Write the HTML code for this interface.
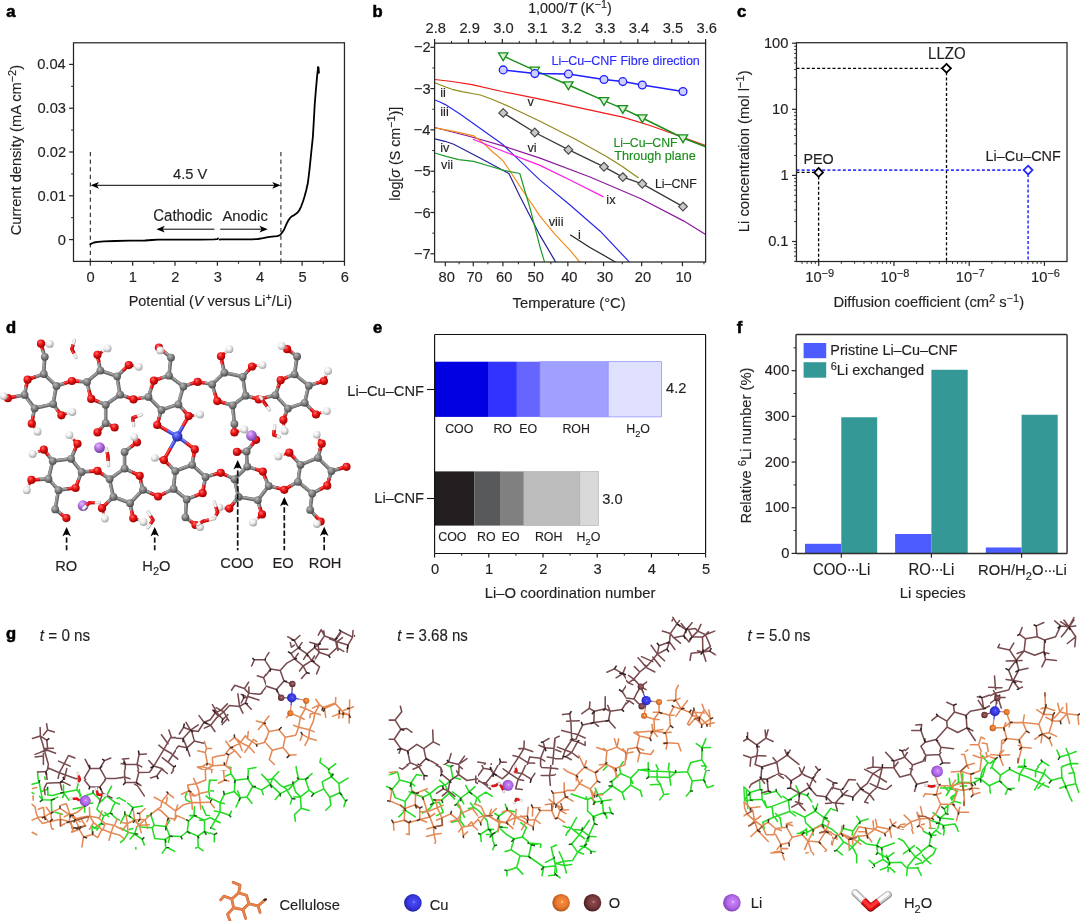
<!DOCTYPE html>
<html lang="en"><head><meta charset="utf-8"><title>Figure</title>
<style>
html,body{margin:0;padding:0;background:#fff;}
body{width:1080px;height:921px;overflow:hidden;}
svg{display:block;font-family:"Liberation Sans", sans-serif;}
text{white-space:pre;}
</style></head><body>
<svg width="1080" height="921" viewBox="0 0 1080 921">
<defs>
<clipPath id="clipb"><rect x="434.60" y="43.20" width="271.00" height="218.80"/></clipPath>
<radialGradient id="gC" cx="0.40" cy="0.36" r="0.68" fx="0.36" fy="0.30"><stop offset="0" stop-color="#bababa"/><stop offset="0.45" stop-color="#868686"/><stop offset="1" stop-color="#464646"/></radialGradient>
<radialGradient id="gO" cx="0.40" cy="0.36" r="0.68" fx="0.36" fy="0.30"><stop offset="0" stop-color="#ff6e6e"/><stop offset="0.45" stop-color="#ec1414"/><stop offset="1" stop-color="#8e0000"/></radialGradient>
<radialGradient id="gH" cx="0.40" cy="0.36" r="0.68" fx="0.36" fy="0.30"><stop offset="0" stop-color="#ffffff"/><stop offset="0.45" stop-color="#eeeeee"/><stop offset="1" stop-color="#9c9c9c"/></radialGradient>
<radialGradient id="gCu" cx="0.40" cy="0.36" r="0.68" fx="0.36" fy="0.30"><stop offset="0" stop-color="#8e96ff"/><stop offset="0.45" stop-color="#4450e8"/><stop offset="1" stop-color="#1a2080"/></radialGradient>
<radialGradient id="gLi" cx="0.40" cy="0.36" r="0.68" fx="0.36" fy="0.30"><stop offset="0" stop-color="#e6bcff"/><stop offset="0.45" stop-color="#b472e4"/><stop offset="1" stop-color="#6e3a9c"/></radialGradient>
<radialGradient id="gOr" cx="0.40" cy="0.36" r="0.68" fx="0.36" fy="0.30"><stop offset="0" stop-color="#ffb070"/><stop offset="0.45" stop-color="#e87a30"/><stop offset="1" stop-color="#8a3c10"/></radialGradient>
<radialGradient id="gBr" cx="0.40" cy="0.36" r="0.68" fx="0.36" fy="0.30"><stop offset="0" stop-color="#b08080"/><stop offset="0.45" stop-color="#7a4a4c"/><stop offset="1" stop-color="#3e2022"/></radialGradient>
<radialGradient id="gCu2" cx="0.42" cy="0.40" r="0.62" fx="0.40" fy="0.36"><stop offset="0" stop-color="#8a92ff"/><stop offset="0.12" stop-color="#4a55f0"/><stop offset="0.6" stop-color="#3a44dd"/><stop offset="1" stop-color="#151a7a"/></radialGradient>
<radialGradient id="LBr2" cx="0.54" cy="0.47" r="0.60" fx="0.56" fy="0.45"><stop offset="0" stop-color="#d8a8a8"/><stop offset="0.13" stop-color="#96585c"/><stop offset="0.55" stop-color="#7c4448"/><stop offset="0.85" stop-color="#54282c"/><stop offset="1" stop-color="#2a1012"/></radialGradient>
<clipPath id="cgA1"><rect x="20.0" y="700.0" width="175.0" height="172.0"/></clipPath>
<clipPath id="cgA3"><rect x="195.0" y="615.0" width="175.0" height="137.0"/></clipPath>
<clipPath id="cgA2"><rect x="195.0" y="752.0" width="175.0" height="132.0"/></clipPath>
<clipPath id="cgB1"><rect x="380.0" y="690.0" width="175.0" height="154.0"/></clipPath>
<clipPath id="cgB2"><rect x="555.0" y="610.0" width="175.0" height="142.0"/></clipPath>
<clipPath id="cgB3"><rect x="555.0" y="752.0" width="175.0" height="142.0"/></clipPath>
<clipPath id="cgB4"><rect x="440.0" y="844.0" width="115.0" height="46.0"/></clipPath>
<clipPath id="cgC1"><rect x="735.0" y="700.0" width="170.0" height="154.0"/></clipPath>
<clipPath id="cgC2"><rect x="905.0" y="610.0" width="175.0" height="142.0"/></clipPath>
<clipPath id="cgC3"><rect x="905.0" y="752.0" width="175.0" height="142.0"/></clipPath>
<clipPath id="cgC4"><rect x="760.0" y="854.0" width="145.0" height="36.0"/></clipPath>
<clipPath id="cgF1"><rect x="120.0" y="770.0" width="90.0" height="77.0"/></clipPath>
<clipPath id="cgF2"><rect x="30.0" y="780.0" width="90.0" height="77.0"/></clipPath>
<clipPath id="cgF3"><rect x="266.0" y="620.0" width="88.0" height="77.0"/></clipPath>
<clipPath id="cgF4"><rect x="266.0" y="697.0" width="88.0" height="73.0"/></clipPath>
<clipPath id="cgF5"><rect x="176.0" y="693.0" width="90.0" height="77.0"/></clipPath>
<clipPath id="cgF6"><rect x="389.2" y="765.0" width="88.80000000000001" height="77.0"/></clipPath>
<clipPath id="cgF7"><rect x="478.0" y="765.0" width="90.0" height="77.0"/></clipPath>
<clipPath id="cgF8"><rect x="555.0" y="740.0" width="85.0" height="77.0"/></clipPath>
<clipPath id="cgF9"><rect x="626.0" y="616.0" width="89.60000000000002" height="77.0"/></clipPath>
<clipPath id="cgF10"><rect x="626.0" y="693.0" width="89.60000000000002" height="77.0"/></clipPath>
<clipPath id="cgF11"><rect x="743.4" y="775.0" width="88.60000000000002" height="77.0"/></clipPath>
<clipPath id="cgF12"><rect x="832.0" y="790.0" width="90.0" height="77.0"/></clipPath>
<clipPath id="cgF13"><rect x="900.0" y="752.0" width="90.0" height="77.0"/></clipPath>
<clipPath id="cgF14"><rect x="990.0" y="690.0" width="90.0" height="77.0"/></clipPath>
<radialGradient id="LCu" cx="0.54" cy="0.47" r="0.60" fx="0.56" fy="0.45"><stop offset="0" stop-color="#a0a0ff"/><stop offset="0.13" stop-color="#4a4af6"/><stop offset="0.55" stop-color="#3838e0"/><stop offset="0.85" stop-color="#2626b0"/><stop offset="1" stop-color="#14146a"/></radialGradient>
<radialGradient id="LOr" cx="0.54" cy="0.47" r="0.60" fx="0.56" fy="0.45"><stop offset="0" stop-color="#ffe6a0"/><stop offset="0.13" stop-color="#f58a3c"/><stop offset="0.55" stop-color="#e87830"/><stop offset="0.85" stop-color="#b85818"/><stop offset="1" stop-color="#6a2c06"/></radialGradient>
<radialGradient id="LBr" cx="0.54" cy="0.47" r="0.60" fx="0.56" fy="0.45"><stop offset="0" stop-color="#e0a0a0"/><stop offset="0.13" stop-color="#8a4a4e"/><stop offset="0.55" stop-color="#74383c"/><stop offset="0.85" stop-color="#4e2024"/><stop offset="1" stop-color="#220a0c"/></radialGradient>
<radialGradient id="LLi" cx="0.54" cy="0.47" r="0.60" fx="0.56" fy="0.45"><stop offset="0" stop-color="#fbe0ff"/><stop offset="0.13" stop-color="#c884fa"/><stop offset="0.55" stop-color="#b268e6"/><stop offset="0.85" stop-color="#8a48be"/><stop offset="1" stop-color="#4a2070"/></radialGradient>
</defs>
<rect x="0" y="0" width="1080" height="921" fill="#ffffff"/>
<text transform="translate(6.29 16.85) scale(1.02 1)" font-size="16.27" fill="#000" font-weight="bold" stroke="#000" stroke-width="0.55" paint-order="stroke"><tspan>a</tspan></text>
<line x1="90.30" y1="152.00" x2="90.30" y2="261.40" stroke="#111" stroke-width="1.0" stroke-linecap="butt" stroke-dasharray="4.2 3.4"/>
<line x1="280.92" y1="152.00" x2="280.92" y2="261.40" stroke="#111" stroke-width="1.0" stroke-linecap="butt" stroke-dasharray="4.2 3.4"/>
<rect x="73.50" y="42.80" width="270.95" height="218.60" fill="none" stroke="#262626" stroke-width="1.25"/>
<line x1="90.30" y1="261.40" x2="90.30" y2="265.80" stroke="#262626" stroke-width="1.2" stroke-linecap="butt"/>
<text transform="translate(86.62 281.70) scale(0.955 1)" font-size="15.39" fill="#231f20" stroke="#231f20" stroke-width="0.16" paint-order="stroke"><tspan>0</tspan></text>
<line x1="132.66" y1="261.40" x2="132.66" y2="265.80" stroke="#262626" stroke-width="1.2" stroke-linecap="butt"/>
<text transform="translate(128.76 281.70) scale(0.955 1)" font-size="15.39" fill="#231f20" stroke="#231f20" stroke-width="0.16" paint-order="stroke"><tspan>1</tspan></text>
<line x1="175.02" y1="261.40" x2="175.02" y2="265.80" stroke="#262626" stroke-width="1.2" stroke-linecap="butt"/>
<text transform="translate(171.30 281.70) scale(0.955 1)" font-size="15.39" fill="#231f20" stroke="#231f20" stroke-width="0.16" paint-order="stroke"><tspan>2</tspan></text>
<line x1="217.38" y1="261.40" x2="217.38" y2="265.80" stroke="#262626" stroke-width="1.2" stroke-linecap="butt"/>
<text transform="translate(213.74 281.70) scale(0.955 1)" font-size="15.39" fill="#231f20" stroke="#231f20" stroke-width="0.16" paint-order="stroke"><tspan>3</tspan></text>
<line x1="259.74" y1="261.40" x2="259.74" y2="265.80" stroke="#262626" stroke-width="1.2" stroke-linecap="butt"/>
<text transform="translate(256.10 281.70) scale(0.955 1)" font-size="15.39" fill="#231f20" stroke="#231f20" stroke-width="0.16" paint-order="stroke"><tspan>4</tspan></text>
<line x1="302.10" y1="261.40" x2="302.10" y2="265.80" stroke="#262626" stroke-width="1.2" stroke-linecap="butt"/>
<text transform="translate(298.42 281.70) scale(0.955 1)" font-size="15.39" fill="#231f20" stroke="#231f20" stroke-width="0.16" paint-order="stroke"><tspan>5</tspan></text>
<line x1="344.46" y1="261.40" x2="344.46" y2="265.80" stroke="#262626" stroke-width="1.2" stroke-linecap="butt"/>
<text transform="translate(340.71 281.70) scale(0.955 1)" font-size="15.39" fill="#231f20" stroke="#231f20" stroke-width="0.16" paint-order="stroke"><tspan>6</tspan></text>
<line x1="111.48" y1="261.40" x2="111.48" y2="263.80" stroke="#262626" stroke-width="1.0" stroke-linecap="butt"/>
<line x1="153.84" y1="261.40" x2="153.84" y2="263.80" stroke="#262626" stroke-width="1.0" stroke-linecap="butt"/>
<line x1="196.20" y1="261.40" x2="196.20" y2="263.80" stroke="#262626" stroke-width="1.0" stroke-linecap="butt"/>
<line x1="238.56" y1="261.40" x2="238.56" y2="263.80" stroke="#262626" stroke-width="1.0" stroke-linecap="butt"/>
<line x1="280.92" y1="261.40" x2="280.92" y2="263.80" stroke="#262626" stroke-width="1.0" stroke-linecap="butt"/>
<line x1="323.28" y1="261.40" x2="323.28" y2="263.80" stroke="#262626" stroke-width="1.0" stroke-linecap="butt"/>
<line x1="69.10" y1="239.60" x2="73.50" y2="239.60" stroke="#262626" stroke-width="1.2" stroke-linecap="butt"/>
<text transform="translate(57.76 244.50) scale(0.955 1)" font-size="15.39" fill="#231f20" stroke="#231f20" stroke-width="0.16" paint-order="stroke"><tspan>0</tspan></text>
<line x1="69.10" y1="195.80" x2="73.50" y2="195.80" stroke="#262626" stroke-width="1.2" stroke-linecap="butt"/>
<text transform="translate(37.47 200.70) scale(0.955 1)" font-size="15.39" fill="#231f20" stroke="#231f20" stroke-width="0.16" paint-order="stroke"><tspan>0.01</tspan></text>
<line x1="69.10" y1="152.00" x2="73.50" y2="152.00" stroke="#262626" stroke-width="1.2" stroke-linecap="butt"/>
<text transform="translate(37.47 156.90) scale(0.955 1)" font-size="15.39" fill="#231f20" stroke="#231f20" stroke-width="0.16" paint-order="stroke"><tspan>0.02</tspan></text>
<line x1="69.10" y1="108.20" x2="73.50" y2="108.20" stroke="#262626" stroke-width="1.2" stroke-linecap="butt"/>
<text transform="translate(37.40 113.10) scale(0.955 1)" font-size="15.39" fill="#231f20" stroke="#231f20" stroke-width="0.16" paint-order="stroke"><tspan>0.03</tspan></text>
<line x1="69.10" y1="64.40" x2="73.50" y2="64.40" stroke="#262626" stroke-width="1.2" stroke-linecap="butt"/>
<text transform="translate(37.18 69.30) scale(0.955 1)" font-size="15.39" fill="#231f20" stroke="#231f20" stroke-width="0.16" paint-order="stroke"><tspan>0.04</tspan></text>
<line x1="71.10" y1="217.70" x2="73.50" y2="217.70" stroke="#262626" stroke-width="1.0" stroke-linecap="butt"/>
<line x1="71.10" y1="173.90" x2="73.50" y2="173.90" stroke="#262626" stroke-width="1.0" stroke-linecap="butt"/>
<line x1="71.10" y1="130.10" x2="73.50" y2="130.10" stroke="#262626" stroke-width="1.0" stroke-linecap="butt"/>
<line x1="71.10" y1="86.30" x2="73.50" y2="86.30" stroke="#262626" stroke-width="1.0" stroke-linecap="butt"/>
<text transform="translate(128.64 305.80) scale(0.955 1)" font-size="15.18" fill="#231f20" stroke="#231f20" stroke-width="0.16" paint-order="stroke"><tspan>Potential (</tspan><tspan font-style="italic">V</tspan><tspan> versus Li</tspan><tspan dy="-4.86" font-size="11.38">+</tspan><tspan dy="4.86">/Li)</tspan></text>
<text transform="translate(21.20 235.23) rotate(-90) scale(0.955 1)" font-size="15.34" fill="#231f20" stroke="#231f20" stroke-width="0.16" paint-order="stroke"><tspan>Current density (mA cm</tspan><tspan dy="-4.91" font-size="11.51">−2</tspan><tspan dy="4.91">)</tspan></text>
<polyline points="90.30,244.20 91.50,243.60 94.00,242.50 98.00,241.80 104.00,241.30 115.00,241.00 130.00,240.70 145.00,240.50 152.00,240.00 158.00,239.60 175.00,239.60 200.00,239.60 214.00,239.30 217.30,239.10 218.00,238.40" fill="none" stroke="#000" stroke-width="1.8" stroke-linejoin="round" stroke-linecap="round"/>
<polyline points="219.60,239.60 221.00,239.40 240.00,239.40 252.00,239.30 258.00,239.00 263.00,238.20 268.00,237.20 272.00,236.70 277.00,236.20 279.50,235.40 281.00,234.10 283.90,230.00 286.90,223.20 288.60,220.00 290.10,217.90 292.00,216.20 294.20,215.10 296.00,213.80 297.60,212.50 299.40,210.00 301.00,206.80 302.80,202.00 304.40,197.00 306.20,190.50 307.80,183.30 309.00,174.00 310.10,163.90 311.50,150.00 312.90,136.60 313.80,121.00 314.70,104.70 315.80,91.00 317.00,77.30 318.00,68.00" fill="none" stroke="#000" stroke-width="1.8" stroke-linejoin="round" stroke-linecap="round"/>
<line x1="318.20" y1="67.50" x2="318.60" y2="72.50" stroke="#000" stroke-width="2.4" stroke-linecap="round"/>
<line x1="95.30" y1="185.30" x2="275.92" y2="185.30" stroke="#000" stroke-width="1.0" stroke-linecap="butt"/>
<path d="M90.60,185.30 L99.00,181.90 L96.80,185.30 L99.00,188.70 Z" fill="#000" stroke="none" stroke-width="1" stroke-linejoin="round" stroke-linecap="round"/>
<path d="M280.62,185.30 L272.22,188.70 L274.42,185.30 L272.22,181.90 Z" fill="#000" stroke="none" stroke-width="1" stroke-linejoin="round" stroke-linecap="round"/>
<text transform="translate(173.09 179.20) scale(0.955 1)" font-size="15.39" fill="#231f20" stroke="#231f20" stroke-width="0.16" paint-order="stroke"><tspan>4.5 V</tspan></text>
<line x1="161.00" y1="229.20" x2="214.40" y2="229.20" stroke="#000" stroke-width="1.0" stroke-linecap="butt"/>
<path d="M156.40,229.20 L164.80,225.80 L162.60,229.20 L164.80,232.60 Z" fill="#000" stroke="none" stroke-width="1" stroke-linejoin="round" stroke-linecap="round"/>
<line x1="220.20" y1="229.20" x2="263.00" y2="229.20" stroke="#000" stroke-width="1.0" stroke-linecap="butt"/>
<path d="M267.80,229.20 L259.40,232.60 L261.60,229.20 L259.40,225.80 Z" fill="#000" stroke="none" stroke-width="1" stroke-linejoin="round" stroke-linecap="round"/>
<text transform="translate(153.25 220.60) scale(0.955 1)" font-size="15.69" fill="#231f20" stroke="#231f20" stroke-width="0.16" paint-order="stroke"><tspan>Cathodic</tspan></text>
<text transform="translate(222.40 220.60) scale(0.955 1)" font-size="15.56" fill="#231f20" stroke="#231f20" stroke-width="0.16" paint-order="stroke"><tspan>Anodic</tspan></text>
<text transform="translate(372.62 16.85) scale(1.02 1)" font-size="16.27" fill="#000" font-weight="bold" stroke="#000" stroke-width="0.55" paint-order="stroke"><tspan>b</tspan></text>
<g clip-path="url(#clipb)">
<polyline points="434.80,79.50 452.00,81.50 472.00,84.60 502.00,91.50 540.00,99.20 580.00,107.80 622.80,117.10 650.00,125.50 680.00,136.30 705.60,145.50" fill="none" stroke="#f21a1a" stroke-width="1.2" stroke-linejoin="round" stroke-linecap="butt"/>
<polyline points="434.80,82.80 445.00,86.70 452.00,89.30 462.00,91.60 472.00,93.50 480.40,95.00 492.00,99.30 510.00,107.00 540.00,121.30 575.00,139.00 606.90,156.70 622.00,166.20 638.70,178.00" fill="none" stroke="#8f8a1a" stroke-width="1.2" stroke-linejoin="round" stroke-linecap="butt"/>
<polyline points="434.80,100.00 440.00,102.00 445.30,104.60 460.00,114.00 502.50,144.20 540.00,180.10 570.00,205.00 600.20,231.20 628.30,260.90 630.00,263.00" fill="none" stroke="#2a2ae8" stroke-width="1.2" stroke-linejoin="round" stroke-linecap="butt"/>
<polyline points="434.80,127.50 470.00,136.50 502.00,145.60 540.00,158.10 590.00,177.00 640.40,198.50 683.90,221.10 705.60,234.50" fill="none" stroke="#8a1a9a" stroke-width="1.2" stroke-linejoin="round" stroke-linecap="butt"/>
<polyline points="434.80,127.80 455.00,131.60 473.70,135.80 485.00,144.50 493.80,153.00 498.00,156.30 503.00,160.90 510.00,171.00 520.00,186.50 540.00,216.10 555.00,234.30 570.10,250.40 578.80,260.90 581.00,263.50" fill="none" stroke="#f28c1e" stroke-width="1.2" stroke-linejoin="round" stroke-linecap="butt"/>
<polyline points="472.90,139.20 500.00,150.00 540.00,165.40 570.00,180.00 603.60,196.90" fill="none" stroke="#ff1ae0" stroke-width="1.2" stroke-linejoin="round" stroke-linecap="butt"/>
<polyline points="434.80,138.80 445.00,141.30 453.70,144.20 480.00,158.00 508.90,173.50 520.00,196.50 540.00,235.40 555.00,260.90 557.00,264.00" fill="none" stroke="#24249a" stroke-width="1.2" stroke-linejoin="round" stroke-linecap="butt"/>
<polyline points="434.80,153.00 447.00,156.60 458.70,159.70 473.70,161.40 490.00,166.30 503.90,170.40 510.00,171.70 519.80,173.50 524.00,188.00 530.00,208.00 540.00,247.00 544.20,260.90 545.00,264.00" fill="none" stroke="#1f9a2e" stroke-width="1.2" stroke-linejoin="round" stroke-linecap="butt"/>
<polyline points="570.10,234.70 590.00,247.50 613.60,260.90 617.00,263.00" fill="none" stroke="#222" stroke-width="1.2" stroke-linejoin="round" stroke-linecap="butt"/>
</g>
<polyline points="503.20,112.90 534.80,132.50 568.40,149.70 604.00,166.80 622.80,177.10 642.30,183.80 683.00,206.60" fill="none" stroke="#3c3c3c" stroke-width="1.35" stroke-linejoin="round" stroke-linecap="butt"/>
<polygon points="503.20,108.55 507.55,112.90 503.20,117.25 498.85,112.90" fill="#c9c9c9" stroke="#4a4a4a" stroke-width="1.2" stroke-linejoin="miter" stroke-linecap="butt"/>
<polygon points="534.80,128.15 539.15,132.50 534.80,136.85 530.45,132.50" fill="#c9c9c9" stroke="#4a4a4a" stroke-width="1.2" stroke-linejoin="miter" stroke-linecap="butt"/>
<polygon points="568.40,145.35 572.75,149.70 568.40,154.05 564.05,149.70" fill="#c9c9c9" stroke="#4a4a4a" stroke-width="1.2" stroke-linejoin="miter" stroke-linecap="butt"/>
<polygon points="604.00,162.45 608.35,166.80 604.00,171.15 599.65,166.80" fill="#c9c9c9" stroke="#4a4a4a" stroke-width="1.2" stroke-linejoin="miter" stroke-linecap="butt"/>
<polygon points="622.80,172.75 627.15,177.10 622.80,181.45 618.45,177.10" fill="#c9c9c9" stroke="#4a4a4a" stroke-width="1.2" stroke-linejoin="miter" stroke-linecap="butt"/>
<polygon points="642.30,179.45 646.65,183.80 642.30,188.15 637.95,183.80" fill="#c9c9c9" stroke="#4a4a4a" stroke-width="1.2" stroke-linejoin="miter" stroke-linecap="butt"/>
<polygon points="683.00,202.25 687.35,206.60 683.00,210.95 678.65,206.60" fill="#c9c9c9" stroke="#4a4a4a" stroke-width="1.2" stroke-linejoin="miter" stroke-linecap="butt"/>
<polyline points="503.20,56.00 534.80,70.30 568.40,85.00 604.00,100.70 622.80,108.70 642.30,118.00 683.00,138.00 705.60,146.80" fill="none" stroke="#1a8f1a" stroke-width="1.45" stroke-linejoin="round" stroke-linecap="butt"/>
<polygon points="498.50,52.90 507.90,52.90 503.20,60.70" fill="#d5f2d5" stroke="#1a8f1a" stroke-width="1.3" stroke-linejoin="miter" stroke-linecap="butt"/>
<polygon points="530.10,67.20 539.50,67.20 534.80,75.00" fill="#d5f2d5" stroke="#1a8f1a" stroke-width="1.3" stroke-linejoin="miter" stroke-linecap="butt"/>
<polygon points="563.70,81.90 573.10,81.90 568.40,89.70" fill="#d5f2d5" stroke="#1a8f1a" stroke-width="1.3" stroke-linejoin="miter" stroke-linecap="butt"/>
<polygon points="599.30,97.60 608.70,97.60 604.00,105.40" fill="#d5f2d5" stroke="#1a8f1a" stroke-width="1.3" stroke-linejoin="miter" stroke-linecap="butt"/>
<polygon points="618.10,105.60 627.50,105.60 622.80,113.40" fill="#d5f2d5" stroke="#1a8f1a" stroke-width="1.3" stroke-linejoin="miter" stroke-linecap="butt"/>
<polygon points="637.60,114.90 647.00,114.90 642.30,122.70" fill="#d5f2d5" stroke="#1a8f1a" stroke-width="1.3" stroke-linejoin="miter" stroke-linecap="butt"/>
<polygon points="678.30,134.90 687.70,134.90 683.00,142.70" fill="#d5f2d5" stroke="#1a8f1a" stroke-width="1.3" stroke-linejoin="miter" stroke-linecap="butt"/>
<polyline points="503.20,69.90 534.80,73.60 568.40,74.10 604.00,79.50 622.80,81.60 642.30,85.00 683.00,91.50" fill="none" stroke="#1f1fff" stroke-width="1.5" stroke-linejoin="round" stroke-linecap="butt"/>
<circle cx="503.20" cy="69.90" r="3.90" fill="#cfcfff" stroke="#1f1fff" stroke-width="1.3"/>
<circle cx="534.80" cy="73.60" r="3.90" fill="#cfcfff" stroke="#1f1fff" stroke-width="1.3"/>
<circle cx="568.40" cy="74.10" r="3.90" fill="#cfcfff" stroke="#1f1fff" stroke-width="1.3"/>
<circle cx="604.00" cy="79.50" r="3.90" fill="#cfcfff" stroke="#1f1fff" stroke-width="1.3"/>
<circle cx="622.80" cy="81.60" r="3.90" fill="#cfcfff" stroke="#1f1fff" stroke-width="1.3"/>
<circle cx="642.30" cy="85.00" r="3.90" fill="#cfcfff" stroke="#1f1fff" stroke-width="1.3"/>
<circle cx="683.00" cy="91.50" r="3.90" fill="#cfcfff" stroke="#1f1fff" stroke-width="1.3"/>
<rect x="434.60" y="43.20" width="271.00" height="218.80" fill="none" stroke="#262626" stroke-width="1.25"/>
<line x1="434.60" y1="39.00" x2="434.60" y2="43.20" stroke="#262626" stroke-width="1.2" stroke-linecap="butt"/>
<text transform="translate(425.51 32.70) scale(0.955 1)" font-size="15.39" fill="#231f20" stroke="#231f20" stroke-width="0.16" paint-order="stroke"><tspan>2.8</tspan></text>
<line x1="468.48" y1="39.00" x2="468.48" y2="43.20" stroke="#262626" stroke-width="1.2" stroke-linecap="butt"/>
<text transform="translate(459.42 32.70) scale(0.955 1)" font-size="15.39" fill="#231f20" stroke="#231f20" stroke-width="0.16" paint-order="stroke"><tspan>2.9</tspan></text>
<line x1="502.35" y1="39.00" x2="502.35" y2="43.20" stroke="#262626" stroke-width="1.2" stroke-linecap="butt"/>
<text transform="translate(493.33 32.70) scale(0.955 1)" font-size="15.39" fill="#231f20" stroke="#231f20" stroke-width="0.16" paint-order="stroke"><tspan>3.0</tspan></text>
<line x1="536.22" y1="39.00" x2="536.22" y2="43.20" stroke="#262626" stroke-width="1.2" stroke-linecap="butt"/>
<text transform="translate(527.28 32.70) scale(0.955 1)" font-size="15.39" fill="#231f20" stroke="#231f20" stroke-width="0.16" paint-order="stroke"><tspan>3.1</tspan></text>
<line x1="570.10" y1="39.00" x2="570.10" y2="43.20" stroke="#262626" stroke-width="1.2" stroke-linecap="butt"/>
<text transform="translate(561.16 32.70) scale(0.955 1)" font-size="15.39" fill="#231f20" stroke="#231f20" stroke-width="0.16" paint-order="stroke"><tspan>3.2</tspan></text>
<line x1="603.98" y1="39.00" x2="603.98" y2="43.20" stroke="#262626" stroke-width="1.2" stroke-linecap="butt"/>
<text transform="translate(595.00 32.70) scale(0.955 1)" font-size="15.39" fill="#231f20" stroke="#231f20" stroke-width="0.16" paint-order="stroke"><tspan>3.3</tspan></text>
<line x1="637.85" y1="39.00" x2="637.85" y2="43.20" stroke="#262626" stroke-width="1.2" stroke-linecap="butt"/>
<text transform="translate(628.76 32.70) scale(0.955 1)" font-size="15.39" fill="#231f20" stroke="#231f20" stroke-width="0.16" paint-order="stroke"><tspan>3.4</tspan></text>
<line x1="671.73" y1="39.00" x2="671.73" y2="43.20" stroke="#262626" stroke-width="1.2" stroke-linecap="butt"/>
<text transform="translate(662.75 32.70) scale(0.955 1)" font-size="15.39" fill="#231f20" stroke="#231f20" stroke-width="0.16" paint-order="stroke"><tspan>3.5</tspan></text>
<line x1="705.60" y1="39.00" x2="705.60" y2="43.20" stroke="#262626" stroke-width="1.2" stroke-linecap="butt"/>
<text transform="translate(696.62 32.70) scale(0.955 1)" font-size="15.39" fill="#231f20" stroke="#231f20" stroke-width="0.16" paint-order="stroke"><tspan>3.6</tspan></text>
<line x1="451.54" y1="40.90" x2="451.54" y2="43.20" stroke="#262626" stroke-width="1.0" stroke-linecap="butt"/>
<line x1="485.41" y1="40.90" x2="485.41" y2="43.20" stroke="#262626" stroke-width="1.0" stroke-linecap="butt"/>
<line x1="519.29" y1="40.90" x2="519.29" y2="43.20" stroke="#262626" stroke-width="1.0" stroke-linecap="butt"/>
<line x1="553.16" y1="40.90" x2="553.16" y2="43.20" stroke="#262626" stroke-width="1.0" stroke-linecap="butt"/>
<line x1="587.04" y1="40.90" x2="587.04" y2="43.20" stroke="#262626" stroke-width="1.0" stroke-linecap="butt"/>
<line x1="620.91" y1="40.90" x2="620.91" y2="43.20" stroke="#262626" stroke-width="1.0" stroke-linecap="butt"/>
<line x1="654.79" y1="40.90" x2="654.79" y2="43.20" stroke="#262626" stroke-width="1.0" stroke-linecap="butt"/>
<line x1="688.66" y1="40.90" x2="688.66" y2="43.20" stroke="#262626" stroke-width="1.0" stroke-linecap="butt"/>
<line x1="445.32" y1="262.00" x2="445.32" y2="266.20" stroke="#262626" stroke-width="1.2" stroke-linecap="butt"/>
<text transform="translate(438.53 281.70) scale(0.955 1)" font-size="15.39" fill="#231f20" stroke="#231f20" stroke-width="0.16" paint-order="stroke"><tspan>80</tspan></text>
<line x1="473.28" y1="262.00" x2="473.28" y2="266.20" stroke="#262626" stroke-width="1.2" stroke-linecap="butt"/>
<text transform="translate(466.41 281.70) scale(0.955 1)" font-size="15.39" fill="#231f20" stroke="#231f20" stroke-width="0.16" paint-order="stroke"><tspan>70</tspan></text>
<line x1="502.91" y1="262.00" x2="502.91" y2="266.20" stroke="#262626" stroke-width="1.2" stroke-linecap="butt"/>
<text transform="translate(496.04 281.70) scale(0.955 1)" font-size="15.39" fill="#231f20" stroke="#231f20" stroke-width="0.16" paint-order="stroke"><tspan>60</tspan></text>
<line x1="534.37" y1="262.00" x2="534.37" y2="266.20" stroke="#262626" stroke-width="1.2" stroke-linecap="butt"/>
<text transform="translate(527.58 281.70) scale(0.955 1)" font-size="15.39" fill="#231f20" stroke="#231f20" stroke-width="0.16" paint-order="stroke"><tspan>50</tspan></text>
<line x1="567.85" y1="262.00" x2="567.85" y2="266.20" stroke="#262626" stroke-width="1.2" stroke-linecap="butt"/>
<text transform="translate(561.20 281.70) scale(0.955 1)" font-size="15.39" fill="#231f20" stroke="#231f20" stroke-width="0.16" paint-order="stroke"><tspan>40</tspan></text>
<line x1="603.53" y1="262.00" x2="603.53" y2="266.20" stroke="#262626" stroke-width="1.2" stroke-linecap="butt"/>
<text transform="translate(596.78 281.70) scale(0.955 1)" font-size="15.39" fill="#231f20" stroke="#231f20" stroke-width="0.16" paint-order="stroke"><tspan>30</tspan></text>
<line x1="641.65" y1="262.00" x2="641.65" y2="266.20" stroke="#262626" stroke-width="1.2" stroke-linecap="butt"/>
<text transform="translate(634.78 281.70) scale(0.955 1)" font-size="15.39" fill="#231f20" stroke="#231f20" stroke-width="0.16" paint-order="stroke"><tspan>20</tspan></text>
<line x1="682.46" y1="262.00" x2="682.46" y2="266.20" stroke="#262626" stroke-width="1.2" stroke-linecap="butt"/>
<text transform="translate(675.41 281.70) scale(0.955 1)" font-size="15.39" fill="#231f20" stroke="#231f20" stroke-width="0.16" paint-order="stroke"><tspan>10</tspan></text>
<line x1="459.10" y1="262.00" x2="459.10" y2="264.30" stroke="#262626" stroke-width="1.0" stroke-linecap="butt"/>
<line x1="487.87" y1="262.00" x2="487.87" y2="264.30" stroke="#262626" stroke-width="1.0" stroke-linecap="butt"/>
<line x1="518.40" y1="262.00" x2="518.40" y2="264.30" stroke="#262626" stroke-width="1.0" stroke-linecap="butt"/>
<line x1="550.85" y1="262.00" x2="550.85" y2="264.30" stroke="#262626" stroke-width="1.0" stroke-linecap="butt"/>
<line x1="585.40" y1="262.00" x2="585.40" y2="264.30" stroke="#262626" stroke-width="1.0" stroke-linecap="butt"/>
<line x1="622.27" y1="262.00" x2="622.27" y2="264.30" stroke="#262626" stroke-width="1.0" stroke-linecap="butt"/>
<line x1="661.70" y1="262.00" x2="661.70" y2="264.30" stroke="#262626" stroke-width="1.0" stroke-linecap="butt"/>
<line x1="703.97" y1="262.00" x2="703.97" y2="264.30" stroke="#262626" stroke-width="1.0" stroke-linecap="butt"/>
<line x1="430.40" y1="253.80" x2="434.60" y2="253.80" stroke="#262626" stroke-width="1.2" stroke-linecap="butt"/>
<text transform="translate(414.00 258.80) scale(0.955 1)" font-size="15.39" fill="#231f20" stroke="#231f20" stroke-width="0.16" paint-order="stroke"><tspan>−7</tspan></text>
<line x1="430.40" y1="212.50" x2="434.60" y2="212.50" stroke="#262626" stroke-width="1.2" stroke-linecap="butt"/>
<text transform="translate(413.93 217.50) scale(0.955 1)" font-size="15.39" fill="#231f20" stroke="#231f20" stroke-width="0.16" paint-order="stroke"><tspan>−6</tspan></text>
<line x1="430.40" y1="171.20" x2="434.60" y2="171.20" stroke="#262626" stroke-width="1.2" stroke-linecap="butt"/>
<text transform="translate(413.93 176.20) scale(0.955 1)" font-size="15.39" fill="#231f20" stroke="#231f20" stroke-width="0.16" paint-order="stroke"><tspan>−5</tspan></text>
<line x1="430.40" y1="129.90" x2="434.60" y2="129.90" stroke="#262626" stroke-width="1.2" stroke-linecap="butt"/>
<text transform="translate(413.71 134.90) scale(0.955 1)" font-size="15.39" fill="#231f20" stroke="#231f20" stroke-width="0.16" paint-order="stroke"><tspan>−4</tspan></text>
<line x1="430.40" y1="88.60" x2="434.60" y2="88.60" stroke="#262626" stroke-width="1.2" stroke-linecap="butt"/>
<text transform="translate(413.93 93.60) scale(0.955 1)" font-size="15.39" fill="#231f20" stroke="#231f20" stroke-width="0.16" paint-order="stroke"><tspan>−3</tspan></text>
<line x1="430.40" y1="47.30" x2="434.60" y2="47.30" stroke="#262626" stroke-width="1.2" stroke-linecap="butt"/>
<text transform="translate(414.00 52.30) scale(0.955 1)" font-size="15.39" fill="#231f20" stroke="#231f20" stroke-width="0.16" paint-order="stroke"><tspan>−2</tspan></text>
<line x1="432.30" y1="67.95" x2="434.60" y2="67.95" stroke="#262626" stroke-width="1.0" stroke-linecap="butt"/>
<line x1="432.30" y1="109.25" x2="434.60" y2="109.25" stroke="#262626" stroke-width="1.0" stroke-linecap="butt"/>
<line x1="432.30" y1="150.55" x2="434.60" y2="150.55" stroke="#262626" stroke-width="1.0" stroke-linecap="butt"/>
<line x1="432.30" y1="191.85" x2="434.60" y2="191.85" stroke="#262626" stroke-width="1.0" stroke-linecap="butt"/>
<line x1="432.30" y1="233.15" x2="434.60" y2="233.15" stroke="#262626" stroke-width="1.0" stroke-linecap="butt"/>
<text transform="translate(528.13 12.60) scale(0.955 1)" font-size="14.95" fill="#231f20" stroke="#231f20" stroke-width="0.16" paint-order="stroke"><tspan>1,000/</tspan><tspan font-style="italic">T</tspan><tspan> (K</tspan><tspan dy="-4.78" font-size="11.21">−1</tspan><tspan dy="4.78">)</tspan></text>
<text transform="translate(512.61 307.50) scale(0.955 1)" font-size="15.42" fill="#231f20" stroke="#231f20" stroke-width="0.16" paint-order="stroke"><tspan>Temperature (°C)</tspan></text>
<text transform="translate(400.00 200.73) rotate(-90) scale(0.955 1)" font-size="14.98" fill="#231f20" stroke="#231f20" stroke-width="0.16" paint-order="stroke"><tspan>log[</tspan><tspan font-style="italic">σ</tspan><tspan> (S cm</tspan><tspan dy="-4.79" font-size="11.23">−1</tspan><tspan dy="4.79">)]</tspan></text>
<text transform="translate(551.50 65.20) scale(0.955 1)" font-size="13.14" fill="#2a2aff" stroke="#2a2aff" stroke-width="0.16" paint-order="stroke"><tspan>Li–Cu–CNF Fibre direction</tspan></text>
<text transform="translate(613.42 146.70) scale(0.955 1)" font-size="12.87" fill="#1a8f1a" stroke="#1a8f1a" stroke-width="0.16" paint-order="stroke"><tspan>Li–Cu–CNF</tspan></text>
<text transform="translate(614.35 160.40) scale(0.955 1)" font-size="13.21" fill="#1a8f1a" stroke="#1a8f1a" stroke-width="0.16" paint-order="stroke"><tspan>Through plane</tspan></text>
<text transform="translate(654.91 188.20) scale(0.955 1)" font-size="12.95" fill="#231f20" stroke="#231f20" stroke-width="0.16" paint-order="stroke"><tspan>Li–CNF</tspan></text>
<text transform="translate(440.27 96.70) scale(0.955 1)" font-size="13.30" fill="#231f20" stroke="#231f20" stroke-width="0.16" paint-order="stroke"><tspan>ii</tspan></text>
<text transform="translate(440.27 115.90) scale(0.955 1)" font-size="13.30" fill="#231f20" stroke="#231f20" stroke-width="0.16" paint-order="stroke"><tspan>iii</tspan></text>
<text transform="translate(440.27 152.20) scale(0.955 1)" font-size="13.30" fill="#231f20" stroke="#231f20" stroke-width="0.16" paint-order="stroke"><tspan>iv</tspan></text>
<text transform="translate(441.10 168.90) scale(0.955 1)" font-size="13.30" fill="#231f20" stroke="#231f20" stroke-width="0.16" paint-order="stroke"><tspan>vii</tspan></text>
<text transform="translate(527.50 105.90) scale(0.955 1)" font-size="13.30" fill="#231f20" stroke="#231f20" stroke-width="0.16" paint-order="stroke"><tspan>v</tspan></text>
<text transform="translate(527.50 151.90) scale(0.955 1)" font-size="13.30" fill="#231f20" stroke="#231f20" stroke-width="0.16" paint-order="stroke"><tspan>vi</tspan></text>
<text transform="translate(548.70 225.80) scale(0.955 1)" font-size="13.30" fill="#231f20" stroke="#231f20" stroke-width="0.16" paint-order="stroke"><tspan>viii</tspan></text>
<text transform="translate(577.97 239.20) scale(0.955 1)" font-size="13.30" fill="#231f20" stroke="#231f20" stroke-width="0.16" paint-order="stroke"><tspan>i</tspan></text>
<text transform="translate(606.37 204.10) scale(0.955 1)" font-size="13.30" fill="#231f20" stroke="#231f20" stroke-width="0.16" paint-order="stroke"><tspan>ix</tspan></text>
<text transform="translate(736.92 16.85) scale(1.02 1)" font-size="16.27" fill="#000" font-weight="bold" stroke="#000" stroke-width="0.55" paint-order="stroke"><tspan>c</tspan></text>
<line x1="796.45" y1="68.30" x2="942.50" y2="68.30" stroke="#000" stroke-width="1.3" stroke-linecap="butt" stroke-dasharray="3.0 2.15"/>
<line x1="946.50" y1="72.30" x2="946.50" y2="261.50" stroke="#000" stroke-width="1.3" stroke-linecap="butt" stroke-dasharray="3.0 2.15"/>
<line x1="796.45" y1="172.40" x2="814.60" y2="172.40" stroke="#000" stroke-width="1.3" stroke-linecap="butt" stroke-dasharray="3.0 2.15"/>
<line x1="818.60" y1="176.40" x2="818.60" y2="261.50" stroke="#000" stroke-width="1.3" stroke-linecap="butt" stroke-dasharray="3.0 2.15"/>
<line x1="796.45" y1="170.10" x2="1024.10" y2="170.10" stroke="#3838ff" stroke-width="1.6" stroke-linecap="butt" stroke-dasharray="3.0 2.15"/>
<line x1="1028.10" y1="174.10" x2="1028.10" y2="261.50" stroke="#3838ff" stroke-width="1.6" stroke-linecap="butt" stroke-dasharray="3.0 2.15"/>
<polygon points="946.50,63.90 950.90,68.30 946.50,72.70 942.10,68.30" fill="#fff" stroke="#000" stroke-width="1.8" stroke-linejoin="miter" stroke-linecap="butt"/>
<polygon points="818.60,168.00 823.00,172.40 818.60,176.80 814.20,172.40" fill="#fff" stroke="#000" stroke-width="1.8" stroke-linejoin="miter" stroke-linecap="butt"/>
<polygon points="1028.10,165.70 1032.50,170.10 1028.10,174.50 1023.70,170.10" fill="#fff" stroke="#2a2aff" stroke-width="1.8" stroke-linejoin="miter" stroke-linecap="butt"/>
<rect x="796.45" y="42.70" width="270.55" height="218.80" fill="none" stroke="#262626" stroke-width="1.25"/>
<line x1="792.05" y1="43.20" x2="796.45" y2="43.20" stroke="#262626" stroke-width="1.2" stroke-linecap="butt"/>
<text transform="translate(763.94 47.90) scale(0.955 1)" font-size="15.39" fill="#231f20" stroke="#231f20" stroke-width="0.16" paint-order="stroke"><tspan>100</tspan></text>
<line x1="792.05" y1="109.30" x2="796.45" y2="109.30" stroke="#262626" stroke-width="1.2" stroke-linecap="butt"/>
<text transform="translate(772.10 114.00) scale(0.955 1)" font-size="15.39" fill="#231f20" stroke="#231f20" stroke-width="0.16" paint-order="stroke"><tspan>10</tspan></text>
<line x1="792.05" y1="175.40" x2="796.45" y2="175.40" stroke="#262626" stroke-width="1.2" stroke-linecap="butt"/>
<text transform="translate(780.40 180.10) scale(0.955 1)" font-size="15.39" fill="#231f20" stroke="#231f20" stroke-width="0.16" paint-order="stroke"><tspan>1</tspan></text>
<line x1="792.05" y1="241.50" x2="796.45" y2="241.50" stroke="#262626" stroke-width="1.2" stroke-linecap="butt"/>
<text transform="translate(768.13 246.20) scale(0.955 1)" font-size="15.39" fill="#231f20" stroke="#231f20" stroke-width="0.16" paint-order="stroke"><tspan>0.1</tspan></text>
<line x1="794.05" y1="261.40" x2="796.45" y2="261.40" stroke="#262626" stroke-width="0.9" stroke-linecap="butt"/>
<line x1="794.05" y1="256.16" x2="796.45" y2="256.16" stroke="#262626" stroke-width="0.9" stroke-linecap="butt"/>
<line x1="794.05" y1="251.74" x2="796.45" y2="251.74" stroke="#262626" stroke-width="0.9" stroke-linecap="butt"/>
<line x1="794.05" y1="247.91" x2="796.45" y2="247.91" stroke="#262626" stroke-width="0.9" stroke-linecap="butt"/>
<line x1="794.05" y1="244.52" x2="796.45" y2="244.52" stroke="#262626" stroke-width="0.9" stroke-linecap="butt"/>
<line x1="794.05" y1="221.60" x2="796.45" y2="221.60" stroke="#262626" stroke-width="0.9" stroke-linecap="butt"/>
<line x1="794.05" y1="209.96" x2="796.45" y2="209.96" stroke="#262626" stroke-width="0.9" stroke-linecap="butt"/>
<line x1="794.05" y1="201.70" x2="796.45" y2="201.70" stroke="#262626" stroke-width="0.9" stroke-linecap="butt"/>
<line x1="794.05" y1="195.30" x2="796.45" y2="195.30" stroke="#262626" stroke-width="0.9" stroke-linecap="butt"/>
<line x1="794.05" y1="190.06" x2="796.45" y2="190.06" stroke="#262626" stroke-width="0.9" stroke-linecap="butt"/>
<line x1="794.05" y1="185.64" x2="796.45" y2="185.64" stroke="#262626" stroke-width="0.9" stroke-linecap="butt"/>
<line x1="794.05" y1="181.81" x2="796.45" y2="181.81" stroke="#262626" stroke-width="0.9" stroke-linecap="butt"/>
<line x1="794.05" y1="178.42" x2="796.45" y2="178.42" stroke="#262626" stroke-width="0.9" stroke-linecap="butt"/>
<line x1="794.05" y1="155.50" x2="796.45" y2="155.50" stroke="#262626" stroke-width="0.9" stroke-linecap="butt"/>
<line x1="794.05" y1="143.86" x2="796.45" y2="143.86" stroke="#262626" stroke-width="0.9" stroke-linecap="butt"/>
<line x1="794.05" y1="135.60" x2="796.45" y2="135.60" stroke="#262626" stroke-width="0.9" stroke-linecap="butt"/>
<line x1="794.05" y1="129.20" x2="796.45" y2="129.20" stroke="#262626" stroke-width="0.9" stroke-linecap="butt"/>
<line x1="794.05" y1="123.96" x2="796.45" y2="123.96" stroke="#262626" stroke-width="0.9" stroke-linecap="butt"/>
<line x1="794.05" y1="119.54" x2="796.45" y2="119.54" stroke="#262626" stroke-width="0.9" stroke-linecap="butt"/>
<line x1="794.05" y1="115.71" x2="796.45" y2="115.71" stroke="#262626" stroke-width="0.9" stroke-linecap="butt"/>
<line x1="794.05" y1="112.32" x2="796.45" y2="112.32" stroke="#262626" stroke-width="0.9" stroke-linecap="butt"/>
<line x1="794.05" y1="89.40" x2="796.45" y2="89.40" stroke="#262626" stroke-width="0.9" stroke-linecap="butt"/>
<line x1="794.05" y1="77.76" x2="796.45" y2="77.76" stroke="#262626" stroke-width="0.9" stroke-linecap="butt"/>
<line x1="794.05" y1="69.50" x2="796.45" y2="69.50" stroke="#262626" stroke-width="0.9" stroke-linecap="butt"/>
<line x1="794.05" y1="63.10" x2="796.45" y2="63.10" stroke="#262626" stroke-width="0.9" stroke-linecap="butt"/>
<line x1="794.05" y1="57.86" x2="796.45" y2="57.86" stroke="#262626" stroke-width="0.9" stroke-linecap="butt"/>
<line x1="794.05" y1="53.44" x2="796.45" y2="53.44" stroke="#262626" stroke-width="0.9" stroke-linecap="butt"/>
<line x1="794.05" y1="49.61" x2="796.45" y2="49.61" stroke="#262626" stroke-width="0.9" stroke-linecap="butt"/>
<line x1="794.05" y1="46.22" x2="796.45" y2="46.22" stroke="#262626" stroke-width="0.9" stroke-linecap="butt"/>
<line x1="818.70" y1="261.50" x2="818.70" y2="265.90" stroke="#262626" stroke-width="1.2" stroke-linecap="butt"/>
<text transform="translate(805.34 281.60) scale(0.955 1)" font-size="15.39" fill="#231f20" stroke="#231f20" stroke-width="0.16" paint-order="stroke"><tspan>10</tspan><tspan dy="-4.93" font-size="11.54">−9</tspan></text>
<line x1="893.95" y1="261.50" x2="893.95" y2="265.90" stroke="#262626" stroke-width="1.2" stroke-linecap="butt"/>
<text transform="translate(880.56 281.60) scale(0.955 1)" font-size="15.39" fill="#231f20" stroke="#231f20" stroke-width="0.16" paint-order="stroke"><tspan>10</tspan><tspan dy="-4.93" font-size="11.54">−8</tspan></text>
<line x1="969.20" y1="261.50" x2="969.20" y2="265.90" stroke="#262626" stroke-width="1.2" stroke-linecap="butt"/>
<text transform="translate(955.84 281.60) scale(0.955 1)" font-size="15.39" fill="#231f20" stroke="#231f20" stroke-width="0.16" paint-order="stroke"><tspan>10</tspan><tspan dy="-4.93" font-size="11.54">−7</tspan></text>
<line x1="1044.45" y1="261.50" x2="1044.45" y2="265.90" stroke="#262626" stroke-width="1.2" stroke-linecap="butt"/>
<text transform="translate(1031.06 281.60) scale(0.955 1)" font-size="15.39" fill="#231f20" stroke="#231f20" stroke-width="0.16" paint-order="stroke"><tspan>10</tspan><tspan dy="-4.93" font-size="11.54">−6</tspan></text>
<line x1="802.01" y1="261.50" x2="802.01" y2="263.90" stroke="#262626" stroke-width="0.9" stroke-linecap="butt"/>
<line x1="807.04" y1="261.50" x2="807.04" y2="263.90" stroke="#262626" stroke-width="0.9" stroke-linecap="butt"/>
<line x1="811.41" y1="261.50" x2="811.41" y2="263.90" stroke="#262626" stroke-width="0.9" stroke-linecap="butt"/>
<line x1="815.26" y1="261.50" x2="815.26" y2="263.90" stroke="#262626" stroke-width="0.9" stroke-linecap="butt"/>
<line x1="841.35" y1="261.50" x2="841.35" y2="263.90" stroke="#262626" stroke-width="0.9" stroke-linecap="butt"/>
<line x1="854.60" y1="261.50" x2="854.60" y2="263.90" stroke="#262626" stroke-width="0.9" stroke-linecap="butt"/>
<line x1="864.01" y1="261.50" x2="864.01" y2="263.90" stroke="#262626" stroke-width="0.9" stroke-linecap="butt"/>
<line x1="871.30" y1="261.50" x2="871.30" y2="263.90" stroke="#262626" stroke-width="0.9" stroke-linecap="butt"/>
<line x1="877.26" y1="261.50" x2="877.26" y2="263.90" stroke="#262626" stroke-width="0.9" stroke-linecap="butt"/>
<line x1="882.29" y1="261.50" x2="882.29" y2="263.90" stroke="#262626" stroke-width="0.9" stroke-linecap="butt"/>
<line x1="886.66" y1="261.50" x2="886.66" y2="263.90" stroke="#262626" stroke-width="0.9" stroke-linecap="butt"/>
<line x1="890.51" y1="261.50" x2="890.51" y2="263.90" stroke="#262626" stroke-width="0.9" stroke-linecap="butt"/>
<line x1="916.60" y1="261.50" x2="916.60" y2="263.90" stroke="#262626" stroke-width="0.9" stroke-linecap="butt"/>
<line x1="929.85" y1="261.50" x2="929.85" y2="263.90" stroke="#262626" stroke-width="0.9" stroke-linecap="butt"/>
<line x1="939.26" y1="261.50" x2="939.26" y2="263.90" stroke="#262626" stroke-width="0.9" stroke-linecap="butt"/>
<line x1="946.55" y1="261.50" x2="946.55" y2="263.90" stroke="#262626" stroke-width="0.9" stroke-linecap="butt"/>
<line x1="952.51" y1="261.50" x2="952.51" y2="263.90" stroke="#262626" stroke-width="0.9" stroke-linecap="butt"/>
<line x1="957.54" y1="261.50" x2="957.54" y2="263.90" stroke="#262626" stroke-width="0.9" stroke-linecap="butt"/>
<line x1="961.91" y1="261.50" x2="961.91" y2="263.90" stroke="#262626" stroke-width="0.9" stroke-linecap="butt"/>
<line x1="965.76" y1="261.50" x2="965.76" y2="263.90" stroke="#262626" stroke-width="0.9" stroke-linecap="butt"/>
<line x1="991.85" y1="261.50" x2="991.85" y2="263.90" stroke="#262626" stroke-width="0.9" stroke-linecap="butt"/>
<line x1="1005.10" y1="261.50" x2="1005.10" y2="263.90" stroke="#262626" stroke-width="0.9" stroke-linecap="butt"/>
<line x1="1014.51" y1="261.50" x2="1014.51" y2="263.90" stroke="#262626" stroke-width="0.9" stroke-linecap="butt"/>
<line x1="1021.80" y1="261.50" x2="1021.80" y2="263.90" stroke="#262626" stroke-width="0.9" stroke-linecap="butt"/>
<line x1="1027.76" y1="261.50" x2="1027.76" y2="263.90" stroke="#262626" stroke-width="0.9" stroke-linecap="butt"/>
<line x1="1032.79" y1="261.50" x2="1032.79" y2="263.90" stroke="#262626" stroke-width="0.9" stroke-linecap="butt"/>
<line x1="1037.16" y1="261.50" x2="1037.16" y2="263.90" stroke="#262626" stroke-width="0.9" stroke-linecap="butt"/>
<line x1="1041.01" y1="261.50" x2="1041.01" y2="263.90" stroke="#262626" stroke-width="0.9" stroke-linecap="butt"/>
<text transform="translate(833.42 306.50) scale(0.955 1)" font-size="15.42" fill="#231f20" stroke="#231f20" stroke-width="0.16" paint-order="stroke"><tspan>Diffusion coefficient (cm</tspan><tspan dy="-4.94" font-size="11.57">2</tspan><tspan dy="4.94"> s</tspan><tspan dy="-4.94" font-size="11.57">−1</tspan><tspan dy="4.94">)</tspan></text>
<text transform="translate(748.50 232.18) rotate(-90) scale(0.955 1)" font-size="15.45" fill="#231f20" stroke="#231f20" stroke-width="0.16" paint-order="stroke"><tspan>Li concentration (mol l</tspan><tspan dy="-4.94" font-size="11.59">−1</tspan><tspan dy="4.94">)</tspan></text>
<text transform="translate(928.10 59.40) scale(0.955 1)" font-size="15.70" fill="#231f20" stroke="#231f20" stroke-width="0.16" paint-order="stroke"><tspan>LLZO</tspan></text>
<text transform="translate(803.45 163.80) scale(0.955 1)" font-size="15.03" fill="#231f20" stroke="#231f20" stroke-width="0.16" paint-order="stroke"><tspan>PEO</tspan></text>
<text transform="translate(985.55 161.40) scale(0.955 1)" font-size="15.08" fill="#231f20" stroke="#231f20" stroke-width="0.16" paint-order="stroke"><tspan>Li–Cu–CNF</tspan></text>
<text transform="translate(5.94 332.75) scale(1.02 1)" font-size="16.27" fill="#000" font-weight="bold" stroke="#000" stroke-width="0.55" paint-order="stroke"><tspan>d</tspan></text>
<g stroke-linecap="butt">
<line x1="41.0" y1="343.7" x2="45.4" y2="343.8" stroke="#b00808" stroke-width="2.6"/>
<line x1="41.01" y1="343.39" x2="45.41" y2="343.49" stroke="#ea1616" stroke-width="1.87"/>
<line x1="41.01" y1="343.13" x2="45.41" y2="343.23" stroke="#ff5a5a" stroke-width="0.78"/>
<line x1="45.4" y1="343.8" x2="49.8" y2="343.9" stroke="#b8b8b8" stroke-width="2.6"/>
<line x1="45.41" y1="343.49" x2="49.81" y2="343.59" stroke="#ececec" stroke-width="1.87"/>
<line x1="45.41" y1="343.23" x2="49.81" y2="343.33" stroke="#ffffff" stroke-width="0.78"/>
<line x1="41.0" y1="343.7" x2="42.9" y2="350.2" stroke="#b00808" stroke-width="3.5"/>
<line x1="40.59" y1="343.82" x2="42.49" y2="350.37" stroke="#ea1616" stroke-width="2.52"/>
<line x1="40.26" y1="343.91" x2="42.16" y2="350.46" stroke="#ff5a5a" stroke-width="1.05"/>
<line x1="42.9" y1="350.2" x2="44.8" y2="356.8" stroke="#5e5e5e" stroke-width="3.5"/>
<line x1="42.49" y1="350.37" x2="44.39" y2="356.92" stroke="#858585" stroke-width="2.52"/>
<line x1="42.16" y1="350.46" x2="44.06" y2="357.01" stroke="#a8a8a8" stroke-width="1.05"/>
<line x1="44.8" y1="356.8" x2="44.3" y2="365.4" stroke="#5e5e5e" stroke-width="3.5"/>
<line x1="44.38" y1="356.78" x2="43.88" y2="365.38" stroke="#858585" stroke-width="2.52"/>
<line x1="44.03" y1="356.76" x2="43.53" y2="365.36" stroke="#a8a8a8" stroke-width="1.05"/>
<line x1="44.3" y1="365.4" x2="43.8" y2="374.0" stroke="#5e5e5e" stroke-width="3.5"/>
<line x1="43.88" y1="365.38" x2="43.38" y2="373.98" stroke="#858585" stroke-width="2.52"/>
<line x1="43.53" y1="365.36" x2="43.03" y2="373.96" stroke="#a8a8a8" stroke-width="1.05"/>
<line x1="43.8" y1="374.0" x2="35.7" y2="376.9" stroke="#5e5e5e" stroke-width="3.5"/>
<line x1="43.66" y1="373.60" x2="35.56" y2="376.45" stroke="#858585" stroke-width="2.52"/>
<line x1="43.54" y1="373.27" x2="35.44" y2="376.12" stroke="#a8a8a8" stroke-width="1.05"/>
<line x1="35.7" y1="376.9" x2="27.6" y2="379.7" stroke="#b00808" stroke-width="3.5"/>
<line x1="35.56" y1="376.45" x2="27.46" y2="379.30" stroke="#ea1616" stroke-width="2.52"/>
<line x1="35.44" y1="376.12" x2="27.34" y2="378.97" stroke="#ff5a5a" stroke-width="1.05"/>
<line x1="43.8" y1="374.0" x2="50.1" y2="380.0" stroke="#5e5e5e" stroke-width="3.5"/>
<line x1="44.09" y1="373.69" x2="50.39" y2="379.69" stroke="#858585" stroke-width="2.52"/>
<line x1="44.33" y1="373.44" x2="50.63" y2="379.44" stroke="#a8a8a8" stroke-width="1.05"/>
<line x1="50.1" y1="380.0" x2="56.4" y2="386.0" stroke="#5e5e5e" stroke-width="3.5"/>
<line x1="50.39" y1="379.69" x2="56.69" y2="385.69" stroke="#858585" stroke-width="2.52"/>
<line x1="50.63" y1="379.44" x2="56.93" y2="385.44" stroke="#a8a8a8" stroke-width="1.05"/>
<line x1="27.6" y1="379.7" x2="26.1" y2="387.3" stroke="#b00808" stroke-width="3.5"/>
<line x1="27.18" y1="379.62" x2="25.68" y2="387.22" stroke="#ea1616" stroke-width="2.52"/>
<line x1="26.84" y1="379.55" x2="25.34" y2="387.15" stroke="#ff5a5a" stroke-width="1.05"/>
<line x1="26.1" y1="387.3" x2="24.6" y2="394.9" stroke="#5e5e5e" stroke-width="3.5"/>
<line x1="25.68" y1="387.22" x2="24.18" y2="394.82" stroke="#858585" stroke-width="2.52"/>
<line x1="25.34" y1="387.15" x2="23.84" y2="394.75" stroke="#a8a8a8" stroke-width="1.05"/>
<line x1="24.6" y1="394.9" x2="16.2" y2="396.5" stroke="#5e5e5e" stroke-width="3.5"/>
<line x1="24.52" y1="394.48" x2="16.17" y2="396.13" stroke="#858585" stroke-width="2.52"/>
<line x1="24.45" y1="394.14" x2="16.10" y2="395.79" stroke="#a8a8a8" stroke-width="1.05"/>
<line x1="16.2" y1="396.5" x2="7.9" y2="398.2" stroke="#b00808" stroke-width="3.5"/>
<line x1="16.17" y1="396.13" x2="7.82" y2="397.78" stroke="#ea1616" stroke-width="2.52"/>
<line x1="16.10" y1="395.79" x2="7.75" y2="397.44" stroke="#ff5a5a" stroke-width="1.05"/>
<line x1="24.6" y1="394.9" x2="29.6" y2="401.6" stroke="#5e5e5e" stroke-width="3.5"/>
<line x1="24.26" y1="395.15" x2="29.26" y2="401.85" stroke="#858585" stroke-width="2.52"/>
<line x1="23.98" y1="395.36" x2="28.98" y2="402.06" stroke="#a8a8a8" stroke-width="1.05"/>
<line x1="29.6" y1="401.6" x2="34.6" y2="408.3" stroke="#5e5e5e" stroke-width="3.5"/>
<line x1="29.26" y1="401.85" x2="34.26" y2="408.55" stroke="#858585" stroke-width="2.52"/>
<line x1="28.98" y1="402.06" x2="33.98" y2="408.76" stroke="#a8a8a8" stroke-width="1.05"/>
<line x1="7.9" y1="398.2" x2="5.8" y2="397.1" stroke="#b00808" stroke-width="2.6"/>
<line x1="8.04" y1="397.92" x2="5.94" y2="396.87" stroke="#ea1616" stroke-width="1.87"/>
<line x1="8.16" y1="397.69" x2="6.06" y2="396.64" stroke="#ff5a5a" stroke-width="0.78"/>
<line x1="5.8" y1="397.1" x2="3.7" y2="396.1" stroke="#b8b8b8" stroke-width="2.6"/>
<line x1="5.94" y1="396.87" x2="3.84" y2="395.82" stroke="#ececec" stroke-width="1.87"/>
<line x1="6.06" y1="396.64" x2="3.96" y2="395.59" stroke="#ffffff" stroke-width="0.78"/>
<line x1="34.6" y1="408.3" x2="43.9" y2="406.2" stroke="#5e5e5e" stroke-width="3.5"/>
<line x1="34.51" y1="407.89" x2="43.81" y2="405.79" stroke="#858585" stroke-width="2.52"/>
<line x1="34.43" y1="407.55" x2="43.73" y2="405.45" stroke="#a8a8a8" stroke-width="1.05"/>
<line x1="43.9" y1="406.2" x2="53.2" y2="404.1" stroke="#5e5e5e" stroke-width="3.5"/>
<line x1="43.81" y1="405.79" x2="53.11" y2="403.69" stroke="#858585" stroke-width="2.52"/>
<line x1="43.73" y1="405.45" x2="53.03" y2="403.35" stroke="#a8a8a8" stroke-width="1.05"/>
<line x1="34.6" y1="408.3" x2="33.2" y2="416.0" stroke="#5e5e5e" stroke-width="3.5"/>
<line x1="34.18" y1="408.22" x2="32.78" y2="415.92" stroke="#858585" stroke-width="2.52"/>
<line x1="33.84" y1="408.16" x2="32.44" y2="415.86" stroke="#a8a8a8" stroke-width="1.05"/>
<line x1="33.2" y1="416.0" x2="31.8" y2="423.7" stroke="#b00808" stroke-width="3.5"/>
<line x1="32.78" y1="415.92" x2="31.38" y2="423.62" stroke="#ea1616" stroke-width="2.52"/>
<line x1="32.44" y1="415.86" x2="31.04" y2="423.56" stroke="#ff5a5a" stroke-width="1.05"/>
<line x1="53.2" y1="404.1" x2="54.8" y2="395.1" stroke="#5e5e5e" stroke-width="3.5"/>
<line x1="52.78" y1="404.03" x2="54.38" y2="394.98" stroke="#858585" stroke-width="2.52"/>
<line x1="52.44" y1="403.97" x2="54.04" y2="394.92" stroke="#a8a8a8" stroke-width="1.05"/>
<line x1="54.8" y1="395.1" x2="56.4" y2="386.0" stroke="#5e5e5e" stroke-width="3.5"/>
<line x1="54.38" y1="394.98" x2="55.98" y2="385.93" stroke="#858585" stroke-width="2.52"/>
<line x1="54.04" y1="394.92" x2="55.64" y2="385.87" stroke="#a8a8a8" stroke-width="1.05"/>
<line x1="53.2" y1="404.1" x2="57.3" y2="409.7" stroke="#5e5e5e" stroke-width="3.5"/>
<line x1="52.86" y1="404.35" x2="56.96" y2="409.95" stroke="#858585" stroke-width="2.52"/>
<line x1="52.58" y1="404.55" x2="56.68" y2="410.15" stroke="#a8a8a8" stroke-width="1.05"/>
<line x1="57.3" y1="409.7" x2="61.4" y2="415.3" stroke="#b00808" stroke-width="3.5"/>
<line x1="56.96" y1="409.95" x2="61.06" y2="415.55" stroke="#ea1616" stroke-width="2.52"/>
<line x1="56.68" y1="410.15" x2="60.78" y2="415.75" stroke="#ff5a5a" stroke-width="1.05"/>
<line x1="56.4" y1="386.0" x2="64.2" y2="383.5" stroke="#5e5e5e" stroke-width="3.5"/>
<line x1="56.27" y1="385.60" x2="64.02" y2="383.10" stroke="#858585" stroke-width="2.52"/>
<line x1="56.16" y1="385.27" x2="63.91" y2="382.77" stroke="#a8a8a8" stroke-width="1.05"/>
<line x1="64.2" y1="383.5" x2="71.9" y2="381.0" stroke="#b00808" stroke-width="3.5"/>
<line x1="64.02" y1="383.10" x2="71.77" y2="380.60" stroke="#ea1616" stroke-width="2.52"/>
<line x1="63.91" y1="382.77" x2="71.66" y2="380.27" stroke="#ff5a5a" stroke-width="1.05"/>
<line x1="71.9" y1="381.0" x2="79.5" y2="381.4" stroke="#b00808" stroke-width="3.5"/>
<line x1="71.93" y1="380.58" x2="79.48" y2="381.03" stroke="#ea1616" stroke-width="2.52"/>
<line x1="71.95" y1="380.23" x2="79.50" y2="380.68" stroke="#ff5a5a" stroke-width="1.05"/>
<line x1="79.5" y1="381.4" x2="87.0" y2="381.9" stroke="#5e5e5e" stroke-width="3.5"/>
<line x1="79.48" y1="381.03" x2="87.03" y2="381.48" stroke="#858585" stroke-width="2.52"/>
<line x1="79.50" y1="380.68" x2="87.05" y2="381.13" stroke="#a8a8a8" stroke-width="1.05"/>
<line x1="61.4" y1="415.3" x2="66.9" y2="413.6" stroke="#b00808" stroke-width="2.6"/>
<line x1="61.31" y1="415.00" x2="66.81" y2="413.35" stroke="#ea1616" stroke-width="1.87"/>
<line x1="61.24" y1="414.75" x2="66.74" y2="413.10" stroke="#ff5a5a" stroke-width="0.78"/>
<line x1="66.9" y1="413.6" x2="72.4" y2="412.0" stroke="#b8b8b8" stroke-width="2.6"/>
<line x1="66.81" y1="413.35" x2="72.31" y2="411.70" stroke="#ececec" stroke-width="1.87"/>
<line x1="66.74" y1="413.10" x2="72.24" y2="411.45" stroke="#ffffff" stroke-width="0.78"/>
<line x1="31.8" y1="423.7" x2="34.7" y2="427.7" stroke="#b00808" stroke-width="2.6"/>
<line x1="31.55" y1="423.88" x2="34.45" y2="427.88" stroke="#ea1616" stroke-width="1.87"/>
<line x1="31.34" y1="424.04" x2="34.24" y2="428.04" stroke="#ff5a5a" stroke-width="0.78"/>
<line x1="34.7" y1="427.7" x2="37.6" y2="431.7" stroke="#b8b8b8" stroke-width="2.6"/>
<line x1="34.45" y1="427.88" x2="37.35" y2="431.88" stroke="#ececec" stroke-width="1.87"/>
<line x1="34.24" y1="428.04" x2="37.14" y2="432.04" stroke="#ffffff" stroke-width="0.78"/>
<line x1="87.0" y1="381.9" x2="93.7" y2="376.2" stroke="#5e5e5e" stroke-width="3.5"/>
<line x1="86.73" y1="381.58" x2="93.43" y2="375.93" stroke="#858585" stroke-width="2.52"/>
<line x1="86.50" y1="381.31" x2="93.20" y2="375.66" stroke="#a8a8a8" stroke-width="1.05"/>
<line x1="93.7" y1="376.2" x2="100.4" y2="370.6" stroke="#5e5e5e" stroke-width="3.5"/>
<line x1="93.43" y1="375.93" x2="100.13" y2="370.28" stroke="#858585" stroke-width="2.52"/>
<line x1="93.20" y1="375.66" x2="99.90" y2="370.01" stroke="#a8a8a8" stroke-width="1.05"/>
<line x1="87.0" y1="381.9" x2="89.1" y2="390.4" stroke="#5e5e5e" stroke-width="3.5"/>
<line x1="86.59" y1="382.00" x2="88.69" y2="390.50" stroke="#858585" stroke-width="2.52"/>
<line x1="86.25" y1="382.08" x2="88.35" y2="390.58" stroke="#a8a8a8" stroke-width="1.05"/>
<line x1="89.1" y1="390.4" x2="91.2" y2="398.9" stroke="#b00808" stroke-width="3.5"/>
<line x1="88.69" y1="390.50" x2="90.79" y2="399.00" stroke="#ea1616" stroke-width="2.52"/>
<line x1="88.35" y1="390.58" x2="90.45" y2="399.08" stroke="#ff5a5a" stroke-width="1.05"/>
<line x1="100.4" y1="370.6" x2="99.0" y2="362.7" stroke="#5e5e5e" stroke-width="3.5"/>
<line x1="99.98" y1="370.68" x2="98.53" y2="362.78" stroke="#858585" stroke-width="2.52"/>
<line x1="99.64" y1="370.74" x2="98.19" y2="362.84" stroke="#a8a8a8" stroke-width="1.05"/>
<line x1="99.0" y1="362.7" x2="97.5" y2="354.8" stroke="#b00808" stroke-width="3.5"/>
<line x1="98.53" y1="362.78" x2="97.08" y2="354.88" stroke="#ea1616" stroke-width="2.52"/>
<line x1="98.19" y1="362.84" x2="96.74" y2="354.94" stroke="#ff5a5a" stroke-width="1.05"/>
<line x1="100.4" y1="370.6" x2="108.8" y2="373.5" stroke="#5e5e5e" stroke-width="3.5"/>
<line x1="100.54" y1="370.20" x2="108.89" y2="373.05" stroke="#858585" stroke-width="2.52"/>
<line x1="100.65" y1="369.87" x2="109.00" y2="372.72" stroke="#a8a8a8" stroke-width="1.05"/>
<line x1="108.8" y1="373.5" x2="117.1" y2="376.3" stroke="#5e5e5e" stroke-width="3.5"/>
<line x1="108.89" y1="373.05" x2="117.24" y2="375.90" stroke="#858585" stroke-width="2.52"/>
<line x1="109.00" y1="372.72" x2="117.35" y2="375.57" stroke="#a8a8a8" stroke-width="1.05"/>
<line x1="97.5" y1="354.8" x2="102.5" y2="351.6" stroke="#b00808" stroke-width="2.6"/>
<line x1="97.33" y1="354.53" x2="102.38" y2="351.33" stroke="#ea1616" stroke-width="1.87"/>
<line x1="97.19" y1="354.32" x2="102.24" y2="351.12" stroke="#ff5a5a" stroke-width="0.78"/>
<line x1="102.5" y1="351.6" x2="107.6" y2="348.4" stroke="#b8b8b8" stroke-width="2.6"/>
<line x1="102.38" y1="351.33" x2="107.43" y2="348.13" stroke="#ececec" stroke-width="1.87"/>
<line x1="102.24" y1="351.12" x2="107.29" y2="347.92" stroke="#ffffff" stroke-width="0.78"/>
<line x1="117.1" y1="376.3" x2="123.0" y2="370.7" stroke="#5e5e5e" stroke-width="3.5"/>
<line x1="116.81" y1="375.99" x2="122.66" y2="370.39" stroke="#858585" stroke-width="2.52"/>
<line x1="116.57" y1="375.74" x2="122.42" y2="370.14" stroke="#a8a8a8" stroke-width="1.05"/>
<line x1="123.0" y1="370.7" x2="128.8" y2="365.1" stroke="#b00808" stroke-width="3.5"/>
<line x1="122.66" y1="370.39" x2="128.51" y2="364.79" stroke="#ea1616" stroke-width="2.52"/>
<line x1="122.42" y1="370.14" x2="128.27" y2="364.54" stroke="#ff5a5a" stroke-width="1.05"/>
<line x1="117.1" y1="376.3" x2="118.6" y2="385.5" stroke="#5e5e5e" stroke-width="3.5"/>
<line x1="116.68" y1="376.37" x2="118.18" y2="385.57" stroke="#858585" stroke-width="2.52"/>
<line x1="116.34" y1="376.42" x2="117.84" y2="385.62" stroke="#a8a8a8" stroke-width="1.05"/>
<line x1="118.6" y1="385.5" x2="120.1" y2="394.7" stroke="#5e5e5e" stroke-width="3.5"/>
<line x1="118.18" y1="385.57" x2="119.68" y2="394.77" stroke="#858585" stroke-width="2.52"/>
<line x1="117.84" y1="385.62" x2="119.34" y2="394.82" stroke="#a8a8a8" stroke-width="1.05"/>
<line x1="128.8" y1="365.1" x2="133.8" y2="366.0" stroke="#b00808" stroke-width="2.6"/>
<line x1="128.85" y1="364.79" x2="133.85" y2="365.64" stroke="#ea1616" stroke-width="1.87"/>
<line x1="128.90" y1="364.54" x2="133.90" y2="365.39" stroke="#ff5a5a" stroke-width="0.78"/>
<line x1="133.8" y1="366.0" x2="138.8" y2="366.8" stroke="#b8b8b8" stroke-width="2.6"/>
<line x1="133.85" y1="365.64" x2="138.85" y2="366.49" stroke="#ececec" stroke-width="1.87"/>
<line x1="133.90" y1="365.39" x2="138.90" y2="366.24" stroke="#ffffff" stroke-width="0.78"/>
<line x1="120.1" y1="394.7" x2="112.9" y2="399.8" stroke="#5e5e5e" stroke-width="3.5"/>
<line x1="119.86" y1="394.35" x2="112.66" y2="399.40" stroke="#858585" stroke-width="2.52"/>
<line x1="119.66" y1="394.07" x2="112.46" y2="399.12" stroke="#a8a8a8" stroke-width="1.05"/>
<line x1="112.9" y1="399.8" x2="105.7" y2="404.8" stroke="#5e5e5e" stroke-width="3.5"/>
<line x1="112.66" y1="399.40" x2="105.46" y2="404.45" stroke="#858585" stroke-width="2.52"/>
<line x1="112.46" y1="399.12" x2="105.26" y2="404.17" stroke="#a8a8a8" stroke-width="1.05"/>
<line x1="120.1" y1="394.7" x2="126.8" y2="397.0" stroke="#5e5e5e" stroke-width="3.5"/>
<line x1="120.24" y1="394.30" x2="126.94" y2="396.65" stroke="#858585" stroke-width="2.52"/>
<line x1="120.35" y1="393.97" x2="127.05" y2="396.32" stroke="#a8a8a8" stroke-width="1.05"/>
<line x1="126.8" y1="397.0" x2="133.5" y2="399.4" stroke="#b00808" stroke-width="3.5"/>
<line x1="126.94" y1="396.65" x2="133.64" y2="399.00" stroke="#ea1616" stroke-width="2.52"/>
<line x1="127.05" y1="396.32" x2="133.75" y2="398.67" stroke="#ff5a5a" stroke-width="1.05"/>
<line x1="105.7" y1="404.8" x2="98.5" y2="401.9" stroke="#5e5e5e" stroke-width="3.5"/>
<line x1="105.86" y1="404.41" x2="98.61" y2="401.46" stroke="#858585" stroke-width="2.52"/>
<line x1="105.99" y1="404.09" x2="98.74" y2="401.14" stroke="#a8a8a8" stroke-width="1.05"/>
<line x1="98.5" y1="401.9" x2="91.2" y2="398.9" stroke="#b00808" stroke-width="3.5"/>
<line x1="98.61" y1="401.46" x2="91.36" y2="398.51" stroke="#ea1616" stroke-width="2.52"/>
<line x1="98.74" y1="401.14" x2="91.49" y2="398.19" stroke="#ff5a5a" stroke-width="1.05"/>
<line x1="105.7" y1="404.8" x2="105.7" y2="414.0" stroke="#5e5e5e" stroke-width="3.5"/>
<line x1="105.28" y1="404.80" x2="105.28" y2="414.00" stroke="#858585" stroke-width="2.52"/>
<line x1="104.93" y1="404.80" x2="104.93" y2="414.00" stroke="#a8a8a8" stroke-width="1.05"/>
<line x1="105.7" y1="414.0" x2="105.7" y2="423.2" stroke="#5e5e5e" stroke-width="3.5"/>
<line x1="105.28" y1="414.00" x2="105.28" y2="423.20" stroke="#858585" stroke-width="2.52"/>
<line x1="104.93" y1="414.00" x2="104.93" y2="423.20" stroke="#a8a8a8" stroke-width="1.05"/>
<line x1="105.7" y1="423.2" x2="101.6" y2="427.8" stroke="#5e5e5e" stroke-width="3.5"/>
<line x1="105.38" y1="422.92" x2="101.28" y2="427.52" stroke="#858585" stroke-width="2.52"/>
<line x1="105.13" y1="422.69" x2="101.03" y2="427.29" stroke="#a8a8a8" stroke-width="1.05"/>
<line x1="101.6" y1="427.8" x2="97.5" y2="432.4" stroke="#b00808" stroke-width="3.5"/>
<line x1="101.28" y1="427.52" x2="97.18" y2="432.12" stroke="#ea1616" stroke-width="2.52"/>
<line x1="101.03" y1="427.29" x2="96.93" y2="431.89" stroke="#ff5a5a" stroke-width="1.05"/>
<line x1="105.7" y1="423.2" x2="110.2" y2="425.4" stroke="#5e5e5e" stroke-width="3.5"/>
<line x1="105.88" y1="422.82" x2="110.33" y2="424.97" stroke="#858585" stroke-width="2.52"/>
<line x1="106.03" y1="422.51" x2="110.48" y2="424.66" stroke="#a8a8a8" stroke-width="1.05"/>
<line x1="110.2" y1="425.4" x2="114.6" y2="427.5" stroke="#b00808" stroke-width="3.5"/>
<line x1="110.33" y1="424.97" x2="114.78" y2="427.12" stroke="#ea1616" stroke-width="2.52"/>
<line x1="110.48" y1="424.66" x2="114.93" y2="426.81" stroke="#ff5a5a" stroke-width="1.05"/>
<line x1="133.5" y1="399.4" x2="141.0" y2="398.1" stroke="#b00808" stroke-width="3.5"/>
<line x1="133.43" y1="398.98" x2="140.93" y2="397.73" stroke="#ea1616" stroke-width="2.52"/>
<line x1="133.37" y1="398.64" x2="140.87" y2="397.39" stroke="#ff5a5a" stroke-width="1.05"/>
<line x1="141.0" y1="398.1" x2="148.5" y2="396.9" stroke="#5e5e5e" stroke-width="3.5"/>
<line x1="140.93" y1="397.73" x2="148.43" y2="396.48" stroke="#858585" stroke-width="2.52"/>
<line x1="140.87" y1="397.39" x2="148.37" y2="396.14" stroke="#a8a8a8" stroke-width="1.05"/>
<line x1="160.3" y1="350.4" x2="159.6" y2="349.0" stroke="#b8b8b8" stroke-width="2.6"/>
<line x1="160.02" y1="350.54" x2="159.32" y2="349.14" stroke="#ececec" stroke-width="1.87"/>
<line x1="159.79" y1="350.66" x2="159.09" y2="349.26" stroke="#ffffff" stroke-width="0.78"/>
<line x1="159.6" y1="349.0" x2="158.9" y2="347.6" stroke="#b00808" stroke-width="2.6"/>
<line x1="159.32" y1="349.14" x2="158.62" y2="347.74" stroke="#ea1616" stroke-width="1.87"/>
<line x1="159.09" y1="349.26" x2="158.39" y2="347.86" stroke="#ff5a5a" stroke-width="0.78"/>
<line x1="158.9" y1="347.6" x2="164.9" y2="352.6" stroke="#b00808" stroke-width="3.5"/>
<line x1="159.17" y1="347.27" x2="165.22" y2="352.27" stroke="#ea1616" stroke-width="2.52"/>
<line x1="159.39" y1="347.01" x2="165.44" y2="352.01" stroke="#ff5a5a" stroke-width="1.05"/>
<line x1="164.9" y1="352.6" x2="171.0" y2="357.6" stroke="#5e5e5e" stroke-width="3.5"/>
<line x1="165.22" y1="352.27" x2="171.27" y2="357.27" stroke="#858585" stroke-width="2.52"/>
<line x1="165.44" y1="352.01" x2="171.49" y2="357.01" stroke="#a8a8a8" stroke-width="1.05"/>
<line x1="171.0" y1="357.6" x2="170.0" y2="366.6" stroke="#5e5e5e" stroke-width="3.5"/>
<line x1="170.58" y1="357.55" x2="169.58" y2="366.60" stroke="#858585" stroke-width="2.52"/>
<line x1="170.23" y1="357.52" x2="169.23" y2="366.57" stroke="#a8a8a8" stroke-width="1.05"/>
<line x1="170.0" y1="366.6" x2="169.0" y2="375.7" stroke="#5e5e5e" stroke-width="3.5"/>
<line x1="169.58" y1="366.60" x2="168.58" y2="375.65" stroke="#858585" stroke-width="2.52"/>
<line x1="169.23" y1="366.57" x2="168.23" y2="375.62" stroke="#a8a8a8" stroke-width="1.05"/>
<line x1="169.0" y1="375.7" x2="161.4" y2="378.2" stroke="#5e5e5e" stroke-width="3.5"/>
<line x1="168.87" y1="375.30" x2="161.32" y2="377.80" stroke="#858585" stroke-width="2.52"/>
<line x1="168.76" y1="374.97" x2="161.21" y2="377.47" stroke="#a8a8a8" stroke-width="1.05"/>
<line x1="161.4" y1="378.2" x2="153.9" y2="380.7" stroke="#b00808" stroke-width="3.5"/>
<line x1="161.32" y1="377.80" x2="153.77" y2="380.30" stroke="#ea1616" stroke-width="2.52"/>
<line x1="161.21" y1="377.47" x2="153.66" y2="379.97" stroke="#ff5a5a" stroke-width="1.05"/>
<line x1="169.0" y1="375.7" x2="176.2" y2="381.1" stroke="#5e5e5e" stroke-width="3.5"/>
<line x1="169.25" y1="375.36" x2="176.45" y2="380.76" stroke="#858585" stroke-width="2.52"/>
<line x1="169.46" y1="375.08" x2="176.66" y2="380.48" stroke="#a8a8a8" stroke-width="1.05"/>
<line x1="176.2" y1="381.1" x2="183.4" y2="386.5" stroke="#5e5e5e" stroke-width="3.5"/>
<line x1="176.45" y1="380.76" x2="183.65" y2="386.16" stroke="#858585" stroke-width="2.52"/>
<line x1="176.66" y1="380.48" x2="183.86" y2="385.88" stroke="#a8a8a8" stroke-width="1.05"/>
<line x1="153.9" y1="380.7" x2="151.2" y2="388.8" stroke="#b00808" stroke-width="3.5"/>
<line x1="153.50" y1="380.57" x2="150.80" y2="388.67" stroke="#ea1616" stroke-width="2.52"/>
<line x1="153.17" y1="380.46" x2="150.47" y2="388.56" stroke="#ff5a5a" stroke-width="1.05"/>
<line x1="151.2" y1="388.8" x2="148.5" y2="396.9" stroke="#5e5e5e" stroke-width="3.5"/>
<line x1="150.80" y1="388.67" x2="148.10" y2="396.77" stroke="#858585" stroke-width="2.52"/>
<line x1="150.47" y1="388.56" x2="147.77" y2="396.66" stroke="#a8a8a8" stroke-width="1.05"/>
<line x1="148.5" y1="396.9" x2="154.9" y2="403.4" stroke="#5e5e5e" stroke-width="3.5"/>
<line x1="148.80" y1="396.60" x2="155.25" y2="403.15" stroke="#858585" stroke-width="2.52"/>
<line x1="149.05" y1="396.36" x2="155.50" y2="402.91" stroke="#a8a8a8" stroke-width="1.05"/>
<line x1="154.9" y1="403.4" x2="161.4" y2="410.0" stroke="#5e5e5e" stroke-width="3.5"/>
<line x1="155.25" y1="403.15" x2="161.70" y2="409.70" stroke="#858585" stroke-width="2.52"/>
<line x1="155.50" y1="402.91" x2="161.95" y2="409.46" stroke="#a8a8a8" stroke-width="1.05"/>
<line x1="161.4" y1="410.0" x2="159.3" y2="417.5" stroke="#5e5e5e" stroke-width="3.5"/>
<line x1="160.99" y1="409.89" x2="158.89" y2="417.39" stroke="#858585" stroke-width="2.52"/>
<line x1="160.66" y1="409.79" x2="158.56" y2="417.29" stroke="#a8a8a8" stroke-width="1.05"/>
<line x1="159.3" y1="417.5" x2="157.2" y2="425.0" stroke="#b00808" stroke-width="3.5"/>
<line x1="158.89" y1="417.39" x2="156.79" y2="424.89" stroke="#ea1616" stroke-width="2.52"/>
<line x1="158.56" y1="417.29" x2="156.46" y2="424.79" stroke="#ff5a5a" stroke-width="1.05"/>
<line x1="161.4" y1="410.0" x2="169.9" y2="407.2" stroke="#5e5e5e" stroke-width="3.5"/>
<line x1="161.27" y1="409.60" x2="169.77" y2="406.80" stroke="#858585" stroke-width="2.52"/>
<line x1="161.16" y1="409.27" x2="169.66" y2="406.47" stroke="#a8a8a8" stroke-width="1.05"/>
<line x1="169.9" y1="407.2" x2="178.4" y2="404.4" stroke="#5e5e5e" stroke-width="3.5"/>
<line x1="169.77" y1="406.80" x2="178.27" y2="404.00" stroke="#858585" stroke-width="2.52"/>
<line x1="169.66" y1="406.47" x2="178.16" y2="403.67" stroke="#a8a8a8" stroke-width="1.05"/>
<line x1="157.2" y1="425.0" x2="167.2" y2="430.7" stroke="#b00808" stroke-width="3.5"/>
<line x1="157.41" y1="424.63" x2="167.46" y2="430.33" stroke="#ea1616" stroke-width="2.52"/>
<line x1="157.58" y1="424.33" x2="167.63" y2="430.03" stroke="#ff5a5a" stroke-width="1.05"/>
<line x1="167.2" y1="430.7" x2="177.3" y2="436.4" stroke="#2a32a8" stroke-width="3.5"/>
<line x1="167.46" y1="430.33" x2="177.51" y2="436.03" stroke="#4a55e0" stroke-width="2.52"/>
<line x1="167.63" y1="430.03" x2="177.68" y2="435.73" stroke="#8088ff" stroke-width="1.05"/>
<line x1="183.4" y1="386.5" x2="180.9" y2="395.4" stroke="#5e5e5e" stroke-width="3.5"/>
<line x1="182.99" y1="386.39" x2="180.49" y2="395.34" stroke="#858585" stroke-width="2.52"/>
<line x1="182.66" y1="386.29" x2="180.16" y2="395.24" stroke="#a8a8a8" stroke-width="1.05"/>
<line x1="180.9" y1="395.4" x2="178.4" y2="404.4" stroke="#5e5e5e" stroke-width="3.5"/>
<line x1="180.49" y1="395.34" x2="177.99" y2="404.29" stroke="#858585" stroke-width="2.52"/>
<line x1="180.16" y1="395.24" x2="177.66" y2="404.19" stroke="#a8a8a8" stroke-width="1.05"/>
<line x1="183.4" y1="386.5" x2="190.5" y2="384.2" stroke="#5e5e5e" stroke-width="3.5"/>
<line x1="183.27" y1="386.10" x2="190.37" y2="383.80" stroke="#858585" stroke-width="2.52"/>
<line x1="183.16" y1="385.77" x2="190.26" y2="383.47" stroke="#a8a8a8" stroke-width="1.05"/>
<line x1="190.5" y1="384.2" x2="197.6" y2="381.9" stroke="#b00808" stroke-width="3.5"/>
<line x1="190.37" y1="383.80" x2="197.47" y2="381.50" stroke="#ea1616" stroke-width="2.52"/>
<line x1="190.26" y1="383.47" x2="197.36" y2="381.17" stroke="#ff5a5a" stroke-width="1.05"/>
<line x1="178.4" y1="404.4" x2="183.6" y2="410.2" stroke="#5e5e5e" stroke-width="3.5"/>
<line x1="178.72" y1="404.12" x2="183.87" y2="409.97" stroke="#858585" stroke-width="2.52"/>
<line x1="178.98" y1="403.89" x2="184.13" y2="409.74" stroke="#a8a8a8" stroke-width="1.05"/>
<line x1="183.6" y1="410.2" x2="188.7" y2="416.1" stroke="#b00808" stroke-width="3.5"/>
<line x1="183.87" y1="409.97" x2="189.02" y2="415.82" stroke="#ea1616" stroke-width="2.52"/>
<line x1="184.13" y1="409.74" x2="189.28" y2="415.59" stroke="#ff5a5a" stroke-width="1.05"/>
<line x1="188.7" y1="416.1" x2="194.4" y2="415.3" stroke="#b00808" stroke-width="2.6"/>
<line x1="188.66" y1="415.79" x2="194.36" y2="414.99" stroke="#ea1616" stroke-width="1.87"/>
<line x1="188.62" y1="415.53" x2="194.32" y2="414.73" stroke="#ff5a5a" stroke-width="0.78"/>
<line x1="194.4" y1="415.3" x2="200.1" y2="414.5" stroke="#b8b8b8" stroke-width="2.6"/>
<line x1="194.36" y1="414.99" x2="200.06" y2="414.19" stroke="#ececec" stroke-width="1.87"/>
<line x1="194.32" y1="414.73" x2="200.02" y2="413.93" stroke="#ffffff" stroke-width="0.78"/>
<line x1="188.7" y1="416.1" x2="183.0" y2="426.2" stroke="#b00808" stroke-width="3.5"/>
<line x1="188.33" y1="415.89" x2="182.63" y2="426.04" stroke="#ea1616" stroke-width="2.52"/>
<line x1="188.03" y1="415.72" x2="182.33" y2="425.87" stroke="#ff5a5a" stroke-width="1.05"/>
<line x1="183.0" y1="426.2" x2="177.3" y2="436.4" stroke="#2a32a8" stroke-width="3.5"/>
<line x1="182.63" y1="426.04" x2="176.93" y2="436.19" stroke="#4a55e0" stroke-width="2.52"/>
<line x1="182.33" y1="425.87" x2="176.63" y2="436.02" stroke="#8088ff" stroke-width="1.05"/>
<line x1="197.6" y1="381.9" x2="204.9" y2="383.1" stroke="#b00808" stroke-width="3.5"/>
<line x1="197.67" y1="381.48" x2="204.97" y2="382.73" stroke="#ea1616" stroke-width="2.52"/>
<line x1="197.73" y1="381.14" x2="205.03" y2="382.39" stroke="#ff5a5a" stroke-width="1.05"/>
<line x1="204.9" y1="383.1" x2="212.2" y2="384.4" stroke="#5e5e5e" stroke-width="3.5"/>
<line x1="204.97" y1="382.73" x2="212.27" y2="383.98" stroke="#858585" stroke-width="2.52"/>
<line x1="205.03" y1="382.39" x2="212.33" y2="383.64" stroke="#a8a8a8" stroke-width="1.05"/>
<line x1="177.3" y1="436.4" x2="170.6" y2="448.2" stroke="#2a32a8" stroke-width="3.5"/>
<line x1="176.93" y1="436.19" x2="170.23" y2="448.04" stroke="#4a55e0" stroke-width="2.52"/>
<line x1="176.63" y1="436.02" x2="169.93" y2="447.87" stroke="#8088ff" stroke-width="1.05"/>
<line x1="170.6" y1="448.2" x2="163.9" y2="460.1" stroke="#b00808" stroke-width="3.5"/>
<line x1="170.23" y1="448.04" x2="163.53" y2="459.89" stroke="#ea1616" stroke-width="2.52"/>
<line x1="169.93" y1="447.87" x2="163.23" y2="459.72" stroke="#ff5a5a" stroke-width="1.05"/>
<line x1="177.3" y1="436.4" x2="186.1" y2="442.9" stroke="#2a32a8" stroke-width="3.5"/>
<line x1="177.55" y1="436.06" x2="186.30" y2="442.56" stroke="#4a55e0" stroke-width="2.52"/>
<line x1="177.76" y1="435.78" x2="186.51" y2="442.28" stroke="#8088ff" stroke-width="1.05"/>
<line x1="186.1" y1="442.9" x2="194.8" y2="449.4" stroke="#b00808" stroke-width="3.5"/>
<line x1="186.30" y1="442.56" x2="195.05" y2="449.06" stroke="#ea1616" stroke-width="2.52"/>
<line x1="186.51" y1="442.28" x2="195.26" y2="448.78" stroke="#ff5a5a" stroke-width="1.05"/>
<line x1="212.2" y1="384.4" x2="218.3" y2="378.5" stroke="#5e5e5e" stroke-width="3.5"/>
<line x1="211.91" y1="384.09" x2="218.01" y2="378.24" stroke="#858585" stroke-width="2.52"/>
<line x1="211.67" y1="383.84" x2="217.77" y2="377.99" stroke="#a8a8a8" stroke-width="1.05"/>
<line x1="218.3" y1="378.5" x2="224.4" y2="372.7" stroke="#5e5e5e" stroke-width="3.5"/>
<line x1="218.01" y1="378.24" x2="224.11" y2="372.39" stroke="#858585" stroke-width="2.52"/>
<line x1="217.77" y1="377.99" x2="223.87" y2="372.14" stroke="#a8a8a8" stroke-width="1.05"/>
<line x1="212.2" y1="384.4" x2="214.8" y2="392.8" stroke="#5e5e5e" stroke-width="3.5"/>
<line x1="211.79" y1="384.52" x2="214.34" y2="392.87" stroke="#858585" stroke-width="2.52"/>
<line x1="211.46" y1="384.62" x2="214.01" y2="392.97" stroke="#a8a8a8" stroke-width="1.05"/>
<line x1="214.8" y1="392.8" x2="217.3" y2="401.1" stroke="#b00808" stroke-width="3.5"/>
<line x1="214.34" y1="392.87" x2="216.89" y2="401.22" stroke="#ea1616" stroke-width="2.52"/>
<line x1="214.01" y1="392.97" x2="216.56" y2="401.32" stroke="#ff5a5a" stroke-width="1.05"/>
<line x1="224.4" y1="372.7" x2="222.7" y2="364.5" stroke="#5e5e5e" stroke-width="3.5"/>
<line x1="223.99" y1="372.79" x2="222.29" y2="364.59" stroke="#858585" stroke-width="2.52"/>
<line x1="223.65" y1="372.86" x2="221.95" y2="364.66" stroke="#a8a8a8" stroke-width="1.05"/>
<line x1="222.7" y1="364.5" x2="221.0" y2="356.3" stroke="#b00808" stroke-width="3.5"/>
<line x1="222.29" y1="364.59" x2="220.59" y2="356.39" stroke="#ea1616" stroke-width="2.52"/>
<line x1="221.95" y1="364.66" x2="220.25" y2="356.46" stroke="#ff5a5a" stroke-width="1.05"/>
<line x1="224.4" y1="372.7" x2="233.6" y2="374.8" stroke="#5e5e5e" stroke-width="3.5"/>
<line x1="224.49" y1="372.29" x2="233.69" y2="374.34" stroke="#858585" stroke-width="2.52"/>
<line x1="224.57" y1="371.95" x2="233.77" y2="374.00" stroke="#a8a8a8" stroke-width="1.05"/>
<line x1="233.6" y1="374.8" x2="242.8" y2="376.8" stroke="#5e5e5e" stroke-width="3.5"/>
<line x1="233.69" y1="374.34" x2="242.89" y2="376.39" stroke="#858585" stroke-width="2.52"/>
<line x1="233.77" y1="374.00" x2="242.97" y2="376.05" stroke="#a8a8a8" stroke-width="1.05"/>
<line x1="221.0" y1="356.3" x2="225.2" y2="352.8" stroke="#b00808" stroke-width="2.6"/>
<line x1="220.80" y1="356.06" x2="225.00" y2="352.51" stroke="#ea1616" stroke-width="1.87"/>
<line x1="220.63" y1="355.86" x2="224.83" y2="352.31" stroke="#ff5a5a" stroke-width="0.78"/>
<line x1="225.2" y1="352.8" x2="229.4" y2="349.2" stroke="#b8b8b8" stroke-width="2.6"/>
<line x1="225.00" y1="352.51" x2="229.20" y2="348.96" stroke="#ececec" stroke-width="1.87"/>
<line x1="224.83" y1="352.31" x2="229.03" y2="348.76" stroke="#ffffff" stroke-width="0.78"/>
<line x1="242.8" y1="376.8" x2="247.4" y2="371.6" stroke="#5e5e5e" stroke-width="3.5"/>
<line x1="242.48" y1="376.52" x2="247.08" y2="371.37" stroke="#858585" stroke-width="2.52"/>
<line x1="242.23" y1="376.29" x2="246.83" y2="371.14" stroke="#a8a8a8" stroke-width="1.05"/>
<line x1="247.4" y1="371.6" x2="252.0" y2="366.5" stroke="#b00808" stroke-width="3.5"/>
<line x1="247.08" y1="371.37" x2="251.68" y2="366.22" stroke="#ea1616" stroke-width="2.52"/>
<line x1="246.83" y1="371.14" x2="251.43" y2="365.99" stroke="#ff5a5a" stroke-width="1.05"/>
<line x1="242.8" y1="376.8" x2="244.2" y2="386.2" stroke="#5e5e5e" stroke-width="3.5"/>
<line x1="242.38" y1="376.86" x2="243.78" y2="386.31" stroke="#858585" stroke-width="2.52"/>
<line x1="242.04" y1="376.91" x2="243.44" y2="386.36" stroke="#a8a8a8" stroke-width="1.05"/>
<line x1="244.2" y1="386.2" x2="245.6" y2="395.7" stroke="#5e5e5e" stroke-width="3.5"/>
<line x1="243.78" y1="386.31" x2="245.18" y2="395.76" stroke="#858585" stroke-width="2.52"/>
<line x1="243.44" y1="386.36" x2="244.84" y2="395.81" stroke="#a8a8a8" stroke-width="1.05"/>
<line x1="252.0" y1="366.5" x2="257.2" y2="365.8" stroke="#b00808" stroke-width="2.6"/>
<line x1="251.96" y1="366.19" x2="257.21" y2="365.49" stroke="#ea1616" stroke-width="1.87"/>
<line x1="251.92" y1="365.93" x2="257.17" y2="365.23" stroke="#ff5a5a" stroke-width="0.78"/>
<line x1="257.2" y1="365.8" x2="262.5" y2="365.1" stroke="#b8b8b8" stroke-width="2.6"/>
<line x1="257.21" y1="365.49" x2="262.46" y2="364.79" stroke="#ececec" stroke-width="1.87"/>
<line x1="257.17" y1="365.23" x2="262.42" y2="364.53" stroke="#ffffff" stroke-width="0.78"/>
<line x1="245.6" y1="395.7" x2="239.1" y2="400.5" stroke="#5e5e5e" stroke-width="3.5"/>
<line x1="245.35" y1="395.36" x2="238.90" y2="400.16" stroke="#858585" stroke-width="2.52"/>
<line x1="245.14" y1="395.08" x2="238.69" y2="399.88" stroke="#a8a8a8" stroke-width="1.05"/>
<line x1="239.1" y1="400.5" x2="232.7" y2="405.3" stroke="#5e5e5e" stroke-width="3.5"/>
<line x1="238.90" y1="400.16" x2="232.45" y2="404.96" stroke="#858585" stroke-width="2.52"/>
<line x1="238.69" y1="399.88" x2="232.24" y2="404.68" stroke="#a8a8a8" stroke-width="1.05"/>
<line x1="245.6" y1="395.7" x2="252.1" y2="397.5" stroke="#5e5e5e" stroke-width="3.5"/>
<line x1="245.72" y1="395.29" x2="252.27" y2="397.14" stroke="#858585" stroke-width="2.52"/>
<line x1="245.81" y1="394.96" x2="252.36" y2="396.81" stroke="#a8a8a8" stroke-width="1.05"/>
<line x1="252.1" y1="397.5" x2="258.7" y2="399.4" stroke="#b00808" stroke-width="3.5"/>
<line x1="252.27" y1="397.14" x2="258.82" y2="398.99" stroke="#ea1616" stroke-width="2.52"/>
<line x1="252.36" y1="396.81" x2="258.91" y2="398.66" stroke="#ff5a5a" stroke-width="1.05"/>
<line x1="232.7" y1="405.3" x2="225.0" y2="403.2" stroke="#5e5e5e" stroke-width="3.5"/>
<line x1="232.81" y1="404.89" x2="225.11" y2="402.79" stroke="#858585" stroke-width="2.52"/>
<line x1="232.90" y1="404.56" x2="225.20" y2="402.46" stroke="#a8a8a8" stroke-width="1.05"/>
<line x1="225.0" y1="403.2" x2="217.3" y2="401.1" stroke="#b00808" stroke-width="3.5"/>
<line x1="225.11" y1="402.79" x2="217.41" y2="400.69" stroke="#ea1616" stroke-width="2.52"/>
<line x1="225.20" y1="402.46" x2="217.50" y2="400.36" stroke="#ff5a5a" stroke-width="1.05"/>
<line x1="232.7" y1="405.3" x2="233.6" y2="414.6" stroke="#5e5e5e" stroke-width="3.5"/>
<line x1="232.28" y1="405.34" x2="233.13" y2="414.69" stroke="#858585" stroke-width="2.52"/>
<line x1="231.93" y1="405.37" x2="232.78" y2="414.72" stroke="#a8a8a8" stroke-width="1.05"/>
<line x1="233.6" y1="414.6" x2="234.4" y2="424.0" stroke="#5e5e5e" stroke-width="3.5"/>
<line x1="233.13" y1="414.69" x2="233.98" y2="424.04" stroke="#858585" stroke-width="2.52"/>
<line x1="232.78" y1="414.72" x2="233.63" y2="424.07" stroke="#a8a8a8" stroke-width="1.05"/>
<line x1="234.4" y1="424.0" x2="234.4" y2="428.2" stroke="#5e5e5e" stroke-width="3.5"/>
<line x1="233.98" y1="424.00" x2="233.98" y2="428.20" stroke="#858585" stroke-width="2.52"/>
<line x1="233.63" y1="424.00" x2="233.63" y2="428.20" stroke="#a8a8a8" stroke-width="1.05"/>
<line x1="234.4" y1="428.2" x2="234.4" y2="432.4" stroke="#b00808" stroke-width="3.5"/>
<line x1="233.98" y1="428.20" x2="233.98" y2="432.40" stroke="#ea1616" stroke-width="2.52"/>
<line x1="233.63" y1="428.20" x2="233.63" y2="432.40" stroke="#ff5a5a" stroke-width="1.05"/>
<line x1="234.4" y1="432.4" x2="239.4" y2="430.9" stroke="#b00808" stroke-width="2.6"/>
<line x1="234.31" y1="432.10" x2="239.31" y2="430.65" stroke="#ea1616" stroke-width="1.87"/>
<line x1="234.24" y1="431.85" x2="239.24" y2="430.40" stroke="#ff5a5a" stroke-width="0.78"/>
<line x1="239.4" y1="430.9" x2="244.4" y2="429.5" stroke="#b8b8b8" stroke-width="2.6"/>
<line x1="239.31" y1="430.65" x2="244.31" y2="429.20" stroke="#ececec" stroke-width="1.87"/>
<line x1="239.24" y1="430.40" x2="244.24" y2="428.95" stroke="#ffffff" stroke-width="0.78"/>
<line x1="258.7" y1="399.4" x2="267.0" y2="397.3" stroke="#b00808" stroke-width="3.5"/>
<line x1="258.60" y1="398.99" x2="266.95" y2="396.89" stroke="#ea1616" stroke-width="2.52"/>
<line x1="258.51" y1="398.65" x2="266.86" y2="396.55" stroke="#ff5a5a" stroke-width="1.05"/>
<line x1="267.0" y1="397.3" x2="275.4" y2="395.2" stroke="#5e5e5e" stroke-width="3.5"/>
<line x1="266.95" y1="396.89" x2="275.30" y2="394.79" stroke="#858585" stroke-width="2.52"/>
<line x1="266.86" y1="396.55" x2="275.21" y2="394.45" stroke="#a8a8a8" stroke-width="1.05"/>
<line x1="275.4" y1="395.2" x2="278.0" y2="387.7" stroke="#5e5e5e" stroke-width="3.5"/>
<line x1="275.00" y1="395.06" x2="277.65" y2="387.56" stroke="#858585" stroke-width="2.52"/>
<line x1="274.67" y1="394.94" x2="277.32" y2="387.44" stroke="#a8a8a8" stroke-width="1.05"/>
<line x1="278.0" y1="387.7" x2="280.7" y2="380.2" stroke="#b00808" stroke-width="3.5"/>
<line x1="277.65" y1="387.56" x2="280.30" y2="380.06" stroke="#ea1616" stroke-width="2.52"/>
<line x1="277.32" y1="387.44" x2="279.97" y2="379.94" stroke="#ff5a5a" stroke-width="1.05"/>
<line x1="275.4" y1="395.2" x2="281.6" y2="401.9" stroke="#5e5e5e" stroke-width="3.5"/>
<line x1="275.71" y1="394.91" x2="281.96" y2="401.61" stroke="#858585" stroke-width="2.52"/>
<line x1="275.96" y1="394.67" x2="282.21" y2="401.37" stroke="#a8a8a8" stroke-width="1.05"/>
<line x1="281.6" y1="401.9" x2="287.9" y2="408.6" stroke="#5e5e5e" stroke-width="3.5"/>
<line x1="281.96" y1="401.61" x2="288.21" y2="408.31" stroke="#858585" stroke-width="2.52"/>
<line x1="282.21" y1="401.37" x2="288.46" y2="408.07" stroke="#a8a8a8" stroke-width="1.05"/>
<line x1="280.7" y1="380.2" x2="287.6" y2="377.2" stroke="#b00808" stroke-width="3.5"/>
<line x1="280.53" y1="379.81" x2="287.48" y2="376.86" stroke="#ea1616" stroke-width="2.52"/>
<line x1="280.40" y1="379.49" x2="287.35" y2="376.54" stroke="#ff5a5a" stroke-width="1.05"/>
<line x1="287.6" y1="377.2" x2="294.6" y2="374.3" stroke="#5e5e5e" stroke-width="3.5"/>
<line x1="287.48" y1="376.86" x2="294.43" y2="373.91" stroke="#858585" stroke-width="2.52"/>
<line x1="287.35" y1="376.54" x2="294.30" y2="373.59" stroke="#a8a8a8" stroke-width="1.05"/>
<line x1="294.6" y1="374.3" x2="295.9" y2="365.4" stroke="#5e5e5e" stroke-width="3.5"/>
<line x1="294.18" y1="374.24" x2="295.43" y2="365.29" stroke="#858585" stroke-width="2.52"/>
<line x1="293.84" y1="374.19" x2="295.09" y2="365.24" stroke="#a8a8a8" stroke-width="1.05"/>
<line x1="295.9" y1="365.4" x2="297.1" y2="356.4" stroke="#5e5e5e" stroke-width="3.5"/>
<line x1="295.43" y1="365.29" x2="296.68" y2="356.34" stroke="#858585" stroke-width="2.52"/>
<line x1="295.09" y1="365.24" x2="296.34" y2="356.29" stroke="#a8a8a8" stroke-width="1.05"/>
<line x1="294.6" y1="374.3" x2="301.7" y2="380.0" stroke="#5e5e5e" stroke-width="3.5"/>
<line x1="294.87" y1="373.97" x2="301.97" y2="379.67" stroke="#858585" stroke-width="2.52"/>
<line x1="295.08" y1="373.70" x2="302.18" y2="379.40" stroke="#a8a8a8" stroke-width="1.05"/>
<line x1="301.7" y1="380.0" x2="308.8" y2="385.7" stroke="#5e5e5e" stroke-width="3.5"/>
<line x1="301.97" y1="379.67" x2="309.07" y2="385.37" stroke="#858585" stroke-width="2.52"/>
<line x1="302.18" y1="379.40" x2="309.28" y2="385.10" stroke="#a8a8a8" stroke-width="1.05"/>
<line x1="297.1" y1="356.4" x2="292.1" y2="352.8" stroke="#5e5e5e" stroke-width="3.5"/>
<line x1="297.35" y1="356.06" x2="292.35" y2="352.46" stroke="#858585" stroke-width="2.52"/>
<line x1="297.55" y1="355.78" x2="292.55" y2="352.18" stroke="#a8a8a8" stroke-width="1.05"/>
<line x1="292.1" y1="352.8" x2="287.1" y2="349.2" stroke="#b00808" stroke-width="3.5"/>
<line x1="292.35" y1="352.46" x2="287.35" y2="348.86" stroke="#ea1616" stroke-width="2.52"/>
<line x1="292.55" y1="352.18" x2="287.55" y2="348.58" stroke="#ff5a5a" stroke-width="1.05"/>
<line x1="281.7" y1="345.9" x2="284.4" y2="347.5" stroke="#b8b8b8" stroke-width="2.6"/>
<line x1="281.86" y1="345.63" x2="284.56" y2="347.28" stroke="#ececec" stroke-width="1.87"/>
<line x1="282.00" y1="345.41" x2="284.70" y2="347.06" stroke="#ffffff" stroke-width="0.78"/>
<line x1="284.4" y1="347.5" x2="287.1" y2="349.2" stroke="#b00808" stroke-width="2.6"/>
<line x1="284.56" y1="347.28" x2="287.26" y2="348.93" stroke="#ea1616" stroke-width="1.87"/>
<line x1="284.70" y1="347.06" x2="287.40" y2="348.71" stroke="#ff5a5a" stroke-width="0.78"/>
<line x1="308.8" y1="385.7" x2="316.4" y2="383.4" stroke="#5e5e5e" stroke-width="3.5"/>
<line x1="308.67" y1="385.30" x2="316.22" y2="382.95" stroke="#858585" stroke-width="2.52"/>
<line x1="308.57" y1="384.96" x2="316.12" y2="382.61" stroke="#a8a8a8" stroke-width="1.05"/>
<line x1="316.4" y1="383.4" x2="323.9" y2="381.0" stroke="#b00808" stroke-width="3.5"/>
<line x1="316.22" y1="382.95" x2="323.77" y2="380.60" stroke="#ea1616" stroke-width="2.52"/>
<line x1="316.12" y1="382.61" x2="323.67" y2="380.26" stroke="#ff5a5a" stroke-width="1.05"/>
<line x1="308.8" y1="385.7" x2="306.8" y2="394.2" stroke="#5e5e5e" stroke-width="3.5"/>
<line x1="308.39" y1="385.60" x2="306.34" y2="394.15" stroke="#858585" stroke-width="2.52"/>
<line x1="308.05" y1="385.52" x2="306.00" y2="394.07" stroke="#a8a8a8" stroke-width="1.05"/>
<line x1="306.8" y1="394.2" x2="304.7" y2="402.8" stroke="#5e5e5e" stroke-width="3.5"/>
<line x1="306.34" y1="394.15" x2="304.29" y2="402.70" stroke="#858585" stroke-width="2.52"/>
<line x1="306.00" y1="394.07" x2="303.95" y2="402.62" stroke="#a8a8a8" stroke-width="1.05"/>
<line x1="323.9" y1="381.0" x2="326.0" y2="376.0" stroke="#b00808" stroke-width="2.6"/>
<line x1="323.61" y1="380.88" x2="325.71" y2="375.88" stroke="#ea1616" stroke-width="1.87"/>
<line x1="323.37" y1="380.78" x2="325.47" y2="375.78" stroke="#ff5a5a" stroke-width="0.78"/>
<line x1="326.0" y1="376.0" x2="328.1" y2="371.0" stroke="#b8b8b8" stroke-width="2.6"/>
<line x1="325.71" y1="375.88" x2="327.81" y2="370.88" stroke="#ececec" stroke-width="1.87"/>
<line x1="325.47" y1="375.78" x2="327.57" y2="370.78" stroke="#ffffff" stroke-width="0.78"/>
<line x1="304.7" y1="402.8" x2="310.4" y2="408.6" stroke="#5e5e5e" stroke-width="3.5"/>
<line x1="305.00" y1="402.51" x2="310.65" y2="408.36" stroke="#858585" stroke-width="2.52"/>
<line x1="305.25" y1="402.27" x2="310.90" y2="408.12" stroke="#a8a8a8" stroke-width="1.05"/>
<line x1="310.4" y1="408.6" x2="316.0" y2="414.5" stroke="#b00808" stroke-width="3.5"/>
<line x1="310.65" y1="408.36" x2="316.30" y2="414.21" stroke="#ea1616" stroke-width="2.52"/>
<line x1="310.90" y1="408.12" x2="316.55" y2="413.97" stroke="#ff5a5a" stroke-width="1.05"/>
<line x1="304.7" y1="402.8" x2="296.3" y2="405.7" stroke="#5e5e5e" stroke-width="3.5"/>
<line x1="304.56" y1="402.40" x2="296.16" y2="405.30" stroke="#858585" stroke-width="2.52"/>
<line x1="304.45" y1="402.07" x2="296.05" y2="404.97" stroke="#a8a8a8" stroke-width="1.05"/>
<line x1="296.3" y1="405.7" x2="287.9" y2="408.6" stroke="#5e5e5e" stroke-width="3.5"/>
<line x1="296.16" y1="405.30" x2="287.76" y2="408.20" stroke="#858585" stroke-width="2.52"/>
<line x1="296.05" y1="404.97" x2="287.65" y2="407.87" stroke="#a8a8a8" stroke-width="1.05"/>
<line x1="316.0" y1="414.5" x2="321.4" y2="412.8" stroke="#b00808" stroke-width="2.6"/>
<line x1="315.91" y1="414.20" x2="321.36" y2="412.50" stroke="#ea1616" stroke-width="1.87"/>
<line x1="315.83" y1="413.95" x2="321.28" y2="412.25" stroke="#ff5a5a" stroke-width="0.78"/>
<line x1="321.4" y1="412.8" x2="326.9" y2="411.1" stroke="#b8b8b8" stroke-width="2.6"/>
<line x1="321.36" y1="412.50" x2="326.81" y2="410.80" stroke="#ececec" stroke-width="1.87"/>
<line x1="321.28" y1="412.25" x2="326.73" y2="410.55" stroke="#ffffff" stroke-width="0.78"/>
<line x1="287.9" y1="408.6" x2="285.6" y2="414.3" stroke="#5e5e5e" stroke-width="3.5"/>
<line x1="287.51" y1="408.44" x2="285.26" y2="414.14" stroke="#858585" stroke-width="2.52"/>
<line x1="287.18" y1="408.32" x2="284.93" y2="414.02" stroke="#a8a8a8" stroke-width="1.05"/>
<line x1="285.6" y1="414.3" x2="283.4" y2="420.0" stroke="#b00808" stroke-width="3.5"/>
<line x1="285.26" y1="414.14" x2="283.01" y2="419.84" stroke="#ea1616" stroke-width="2.52"/>
<line x1="284.93" y1="414.02" x2="282.68" y2="419.72" stroke="#ff5a5a" stroke-width="1.05"/>
<line x1="283.4" y1="420.0" x2="284.0" y2="425.4" stroke="#b00808" stroke-width="2.6"/>
<line x1="283.09" y1="420.03" x2="283.69" y2="425.48" stroke="#ea1616" stroke-width="1.87"/>
<line x1="282.83" y1="420.06" x2="283.43" y2="425.51" stroke="#ff5a5a" stroke-width="0.78"/>
<line x1="284.0" y1="425.4" x2="284.6" y2="430.9" stroke="#b8b8b8" stroke-width="2.6"/>
<line x1="283.69" y1="425.48" x2="284.29" y2="430.93" stroke="#ececec" stroke-width="1.87"/>
<line x1="283.43" y1="425.51" x2="284.03" y2="430.96" stroke="#ffffff" stroke-width="0.78"/>
<line x1="69.4" y1="435.1" x2="73.5" y2="439.5" stroke="#b8b8b8" stroke-width="2.6"/>
<line x1="69.63" y1="434.89" x2="73.68" y2="439.24" stroke="#ececec" stroke-width="1.87"/>
<line x1="69.82" y1="434.71" x2="73.87" y2="439.06" stroke="#ffffff" stroke-width="0.78"/>
<line x1="73.5" y1="439.5" x2="77.5" y2="443.8" stroke="#b00808" stroke-width="2.6"/>
<line x1="73.68" y1="439.24" x2="77.73" y2="443.59" stroke="#ea1616" stroke-width="1.87"/>
<line x1="73.87" y1="439.06" x2="77.92" y2="443.41" stroke="#ff5a5a" stroke-width="0.78"/>
<line x1="77.5" y1="443.8" x2="74.3" y2="451.3" stroke="#b00808" stroke-width="3.5"/>
<line x1="77.11" y1="443.63" x2="73.91" y2="451.13" stroke="#ea1616" stroke-width="2.52"/>
<line x1="76.79" y1="443.50" x2="73.59" y2="451.00" stroke="#ff5a5a" stroke-width="1.05"/>
<line x1="74.3" y1="451.3" x2="71.1" y2="458.8" stroke="#5e5e5e" stroke-width="3.5"/>
<line x1="73.91" y1="451.13" x2="70.71" y2="458.63" stroke="#858585" stroke-width="2.52"/>
<line x1="73.59" y1="451.00" x2="70.39" y2="458.50" stroke="#a8a8a8" stroke-width="1.05"/>
<line x1="71.1" y1="458.8" x2="61.9" y2="460.0" stroke="#5e5e5e" stroke-width="3.5"/>
<line x1="71.05" y1="458.38" x2="61.85" y2="459.53" stroke="#858585" stroke-width="2.52"/>
<line x1="71.00" y1="458.04" x2="61.80" y2="459.19" stroke="#a8a8a8" stroke-width="1.05"/>
<line x1="61.9" y1="460.0" x2="52.7" y2="461.1" stroke="#5e5e5e" stroke-width="3.5"/>
<line x1="61.85" y1="459.53" x2="52.65" y2="460.68" stroke="#858585" stroke-width="2.52"/>
<line x1="61.80" y1="459.19" x2="52.60" y2="460.34" stroke="#a8a8a8" stroke-width="1.05"/>
<line x1="71.1" y1="458.8" x2="76.3" y2="465.4" stroke="#5e5e5e" stroke-width="3.5"/>
<line x1="71.43" y1="458.54" x2="76.68" y2="465.14" stroke="#858585" stroke-width="2.52"/>
<line x1="71.70" y1="458.32" x2="76.95" y2="464.92" stroke="#a8a8a8" stroke-width="1.05"/>
<line x1="76.3" y1="465.4" x2="81.6" y2="472.0" stroke="#5e5e5e" stroke-width="3.5"/>
<line x1="76.68" y1="465.14" x2="81.93" y2="471.74" stroke="#858585" stroke-width="2.52"/>
<line x1="76.95" y1="464.92" x2="82.20" y2="471.52" stroke="#a8a8a8" stroke-width="1.05"/>
<line x1="52.7" y1="461.1" x2="48.2" y2="455.4" stroke="#5e5e5e" stroke-width="3.5"/>
<line x1="53.03" y1="460.84" x2="48.58" y2="455.14" stroke="#858585" stroke-width="2.52"/>
<line x1="53.31" y1="460.63" x2="48.86" y2="454.93" stroke="#a8a8a8" stroke-width="1.05"/>
<line x1="48.2" y1="455.4" x2="43.8" y2="449.7" stroke="#b00808" stroke-width="3.5"/>
<line x1="48.58" y1="455.14" x2="44.13" y2="449.44" stroke="#ea1616" stroke-width="2.52"/>
<line x1="48.86" y1="454.93" x2="44.41" y2="449.23" stroke="#ff5a5a" stroke-width="1.05"/>
<line x1="52.7" y1="461.1" x2="50.6" y2="470.1" stroke="#5e5e5e" stroke-width="3.5"/>
<line x1="52.29" y1="461.00" x2="50.19" y2="469.95" stroke="#858585" stroke-width="2.52"/>
<line x1="51.95" y1="460.92" x2="49.85" y2="469.87" stroke="#a8a8a8" stroke-width="1.05"/>
<line x1="50.6" y1="470.1" x2="48.5" y2="479.0" stroke="#5e5e5e" stroke-width="3.5"/>
<line x1="50.19" y1="469.95" x2="48.09" y2="478.90" stroke="#858585" stroke-width="2.52"/>
<line x1="49.85" y1="469.87" x2="47.75" y2="478.82" stroke="#a8a8a8" stroke-width="1.05"/>
<line x1="43.8" y1="449.7" x2="38.2" y2="451.8" stroke="#b00808" stroke-width="2.6"/>
<line x1="43.69" y1="449.41" x2="38.09" y2="451.51" stroke="#ea1616" stroke-width="1.87"/>
<line x1="43.60" y1="449.16" x2="38.00" y2="451.26" stroke="#ff5a5a" stroke-width="0.78"/>
<line x1="38.2" y1="451.8" x2="32.6" y2="453.9" stroke="#b8b8b8" stroke-width="2.6"/>
<line x1="38.09" y1="451.51" x2="32.49" y2="453.61" stroke="#ececec" stroke-width="1.87"/>
<line x1="38.00" y1="451.26" x2="32.40" y2="453.36" stroke="#ffffff" stroke-width="0.78"/>
<line x1="81.6" y1="472.0" x2="89.5" y2="471.4" stroke="#5e5e5e" stroke-width="3.5"/>
<line x1="81.57" y1="471.58" x2="89.52" y2="471.03" stroke="#858585" stroke-width="2.52"/>
<line x1="81.55" y1="471.23" x2="89.50" y2="470.68" stroke="#a8a8a8" stroke-width="1.05"/>
<line x1="89.5" y1="471.4" x2="97.5" y2="470.9" stroke="#b00808" stroke-width="3.5"/>
<line x1="89.52" y1="471.03" x2="97.47" y2="470.48" stroke="#ea1616" stroke-width="2.52"/>
<line x1="89.50" y1="470.68" x2="97.45" y2="470.13" stroke="#ff5a5a" stroke-width="1.05"/>
<line x1="81.6" y1="472.0" x2="78.6" y2="480.0" stroke="#5e5e5e" stroke-width="3.5"/>
<line x1="81.20" y1="471.85" x2="78.20" y2="479.85" stroke="#858585" stroke-width="2.52"/>
<line x1="80.88" y1="471.73" x2="77.88" y2="479.73" stroke="#a8a8a8" stroke-width="1.05"/>
<line x1="78.6" y1="480.0" x2="75.6" y2="488.0" stroke="#b00808" stroke-width="3.5"/>
<line x1="78.20" y1="479.85" x2="75.20" y2="487.85" stroke="#ea1616" stroke-width="2.52"/>
<line x1="77.88" y1="479.73" x2="74.88" y2="487.73" stroke="#ff5a5a" stroke-width="1.05"/>
<line x1="97.5" y1="470.9" x2="103.5" y2="475.0" stroke="#b00808" stroke-width="3.5"/>
<line x1="97.74" y1="470.55" x2="103.79" y2="474.65" stroke="#ea1616" stroke-width="2.52"/>
<line x1="97.93" y1="470.26" x2="103.98" y2="474.36" stroke="#ff5a5a" stroke-width="1.05"/>
<line x1="103.5" y1="475.0" x2="109.6" y2="479.1" stroke="#5e5e5e" stroke-width="3.5"/>
<line x1="103.79" y1="474.65" x2="109.84" y2="478.75" stroke="#858585" stroke-width="2.52"/>
<line x1="103.98" y1="474.36" x2="110.03" y2="478.46" stroke="#a8a8a8" stroke-width="1.05"/>
<line x1="75.6" y1="488.0" x2="67.0" y2="489.1" stroke="#b00808" stroke-width="3.5"/>
<line x1="75.55" y1="487.58" x2="67.00" y2="488.68" stroke="#ea1616" stroke-width="2.52"/>
<line x1="75.50" y1="487.24" x2="66.95" y2="488.34" stroke="#ff5a5a" stroke-width="1.05"/>
<line x1="67.0" y1="489.1" x2="58.5" y2="490.2" stroke="#5e5e5e" stroke-width="3.5"/>
<line x1="67.00" y1="488.68" x2="58.45" y2="489.78" stroke="#858585" stroke-width="2.52"/>
<line x1="66.95" y1="488.34" x2="58.40" y2="489.44" stroke="#a8a8a8" stroke-width="1.05"/>
<line x1="58.5" y1="490.2" x2="53.5" y2="484.6" stroke="#5e5e5e" stroke-width="3.5"/>
<line x1="58.82" y1="489.92" x2="53.82" y2="484.32" stroke="#858585" stroke-width="2.52"/>
<line x1="59.07" y1="489.69" x2="54.07" y2="484.09" stroke="#a8a8a8" stroke-width="1.05"/>
<line x1="53.5" y1="484.6" x2="48.5" y2="479.0" stroke="#5e5e5e" stroke-width="3.5"/>
<line x1="53.82" y1="484.32" x2="48.82" y2="478.72" stroke="#858585" stroke-width="2.52"/>
<line x1="54.07" y1="484.09" x2="49.07" y2="478.49" stroke="#a8a8a8" stroke-width="1.05"/>
<line x1="58.5" y1="490.2" x2="56.9" y2="499.8" stroke="#5e5e5e" stroke-width="3.5"/>
<line x1="58.08" y1="490.13" x2="56.43" y2="499.73" stroke="#858585" stroke-width="2.52"/>
<line x1="57.74" y1="490.07" x2="56.09" y2="499.67" stroke="#a8a8a8" stroke-width="1.05"/>
<line x1="56.9" y1="499.8" x2="55.2" y2="509.4" stroke="#5e5e5e" stroke-width="3.5"/>
<line x1="56.43" y1="499.73" x2="54.78" y2="509.33" stroke="#858585" stroke-width="2.52"/>
<line x1="56.09" y1="499.67" x2="54.44" y2="509.27" stroke="#a8a8a8" stroke-width="1.05"/>
<line x1="48.5" y1="479.0" x2="40.0" y2="479.4" stroke="#5e5e5e" stroke-width="3.5"/>
<line x1="48.48" y1="478.58" x2="39.93" y2="479.03" stroke="#858585" stroke-width="2.52"/>
<line x1="48.46" y1="478.23" x2="39.91" y2="478.68" stroke="#a8a8a8" stroke-width="1.05"/>
<line x1="40.0" y1="479.4" x2="31.4" y2="479.9" stroke="#b00808" stroke-width="3.5"/>
<line x1="39.93" y1="479.03" x2="31.38" y2="479.48" stroke="#ea1616" stroke-width="2.52"/>
<line x1="39.91" y1="478.68" x2="31.36" y2="479.13" stroke="#ff5a5a" stroke-width="1.05"/>
<line x1="31.4" y1="479.9" x2="29.1" y2="485.0" stroke="#b00808" stroke-width="2.6"/>
<line x1="31.11" y1="479.77" x2="28.81" y2="484.92" stroke="#ea1616" stroke-width="1.87"/>
<line x1="30.88" y1="479.67" x2="28.58" y2="484.82" stroke="#ff5a5a" stroke-width="0.78"/>
<line x1="29.1" y1="485.0" x2="26.8" y2="490.2" stroke="#b8b8b8" stroke-width="2.6"/>
<line x1="28.81" y1="484.92" x2="26.51" y2="490.07" stroke="#ececec" stroke-width="1.87"/>
<line x1="28.58" y1="484.82" x2="26.28" y2="489.97" stroke="#ffffff" stroke-width="0.78"/>
<line x1="55.2" y1="509.4" x2="60.8" y2="513.8" stroke="#5e5e5e" stroke-width="3.5"/>
<line x1="55.46" y1="509.07" x2="61.06" y2="513.42" stroke="#858585" stroke-width="2.52"/>
<line x1="55.67" y1="508.79" x2="61.27" y2="513.14" stroke="#a8a8a8" stroke-width="1.05"/>
<line x1="60.8" y1="513.8" x2="66.4" y2="518.1" stroke="#b00808" stroke-width="3.5"/>
<line x1="61.06" y1="513.42" x2="66.66" y2="517.77" stroke="#ea1616" stroke-width="2.52"/>
<line x1="61.27" y1="513.14" x2="66.87" y2="517.49" stroke="#ff5a5a" stroke-width="1.05"/>
<line x1="109.6" y1="479.1" x2="117.1" y2="473.9" stroke="#5e5e5e" stroke-width="3.5"/>
<line x1="109.36" y1="478.75" x2="116.86" y2="473.50" stroke="#858585" stroke-width="2.52"/>
<line x1="109.16" y1="478.47" x2="116.66" y2="473.22" stroke="#a8a8a8" stroke-width="1.05"/>
<line x1="117.1" y1="473.9" x2="124.6" y2="468.6" stroke="#5e5e5e" stroke-width="3.5"/>
<line x1="116.86" y1="473.50" x2="124.36" y2="468.25" stroke="#858585" stroke-width="2.52"/>
<line x1="116.66" y1="473.22" x2="124.16" y2="467.97" stroke="#a8a8a8" stroke-width="1.05"/>
<line x1="109.6" y1="479.1" x2="111.5" y2="488.0" stroke="#5e5e5e" stroke-width="3.5"/>
<line x1="109.19" y1="479.19" x2="111.09" y2="488.09" stroke="#858585" stroke-width="2.52"/>
<line x1="108.85" y1="479.26" x2="110.75" y2="488.16" stroke="#a8a8a8" stroke-width="1.05"/>
<line x1="111.5" y1="488.0" x2="113.4" y2="496.9" stroke="#5e5e5e" stroke-width="3.5"/>
<line x1="111.09" y1="488.09" x2="112.99" y2="496.99" stroke="#858585" stroke-width="2.52"/>
<line x1="110.75" y1="488.16" x2="112.65" y2="497.06" stroke="#a8a8a8" stroke-width="1.05"/>
<line x1="124.6" y1="468.6" x2="124.6" y2="460.2" stroke="#5e5e5e" stroke-width="3.5"/>
<line x1="124.18" y1="468.60" x2="124.18" y2="460.25" stroke="#858585" stroke-width="2.52"/>
<line x1="123.83" y1="468.60" x2="123.83" y2="460.25" stroke="#a8a8a8" stroke-width="1.05"/>
<line x1="124.6" y1="460.2" x2="124.6" y2="451.9" stroke="#5e5e5e" stroke-width="3.5"/>
<line x1="124.18" y1="460.25" x2="124.18" y2="451.90" stroke="#858585" stroke-width="2.52"/>
<line x1="123.83" y1="460.25" x2="123.83" y2="451.90" stroke="#a8a8a8" stroke-width="1.05"/>
<line x1="124.6" y1="468.6" x2="132.1" y2="472.2" stroke="#5e5e5e" stroke-width="3.5"/>
<line x1="124.78" y1="468.22" x2="132.33" y2="471.82" stroke="#858585" stroke-width="2.52"/>
<line x1="124.93" y1="467.90" x2="132.48" y2="471.50" stroke="#a8a8a8" stroke-width="1.05"/>
<line x1="132.1" y1="472.2" x2="139.7" y2="475.8" stroke="#b00808" stroke-width="3.5"/>
<line x1="132.33" y1="471.82" x2="139.88" y2="475.42" stroke="#ea1616" stroke-width="2.52"/>
<line x1="132.48" y1="471.50" x2="140.03" y2="475.10" stroke="#ff5a5a" stroke-width="1.05"/>
<line x1="124.6" y1="451.9" x2="130.8" y2="447.1" stroke="#5e5e5e" stroke-width="3.5"/>
<line x1="124.34" y1="451.57" x2="130.54" y2="446.77" stroke="#858585" stroke-width="2.52"/>
<line x1="124.13" y1="451.29" x2="130.33" y2="446.49" stroke="#a8a8a8" stroke-width="1.05"/>
<line x1="130.8" y1="447.1" x2="137.0" y2="442.3" stroke="#b00808" stroke-width="3.5"/>
<line x1="130.54" y1="446.77" x2="136.74" y2="441.97" stroke="#ea1616" stroke-width="2.52"/>
<line x1="130.33" y1="446.49" x2="136.53" y2="441.69" stroke="#ff5a5a" stroke-width="1.05"/>
<line x1="134.3" y1="437.1" x2="135.7" y2="439.7" stroke="#b8b8b8" stroke-width="2.6"/>
<line x1="134.02" y1="437.24" x2="135.37" y2="439.84" stroke="#ececec" stroke-width="1.87"/>
<line x1="133.79" y1="437.36" x2="135.14" y2="439.96" stroke="#ffffff" stroke-width="0.78"/>
<line x1="135.7" y1="439.7" x2="137.0" y2="442.3" stroke="#b00808" stroke-width="2.6"/>
<line x1="135.37" y1="439.84" x2="136.72" y2="442.44" stroke="#ea1616" stroke-width="1.87"/>
<line x1="135.14" y1="439.96" x2="136.49" y2="442.56" stroke="#ff5a5a" stroke-width="0.78"/>
<line x1="139.7" y1="475.8" x2="141.3" y2="482.8" stroke="#b00808" stroke-width="3.5"/>
<line x1="139.29" y1="475.90" x2="140.94" y2="482.90" stroke="#ea1616" stroke-width="2.52"/>
<line x1="138.95" y1="475.98" x2="140.60" y2="482.98" stroke="#ff5a5a" stroke-width="1.05"/>
<line x1="141.3" y1="482.8" x2="143.0" y2="489.8" stroke="#5e5e5e" stroke-width="3.5"/>
<line x1="140.94" y1="482.90" x2="142.59" y2="489.90" stroke="#858585" stroke-width="2.52"/>
<line x1="140.60" y1="482.98" x2="142.25" y2="489.98" stroke="#a8a8a8" stroke-width="1.05"/>
<line x1="143.0" y1="489.8" x2="136.6" y2="496.5" stroke="#5e5e5e" stroke-width="3.5"/>
<line x1="142.69" y1="489.51" x2="136.24" y2="496.21" stroke="#858585" stroke-width="2.52"/>
<line x1="142.45" y1="489.27" x2="136.00" y2="495.97" stroke="#a8a8a8" stroke-width="1.05"/>
<line x1="136.6" y1="496.5" x2="130.1" y2="503.2" stroke="#5e5e5e" stroke-width="3.5"/>
<line x1="136.24" y1="496.21" x2="129.79" y2="502.91" stroke="#858585" stroke-width="2.52"/>
<line x1="136.00" y1="495.97" x2="129.55" y2="502.67" stroke="#a8a8a8" stroke-width="1.05"/>
<line x1="143.0" y1="489.8" x2="150.6" y2="493.1" stroke="#5e5e5e" stroke-width="3.5"/>
<line x1="143.17" y1="489.41" x2="150.72" y2="492.76" stroke="#858585" stroke-width="2.52"/>
<line x1="143.31" y1="489.10" x2="150.86" y2="492.45" stroke="#a8a8a8" stroke-width="1.05"/>
<line x1="150.6" y1="493.1" x2="158.1" y2="496.5" stroke="#b00808" stroke-width="3.5"/>
<line x1="150.72" y1="492.76" x2="158.27" y2="496.11" stroke="#ea1616" stroke-width="2.52"/>
<line x1="150.86" y1="492.45" x2="158.41" y2="495.80" stroke="#ff5a5a" stroke-width="1.05"/>
<line x1="130.1" y1="503.2" x2="121.8" y2="500.0" stroke="#5e5e5e" stroke-width="3.5"/>
<line x1="130.25" y1="502.80" x2="121.90" y2="499.65" stroke="#858585" stroke-width="2.52"/>
<line x1="130.37" y1="502.48" x2="122.02" y2="499.33" stroke="#a8a8a8" stroke-width="1.05"/>
<line x1="121.8" y1="500.0" x2="113.4" y2="496.9" stroke="#5e5e5e" stroke-width="3.5"/>
<line x1="121.90" y1="499.65" x2="113.55" y2="496.50" stroke="#858585" stroke-width="2.52"/>
<line x1="122.02" y1="499.33" x2="113.67" y2="496.18" stroke="#a8a8a8" stroke-width="1.05"/>
<line x1="130.1" y1="503.2" x2="131.7" y2="510.8" stroke="#5e5e5e" stroke-width="3.5"/>
<line x1="129.69" y1="503.29" x2="131.29" y2="510.84" stroke="#858585" stroke-width="2.52"/>
<line x1="129.35" y1="503.36" x2="130.95" y2="510.91" stroke="#a8a8a8" stroke-width="1.05"/>
<line x1="131.7" y1="510.8" x2="133.3" y2="518.3" stroke="#b00808" stroke-width="3.5"/>
<line x1="131.29" y1="510.84" x2="132.89" y2="518.39" stroke="#ea1616" stroke-width="2.52"/>
<line x1="130.95" y1="510.91" x2="132.55" y2="518.46" stroke="#ff5a5a" stroke-width="1.05"/>
<line x1="113.4" y1="496.9" x2="107.7" y2="502.5" stroke="#5e5e5e" stroke-width="3.5"/>
<line x1="113.10" y1="496.60" x2="107.40" y2="502.25" stroke="#858585" stroke-width="2.52"/>
<line x1="112.86" y1="496.35" x2="107.16" y2="502.00" stroke="#a8a8a8" stroke-width="1.05"/>
<line x1="107.7" y1="502.5" x2="102.0" y2="508.2" stroke="#b00808" stroke-width="3.5"/>
<line x1="107.40" y1="502.25" x2="101.70" y2="507.90" stroke="#ea1616" stroke-width="2.52"/>
<line x1="107.16" y1="502.00" x2="101.46" y2="507.65" stroke="#ff5a5a" stroke-width="1.05"/>
<line x1="102.0" y1="508.2" x2="103.5" y2="513.4" stroke="#b00808" stroke-width="2.6"/>
<line x1="101.70" y1="508.28" x2="103.15" y2="513.48" stroke="#ea1616" stroke-width="1.87"/>
<line x1="101.45" y1="508.35" x2="102.90" y2="513.55" stroke="#ff5a5a" stroke-width="0.78"/>
<line x1="103.5" y1="513.4" x2="104.9" y2="518.6" stroke="#b8b8b8" stroke-width="2.6"/>
<line x1="103.15" y1="513.48" x2="104.60" y2="518.68" stroke="#ececec" stroke-width="1.87"/>
<line x1="102.90" y1="513.55" x2="104.35" y2="518.75" stroke="#ffffff" stroke-width="0.78"/>
<line x1="133.3" y1="518.3" x2="138.4" y2="520.1" stroke="#b00808" stroke-width="2.6"/>
<line x1="133.41" y1="518.00" x2="138.51" y2="519.85" stroke="#ea1616" stroke-width="1.87"/>
<line x1="133.50" y1="517.76" x2="138.60" y2="519.61" stroke="#ff5a5a" stroke-width="0.78"/>
<line x1="138.4" y1="520.1" x2="143.5" y2="522.0" stroke="#b8b8b8" stroke-width="2.6"/>
<line x1="138.51" y1="519.85" x2="143.61" y2="521.70" stroke="#ececec" stroke-width="1.87"/>
<line x1="138.60" y1="519.61" x2="143.70" y2="521.46" stroke="#ffffff" stroke-width="0.78"/>
<line x1="158.1" y1="496.5" x2="165.8" y2="492.7" stroke="#b00808" stroke-width="3.5"/>
<line x1="157.91" y1="496.12" x2="165.66" y2="492.32" stroke="#ea1616" stroke-width="2.52"/>
<line x1="157.76" y1="495.81" x2="165.51" y2="492.01" stroke="#ff5a5a" stroke-width="1.05"/>
<line x1="165.8" y1="492.7" x2="173.6" y2="488.9" stroke="#5e5e5e" stroke-width="3.5"/>
<line x1="165.66" y1="492.32" x2="173.41" y2="488.52" stroke="#858585" stroke-width="2.52"/>
<line x1="165.51" y1="492.01" x2="173.26" y2="488.21" stroke="#a8a8a8" stroke-width="1.05"/>
<line x1="154.7" y1="457.8" x2="159.3" y2="459.0" stroke="#b8b8b8" stroke-width="2.6"/>
<line x1="154.78" y1="457.49" x2="159.38" y2="458.64" stroke="#ececec" stroke-width="1.87"/>
<line x1="154.84" y1="457.25" x2="159.44" y2="458.40" stroke="#ffffff" stroke-width="0.78"/>
<line x1="159.3" y1="459.0" x2="163.9" y2="460.1" stroke="#b00808" stroke-width="2.6"/>
<line x1="159.38" y1="458.64" x2="163.98" y2="459.79" stroke="#ea1616" stroke-width="1.87"/>
<line x1="159.44" y1="458.40" x2="164.04" y2="459.55" stroke="#ff5a5a" stroke-width="0.78"/>
<line x1="163.9" y1="460.1" x2="169.6" y2="465.6" stroke="#b00808" stroke-width="3.5"/>
<line x1="164.19" y1="459.80" x2="169.89" y2="465.30" stroke="#ea1616" stroke-width="2.52"/>
<line x1="164.43" y1="459.55" x2="170.13" y2="465.05" stroke="#ff5a5a" stroke-width="1.05"/>
<line x1="169.6" y1="465.6" x2="175.3" y2="471.1" stroke="#5e5e5e" stroke-width="3.5"/>
<line x1="169.89" y1="465.30" x2="175.59" y2="470.80" stroke="#858585" stroke-width="2.52"/>
<line x1="170.13" y1="465.05" x2="175.83" y2="470.55" stroke="#a8a8a8" stroke-width="1.05"/>
<line x1="175.3" y1="471.1" x2="183.8" y2="468.0" stroke="#5e5e5e" stroke-width="3.5"/>
<line x1="175.15" y1="470.70" x2="183.60" y2="467.55" stroke="#858585" stroke-width="2.52"/>
<line x1="175.03" y1="470.38" x2="183.48" y2="467.23" stroke="#a8a8a8" stroke-width="1.05"/>
<line x1="183.8" y1="468.0" x2="192.2" y2="464.8" stroke="#5e5e5e" stroke-width="3.5"/>
<line x1="183.60" y1="467.55" x2="192.05" y2="464.40" stroke="#858585" stroke-width="2.52"/>
<line x1="183.48" y1="467.23" x2="191.93" y2="464.08" stroke="#a8a8a8" stroke-width="1.05"/>
<line x1="175.3" y1="471.1" x2="174.4" y2="480.0" stroke="#5e5e5e" stroke-width="3.5"/>
<line x1="174.88" y1="471.06" x2="174.03" y2="479.96" stroke="#858585" stroke-width="2.52"/>
<line x1="174.53" y1="471.03" x2="173.68" y2="479.93" stroke="#a8a8a8" stroke-width="1.05"/>
<line x1="174.4" y1="480.0" x2="173.6" y2="488.9" stroke="#5e5e5e" stroke-width="3.5"/>
<line x1="174.03" y1="479.96" x2="173.18" y2="488.86" stroke="#858585" stroke-width="2.52"/>
<line x1="173.68" y1="479.93" x2="172.83" y2="488.83" stroke="#a8a8a8" stroke-width="1.05"/>
<line x1="192.2" y1="464.8" x2="193.5" y2="457.1" stroke="#5e5e5e" stroke-width="3.5"/>
<line x1="191.78" y1="464.73" x2="193.08" y2="457.03" stroke="#858585" stroke-width="2.52"/>
<line x1="191.44" y1="464.67" x2="192.74" y2="456.97" stroke="#a8a8a8" stroke-width="1.05"/>
<line x1="193.5" y1="457.1" x2="194.8" y2="449.4" stroke="#b00808" stroke-width="3.5"/>
<line x1="193.08" y1="457.03" x2="194.38" y2="449.33" stroke="#ea1616" stroke-width="2.52"/>
<line x1="192.74" y1="456.97" x2="194.04" y2="449.27" stroke="#ff5a5a" stroke-width="1.05"/>
<line x1="192.2" y1="464.8" x2="198.8" y2="470.9" stroke="#5e5e5e" stroke-width="3.5"/>
<line x1="192.49" y1="464.49" x2="199.14" y2="470.59" stroke="#858585" stroke-width="2.52"/>
<line x1="192.72" y1="464.23" x2="199.37" y2="470.33" stroke="#a8a8a8" stroke-width="1.05"/>
<line x1="198.8" y1="470.9" x2="205.5" y2="477.0" stroke="#5e5e5e" stroke-width="3.5"/>
<line x1="199.14" y1="470.59" x2="205.79" y2="476.69" stroke="#858585" stroke-width="2.52"/>
<line x1="199.37" y1="470.33" x2="206.02" y2="476.43" stroke="#a8a8a8" stroke-width="1.05"/>
<line x1="205.5" y1="477.0" x2="204.1" y2="485.1" stroke="#5e5e5e" stroke-width="3.5"/>
<line x1="205.08" y1="476.93" x2="203.63" y2="485.03" stroke="#858585" stroke-width="2.52"/>
<line x1="204.74" y1="476.86" x2="203.29" y2="484.96" stroke="#a8a8a8" stroke-width="1.05"/>
<line x1="204.1" y1="485.1" x2="202.6" y2="493.2" stroke="#b00808" stroke-width="3.5"/>
<line x1="203.63" y1="485.03" x2="202.18" y2="493.13" stroke="#ea1616" stroke-width="2.52"/>
<line x1="203.29" y1="484.96" x2="201.84" y2="493.06" stroke="#ff5a5a" stroke-width="1.05"/>
<line x1="205.5" y1="477.0" x2="213.1" y2="474.9" stroke="#5e5e5e" stroke-width="3.5"/>
<line x1="205.39" y1="476.59" x2="212.99" y2="474.49" stroke="#858585" stroke-width="2.52"/>
<line x1="205.29" y1="476.26" x2="212.89" y2="474.16" stroke="#a8a8a8" stroke-width="1.05"/>
<line x1="213.1" y1="474.9" x2="220.7" y2="472.8" stroke="#b00808" stroke-width="3.5"/>
<line x1="212.99" y1="474.49" x2="220.59" y2="472.39" stroke="#ea1616" stroke-width="2.52"/>
<line x1="212.89" y1="474.16" x2="220.49" y2="472.06" stroke="#ff5a5a" stroke-width="1.05"/>
<line x1="202.6" y1="493.2" x2="194.6" y2="496.3" stroke="#b00808" stroke-width="3.5"/>
<line x1="202.45" y1="492.81" x2="194.50" y2="495.91" stroke="#ea1616" stroke-width="2.52"/>
<line x1="202.32" y1="492.48" x2="194.37" y2="495.58" stroke="#ff5a5a" stroke-width="1.05"/>
<line x1="194.6" y1="496.3" x2="186.7" y2="499.4" stroke="#5e5e5e" stroke-width="3.5"/>
<line x1="194.50" y1="495.91" x2="186.55" y2="499.01" stroke="#858585" stroke-width="2.52"/>
<line x1="194.37" y1="495.58" x2="186.42" y2="498.68" stroke="#a8a8a8" stroke-width="1.05"/>
<line x1="186.7" y1="499.4" x2="180.1" y2="494.1" stroke="#5e5e5e" stroke-width="3.5"/>
<line x1="186.96" y1="499.07" x2="180.41" y2="493.82" stroke="#858585" stroke-width="2.52"/>
<line x1="187.18" y1="498.80" x2="180.63" y2="493.55" stroke="#a8a8a8" stroke-width="1.05"/>
<line x1="180.1" y1="494.1" x2="173.6" y2="488.9" stroke="#5e5e5e" stroke-width="3.5"/>
<line x1="180.41" y1="493.82" x2="173.86" y2="488.57" stroke="#858585" stroke-width="2.52"/>
<line x1="180.63" y1="493.55" x2="174.08" y2="488.30" stroke="#a8a8a8" stroke-width="1.05"/>
<line x1="186.7" y1="499.4" x2="186.1" y2="508.3" stroke="#5e5e5e" stroke-width="3.5"/>
<line x1="186.28" y1="499.37" x2="185.63" y2="508.32" stroke="#858585" stroke-width="2.52"/>
<line x1="185.93" y1="499.34" x2="185.28" y2="508.29" stroke="#a8a8a8" stroke-width="1.05"/>
<line x1="186.1" y1="508.3" x2="185.4" y2="517.3" stroke="#5e5e5e" stroke-width="3.5"/>
<line x1="185.63" y1="508.32" x2="184.98" y2="517.27" stroke="#858585" stroke-width="2.52"/>
<line x1="185.28" y1="508.29" x2="184.63" y2="517.24" stroke="#a8a8a8" stroke-width="1.05"/>
<line x1="185.4" y1="517.3" x2="190.4" y2="521.1" stroke="#5e5e5e" stroke-width="3.5"/>
<line x1="185.66" y1="516.96" x2="190.71" y2="520.81" stroke="#858585" stroke-width="2.52"/>
<line x1="185.87" y1="516.69" x2="190.92" y2="520.54" stroke="#a8a8a8" stroke-width="1.05"/>
<line x1="190.4" y1="521.1" x2="195.5" y2="525.0" stroke="#b00808" stroke-width="3.5"/>
<line x1="190.71" y1="520.81" x2="195.76" y2="524.66" stroke="#ea1616" stroke-width="2.52"/>
<line x1="190.92" y1="520.54" x2="195.97" y2="524.39" stroke="#ff5a5a" stroke-width="1.05"/>
<line x1="195.5" y1="525.0" x2="197.8" y2="526.0" stroke="#b00808" stroke-width="2.6"/>
<line x1="195.63" y1="524.71" x2="197.93" y2="525.71" stroke="#ea1616" stroke-width="1.87"/>
<line x1="195.73" y1="524.48" x2="198.03" y2="525.48" stroke="#ff5a5a" stroke-width="0.78"/>
<line x1="197.8" y1="526.0" x2="200.1" y2="527.0" stroke="#b8b8b8" stroke-width="2.6"/>
<line x1="197.93" y1="525.71" x2="200.23" y2="526.71" stroke="#ececec" stroke-width="1.87"/>
<line x1="198.03" y1="525.48" x2="200.33" y2="526.48" stroke="#ffffff" stroke-width="0.78"/>
<line x1="220.7" y1="472.8" x2="227.6" y2="476.0" stroke="#b00808" stroke-width="3.5"/>
<line x1="220.88" y1="472.42" x2="227.73" y2="475.57" stroke="#ea1616" stroke-width="2.52"/>
<line x1="221.02" y1="472.10" x2="227.87" y2="475.25" stroke="#ff5a5a" stroke-width="1.05"/>
<line x1="227.6" y1="476.0" x2="234.4" y2="479.1" stroke="#5e5e5e" stroke-width="3.5"/>
<line x1="227.73" y1="475.57" x2="234.58" y2="478.72" stroke="#858585" stroke-width="2.52"/>
<line x1="227.87" y1="475.25" x2="234.72" y2="478.40" stroke="#a8a8a8" stroke-width="1.05"/>
<line x1="234.4" y1="479.1" x2="240.9" y2="472.9" stroke="#5e5e5e" stroke-width="3.5"/>
<line x1="234.11" y1="478.80" x2="240.56" y2="472.55" stroke="#858585" stroke-width="2.52"/>
<line x1="233.86" y1="478.55" x2="240.31" y2="472.30" stroke="#a8a8a8" stroke-width="1.05"/>
<line x1="240.9" y1="472.9" x2="247.3" y2="466.6" stroke="#5e5e5e" stroke-width="3.5"/>
<line x1="240.56" y1="472.55" x2="247.01" y2="466.30" stroke="#858585" stroke-width="2.52"/>
<line x1="240.31" y1="472.30" x2="246.76" y2="466.05" stroke="#a8a8a8" stroke-width="1.05"/>
<line x1="234.4" y1="479.1" x2="236.5" y2="488.0" stroke="#5e5e5e" stroke-width="3.5"/>
<line x1="233.99" y1="479.20" x2="236.09" y2="488.10" stroke="#858585" stroke-width="2.52"/>
<line x1="233.65" y1="479.28" x2="235.75" y2="488.18" stroke="#a8a8a8" stroke-width="1.05"/>
<line x1="236.5" y1="488.0" x2="238.6" y2="496.9" stroke="#5e5e5e" stroke-width="3.5"/>
<line x1="236.09" y1="488.10" x2="238.19" y2="497.00" stroke="#858585" stroke-width="2.52"/>
<line x1="235.75" y1="488.18" x2="237.85" y2="497.08" stroke="#a8a8a8" stroke-width="1.05"/>
<line x1="247.3" y1="466.6" x2="255.1" y2="469.1" stroke="#5e5e5e" stroke-width="3.5"/>
<line x1="247.43" y1="466.20" x2="255.18" y2="468.70" stroke="#858585" stroke-width="2.52"/>
<line x1="247.54" y1="465.87" x2="255.29" y2="468.37" stroke="#a8a8a8" stroke-width="1.05"/>
<line x1="255.1" y1="469.1" x2="262.8" y2="471.6" stroke="#b00808" stroke-width="3.5"/>
<line x1="255.18" y1="468.70" x2="262.93" y2="471.20" stroke="#ea1616" stroke-width="2.52"/>
<line x1="255.29" y1="468.37" x2="263.04" y2="470.87" stroke="#ff5a5a" stroke-width="1.05"/>
<line x1="247.3" y1="466.6" x2="246.9" y2="459.0" stroke="#5e5e5e" stroke-width="3.5"/>
<line x1="246.88" y1="466.62" x2="246.53" y2="459.02" stroke="#858585" stroke-width="2.52"/>
<line x1="246.53" y1="466.64" x2="246.18" y2="459.04" stroke="#a8a8a8" stroke-width="1.05"/>
<line x1="246.9" y1="459.0" x2="246.6" y2="451.4" stroke="#5e5e5e" stroke-width="3.5"/>
<line x1="246.53" y1="459.02" x2="246.18" y2="451.42" stroke="#858585" stroke-width="2.52"/>
<line x1="246.18" y1="459.04" x2="245.83" y2="451.44" stroke="#a8a8a8" stroke-width="1.05"/>
<line x1="262.8" y1="471.6" x2="265.8" y2="478.8" stroke="#b00808" stroke-width="3.5"/>
<line x1="262.41" y1="471.76" x2="265.36" y2="478.96" stroke="#ea1616" stroke-width="2.52"/>
<line x1="262.09" y1="471.89" x2="265.04" y2="479.09" stroke="#ff5a5a" stroke-width="1.05"/>
<line x1="265.8" y1="478.8" x2="268.7" y2="486.0" stroke="#5e5e5e" stroke-width="3.5"/>
<line x1="265.36" y1="478.96" x2="268.31" y2="486.16" stroke="#858585" stroke-width="2.52"/>
<line x1="265.04" y1="479.09" x2="267.99" y2="486.29" stroke="#a8a8a8" stroke-width="1.05"/>
<line x1="268.7" y1="486.0" x2="263.2" y2="493.1" stroke="#5e5e5e" stroke-width="3.5"/>
<line x1="268.36" y1="485.74" x2="262.91" y2="492.84" stroke="#858585" stroke-width="2.52"/>
<line x1="268.09" y1="485.53" x2="262.64" y2="492.63" stroke="#a8a8a8" stroke-width="1.05"/>
<line x1="263.2" y1="493.1" x2="257.8" y2="500.2" stroke="#5e5e5e" stroke-width="3.5"/>
<line x1="262.91" y1="492.84" x2="257.46" y2="499.94" stroke="#858585" stroke-width="2.52"/>
<line x1="262.64" y1="492.63" x2="257.19" y2="499.73" stroke="#a8a8a8" stroke-width="1.05"/>
<line x1="268.7" y1="486.0" x2="276.5" y2="487.9" stroke="#5e5e5e" stroke-width="3.5"/>
<line x1="268.80" y1="485.59" x2="276.60" y2="487.49" stroke="#858585" stroke-width="2.52"/>
<line x1="268.88" y1="485.25" x2="276.68" y2="487.15" stroke="#a8a8a8" stroke-width="1.05"/>
<line x1="276.5" y1="487.9" x2="284.3" y2="489.8" stroke="#b00808" stroke-width="3.5"/>
<line x1="276.60" y1="487.49" x2="284.40" y2="489.39" stroke="#ea1616" stroke-width="2.52"/>
<line x1="276.68" y1="487.15" x2="284.48" y2="489.05" stroke="#ff5a5a" stroke-width="1.05"/>
<line x1="257.8" y1="500.2" x2="248.2" y2="498.5" stroke="#5e5e5e" stroke-width="3.5"/>
<line x1="257.87" y1="499.78" x2="248.27" y2="498.13" stroke="#858585" stroke-width="2.52"/>
<line x1="257.93" y1="499.44" x2="248.33" y2="497.79" stroke="#a8a8a8" stroke-width="1.05"/>
<line x1="248.2" y1="498.5" x2="238.6" y2="496.9" stroke="#5e5e5e" stroke-width="3.5"/>
<line x1="248.27" y1="498.13" x2="238.67" y2="496.48" stroke="#858585" stroke-width="2.52"/>
<line x1="248.33" y1="497.79" x2="238.73" y2="496.14" stroke="#a8a8a8" stroke-width="1.05"/>
<line x1="257.8" y1="500.2" x2="259.9" y2="507.3" stroke="#5e5e5e" stroke-width="3.5"/>
<line x1="257.39" y1="500.32" x2="259.49" y2="507.42" stroke="#858585" stroke-width="2.52"/>
<line x1="257.06" y1="500.42" x2="259.16" y2="507.52" stroke="#a8a8a8" stroke-width="1.05"/>
<line x1="259.9" y1="507.3" x2="262.0" y2="514.4" stroke="#b00808" stroke-width="3.5"/>
<line x1="259.49" y1="507.42" x2="261.59" y2="514.52" stroke="#ea1616" stroke-width="2.52"/>
<line x1="259.16" y1="507.52" x2="261.26" y2="514.62" stroke="#ff5a5a" stroke-width="1.05"/>
<line x1="238.6" y1="496.9" x2="234.0" y2="502.8" stroke="#5e5e5e" stroke-width="3.5"/>
<line x1="238.27" y1="496.64" x2="233.67" y2="502.49" stroke="#858585" stroke-width="2.52"/>
<line x1="237.99" y1="496.42" x2="233.39" y2="502.27" stroke="#a8a8a8" stroke-width="1.05"/>
<line x1="234.0" y1="502.8" x2="229.4" y2="508.6" stroke="#b00808" stroke-width="3.5"/>
<line x1="233.67" y1="502.49" x2="229.07" y2="508.34" stroke="#ea1616" stroke-width="2.52"/>
<line x1="233.39" y1="502.27" x2="228.79" y2="508.12" stroke="#ff5a5a" stroke-width="1.05"/>
<line x1="246.6" y1="451.4" x2="241.8" y2="451.6" stroke="#5e5e5e" stroke-width="3.5"/>
<line x1="246.58" y1="450.98" x2="241.73" y2="451.23" stroke="#858585" stroke-width="2.52"/>
<line x1="246.56" y1="450.63" x2="241.71" y2="450.88" stroke="#a8a8a8" stroke-width="1.05"/>
<line x1="241.8" y1="451.6" x2="236.9" y2="451.9" stroke="#b00808" stroke-width="3.5"/>
<line x1="241.73" y1="451.23" x2="236.88" y2="451.48" stroke="#ea1616" stroke-width="2.52"/>
<line x1="241.71" y1="450.88" x2="236.86" y2="451.13" stroke="#ff5a5a" stroke-width="1.05"/>
<line x1="246.6" y1="451.4" x2="251.4" y2="445.6" stroke="#5e5e5e" stroke-width="3.5"/>
<line x1="246.27" y1="451.13" x2="251.02" y2="445.33" stroke="#858585" stroke-width="2.52"/>
<line x1="246.00" y1="450.91" x2="250.75" y2="445.11" stroke="#a8a8a8" stroke-width="1.05"/>
<line x1="251.4" y1="445.6" x2="256.1" y2="439.8" stroke="#b00808" stroke-width="3.5"/>
<line x1="251.02" y1="445.33" x2="255.77" y2="439.53" stroke="#ea1616" stroke-width="2.52"/>
<line x1="250.75" y1="445.11" x2="255.50" y2="439.31" stroke="#ff5a5a" stroke-width="1.05"/>
<line x1="229.4" y1="508.6" x2="224.4" y2="508.1" stroke="#b00808" stroke-width="2.6"/>
<line x1="229.43" y1="508.29" x2="224.38" y2="507.84" stroke="#ea1616" stroke-width="1.87"/>
<line x1="229.45" y1="508.03" x2="224.40" y2="507.58" stroke="#ff5a5a" stroke-width="0.78"/>
<line x1="224.4" y1="508.1" x2="219.3" y2="507.7" stroke="#b8b8b8" stroke-width="2.6"/>
<line x1="224.38" y1="507.84" x2="219.33" y2="507.39" stroke="#ececec" stroke-width="1.87"/>
<line x1="224.40" y1="507.58" x2="219.35" y2="507.13" stroke="#ffffff" stroke-width="0.78"/>
<line x1="262.0" y1="514.4" x2="257.6" y2="518.5" stroke="#b00808" stroke-width="2.6"/>
<line x1="261.79" y1="514.17" x2="257.34" y2="518.22" stroke="#ea1616" stroke-width="1.87"/>
<line x1="261.61" y1="513.98" x2="257.16" y2="518.03" stroke="#ff5a5a" stroke-width="0.78"/>
<line x1="257.6" y1="518.5" x2="253.1" y2="522.5" stroke="#b8b8b8" stroke-width="2.6"/>
<line x1="257.34" y1="518.22" x2="252.89" y2="522.27" stroke="#ececec" stroke-width="1.87"/>
<line x1="257.16" y1="518.03" x2="252.71" y2="522.08" stroke="#ffffff" stroke-width="0.78"/>
<line x1="284.3" y1="489.8" x2="291.1" y2="485.8" stroke="#b00808" stroke-width="3.5"/>
<line x1="284.09" y1="489.43" x2="290.94" y2="485.43" stroke="#ea1616" stroke-width="2.52"/>
<line x1="283.91" y1="489.14" x2="290.76" y2="485.14" stroke="#ff5a5a" stroke-width="1.05"/>
<line x1="291.1" y1="485.8" x2="298.0" y2="481.8" stroke="#5e5e5e" stroke-width="3.5"/>
<line x1="290.94" y1="485.43" x2="297.79" y2="481.43" stroke="#858585" stroke-width="2.52"/>
<line x1="290.76" y1="485.14" x2="297.61" y2="481.14" stroke="#a8a8a8" stroke-width="1.05"/>
<line x1="298.0" y1="481.8" x2="299.2" y2="473.3" stroke="#5e5e5e" stroke-width="3.5"/>
<line x1="297.58" y1="481.74" x2="298.83" y2="473.24" stroke="#858585" stroke-width="2.52"/>
<line x1="297.24" y1="481.69" x2="298.49" y2="473.19" stroke="#a8a8a8" stroke-width="1.05"/>
<line x1="299.2" y1="473.3" x2="300.5" y2="464.8" stroke="#5e5e5e" stroke-width="3.5"/>
<line x1="298.83" y1="473.24" x2="300.08" y2="464.74" stroke="#858585" stroke-width="2.52"/>
<line x1="298.49" y1="473.19" x2="299.74" y2="464.69" stroke="#a8a8a8" stroke-width="1.05"/>
<line x1="298.0" y1="481.8" x2="305.1" y2="487.6" stroke="#5e5e5e" stroke-width="3.5"/>
<line x1="298.27" y1="481.47" x2="305.37" y2="487.32" stroke="#858585" stroke-width="2.52"/>
<line x1="298.49" y1="481.21" x2="305.59" y2="487.06" stroke="#a8a8a8" stroke-width="1.05"/>
<line x1="305.1" y1="487.6" x2="312.2" y2="493.5" stroke="#5e5e5e" stroke-width="3.5"/>
<line x1="305.37" y1="487.32" x2="312.47" y2="493.17" stroke="#858585" stroke-width="2.52"/>
<line x1="305.59" y1="487.06" x2="312.69" y2="492.91" stroke="#a8a8a8" stroke-width="1.05"/>
<line x1="300.5" y1="464.8" x2="294.9" y2="458.8" stroke="#5e5e5e" stroke-width="3.5"/>
<line x1="300.81" y1="464.51" x2="295.21" y2="458.46" stroke="#858585" stroke-width="2.52"/>
<line x1="301.07" y1="464.28" x2="295.47" y2="458.23" stroke="#a8a8a8" stroke-width="1.05"/>
<line x1="294.9" y1="458.8" x2="289.3" y2="452.7" stroke="#b00808" stroke-width="3.5"/>
<line x1="295.21" y1="458.46" x2="289.61" y2="452.41" stroke="#ea1616" stroke-width="2.52"/>
<line x1="295.47" y1="458.23" x2="289.87" y2="452.18" stroke="#ff5a5a" stroke-width="1.05"/>
<line x1="300.5" y1="464.8" x2="309.2" y2="461.3" stroke="#5e5e5e" stroke-width="3.5"/>
<line x1="300.34" y1="464.41" x2="309.09" y2="460.91" stroke="#858585" stroke-width="2.52"/>
<line x1="300.21" y1="464.09" x2="308.96" y2="460.59" stroke="#a8a8a8" stroke-width="1.05"/>
<line x1="309.2" y1="461.3" x2="318.0" y2="457.8" stroke="#5e5e5e" stroke-width="3.5"/>
<line x1="309.09" y1="460.91" x2="317.84" y2="457.41" stroke="#858585" stroke-width="2.52"/>
<line x1="308.96" y1="460.59" x2="317.71" y2="457.09" stroke="#a8a8a8" stroke-width="1.05"/>
<line x1="289.3" y1="452.7" x2="283.9" y2="454.5" stroke="#b00808" stroke-width="2.6"/>
<line x1="289.20" y1="452.40" x2="283.75" y2="454.25" stroke="#ea1616" stroke-width="1.87"/>
<line x1="289.12" y1="452.16" x2="283.67" y2="454.01" stroke="#ff5a5a" stroke-width="0.78"/>
<line x1="283.9" y1="454.5" x2="278.4" y2="456.4" stroke="#b8b8b8" stroke-width="2.6"/>
<line x1="283.75" y1="454.25" x2="278.30" y2="456.10" stroke="#ececec" stroke-width="1.87"/>
<line x1="283.67" y1="454.01" x2="278.22" y2="455.86" stroke="#ffffff" stroke-width="0.78"/>
<line x1="318.0" y1="457.8" x2="319.9" y2="450.8" stroke="#5e5e5e" stroke-width="3.5"/>
<line x1="317.59" y1="457.69" x2="319.44" y2="450.64" stroke="#858585" stroke-width="2.52"/>
<line x1="317.26" y1="457.60" x2="319.11" y2="450.55" stroke="#a8a8a8" stroke-width="1.05"/>
<line x1="319.9" y1="450.8" x2="321.7" y2="443.7" stroke="#b00808" stroke-width="3.5"/>
<line x1="319.44" y1="450.64" x2="321.29" y2="443.59" stroke="#ea1616" stroke-width="2.52"/>
<line x1="319.11" y1="450.55" x2="320.96" y2="443.50" stroke="#ff5a5a" stroke-width="1.05"/>
<line x1="318.0" y1="457.8" x2="324.7" y2="464.5" stroke="#5e5e5e" stroke-width="3.5"/>
<line x1="318.30" y1="457.50" x2="325.00" y2="464.15" stroke="#858585" stroke-width="2.52"/>
<line x1="318.54" y1="457.25" x2="325.24" y2="463.90" stroke="#a8a8a8" stroke-width="1.05"/>
<line x1="324.7" y1="464.5" x2="331.4" y2="471.1" stroke="#5e5e5e" stroke-width="3.5"/>
<line x1="325.00" y1="464.15" x2="331.70" y2="470.80" stroke="#858585" stroke-width="2.52"/>
<line x1="325.24" y1="463.90" x2="331.94" y2="470.55" stroke="#a8a8a8" stroke-width="1.05"/>
<line x1="316.7" y1="434.6" x2="319.2" y2="439.1" stroke="#b8b8b8" stroke-width="2.6"/>
<line x1="316.42" y1="434.75" x2="318.92" y2="439.30" stroke="#ececec" stroke-width="1.87"/>
<line x1="316.20" y1="434.88" x2="318.70" y2="439.43" stroke="#ffffff" stroke-width="0.78"/>
<line x1="319.2" y1="439.1" x2="321.7" y2="443.7" stroke="#b00808" stroke-width="2.6"/>
<line x1="318.92" y1="439.30" x2="321.42" y2="443.85" stroke="#ea1616" stroke-width="1.87"/>
<line x1="318.70" y1="439.43" x2="321.20" y2="443.98" stroke="#ff5a5a" stroke-width="0.78"/>
<line x1="331.4" y1="471.1" x2="338.9" y2="469.0" stroke="#5e5e5e" stroke-width="3.5"/>
<line x1="331.28" y1="470.69" x2="338.83" y2="468.54" stroke="#858585" stroke-width="2.52"/>
<line x1="331.19" y1="470.36" x2="338.74" y2="468.21" stroke="#a8a8a8" stroke-width="1.05"/>
<line x1="338.9" y1="469.0" x2="346.5" y2="466.8" stroke="#b00808" stroke-width="3.5"/>
<line x1="338.83" y1="468.54" x2="346.38" y2="466.39" stroke="#ea1616" stroke-width="2.52"/>
<line x1="338.74" y1="468.21" x2="346.29" y2="466.06" stroke="#ff5a5a" stroke-width="1.05"/>
<line x1="331.4" y1="471.1" x2="329.3" y2="478.4" stroke="#5e5e5e" stroke-width="3.5"/>
<line x1="330.99" y1="470.98" x2="328.89" y2="478.28" stroke="#858585" stroke-width="2.52"/>
<line x1="330.66" y1="470.89" x2="328.56" y2="478.19" stroke="#a8a8a8" stroke-width="1.05"/>
<line x1="329.3" y1="478.4" x2="327.2" y2="485.7" stroke="#b00808" stroke-width="3.5"/>
<line x1="328.89" y1="478.28" x2="326.79" y2="485.58" stroke="#ea1616" stroke-width="2.52"/>
<line x1="328.56" y1="478.19" x2="326.46" y2="485.49" stroke="#ff5a5a" stroke-width="1.05"/>
<line x1="327.2" y1="485.7" x2="319.7" y2="489.6" stroke="#b00808" stroke-width="3.5"/>
<line x1="327.00" y1="485.32" x2="319.50" y2="489.22" stroke="#ea1616" stroke-width="2.52"/>
<line x1="326.84" y1="485.02" x2="319.34" y2="488.92" stroke="#ff5a5a" stroke-width="1.05"/>
<line x1="319.7" y1="489.6" x2="312.2" y2="493.5" stroke="#5e5e5e" stroke-width="3.5"/>
<line x1="319.50" y1="489.22" x2="312.00" y2="493.12" stroke="#858585" stroke-width="2.52"/>
<line x1="319.34" y1="488.92" x2="311.84" y2="492.82" stroke="#a8a8a8" stroke-width="1.05"/>
<line x1="312.2" y1="493.5" x2="311.2" y2="501.7" stroke="#5e5e5e" stroke-width="3.5"/>
<line x1="311.78" y1="493.45" x2="310.78" y2="501.65" stroke="#858585" stroke-width="2.52"/>
<line x1="311.44" y1="493.41" x2="310.44" y2="501.61" stroke="#a8a8a8" stroke-width="1.05"/>
<line x1="311.2" y1="501.7" x2="310.2" y2="509.9" stroke="#5e5e5e" stroke-width="3.5"/>
<line x1="310.78" y1="501.65" x2="309.78" y2="509.85" stroke="#858585" stroke-width="2.52"/>
<line x1="310.44" y1="501.61" x2="309.44" y2="509.81" stroke="#a8a8a8" stroke-width="1.05"/>
<line x1="310.2" y1="509.9" x2="315.4" y2="515.8" stroke="#5e5e5e" stroke-width="3.5"/>
<line x1="310.52" y1="509.62" x2="315.72" y2="515.47" stroke="#858585" stroke-width="2.52"/>
<line x1="310.78" y1="509.39" x2="315.98" y2="515.24" stroke="#a8a8a8" stroke-width="1.05"/>
<line x1="315.4" y1="515.8" x2="320.6" y2="521.6" stroke="#b00808" stroke-width="3.5"/>
<line x1="315.72" y1="515.47" x2="320.92" y2="521.32" stroke="#ea1616" stroke-width="2.52"/>
<line x1="315.98" y1="515.24" x2="321.18" y2="521.09" stroke="#ff5a5a" stroke-width="1.05"/>
<line x1="320.6" y1="521.6" x2="318.8" y2="522.8" stroke="#b00808" stroke-width="2.6"/>
<line x1="320.43" y1="521.34" x2="318.58" y2="522.54" stroke="#ea1616" stroke-width="1.87"/>
<line x1="320.29" y1="521.12" x2="318.44" y2="522.32" stroke="#ff5a5a" stroke-width="0.78"/>
<line x1="318.8" y1="522.8" x2="316.9" y2="524.0" stroke="#b8b8b8" stroke-width="2.6"/>
<line x1="318.58" y1="522.54" x2="316.73" y2="523.74" stroke="#ececec" stroke-width="1.87"/>
<line x1="318.44" y1="522.32" x2="316.59" y2="523.52" stroke="#ffffff" stroke-width="0.78"/>
</g>
<circle cx="44.8" cy="356.8" r="3.9" fill="url(#gC)"/>
<circle cx="43.8" cy="374.0" r="3.9" fill="url(#gC)"/>
<circle cx="24.6" cy="394.9" r="3.9" fill="url(#gC)"/>
<circle cx="34.6" cy="408.3" r="3.9" fill="url(#gC)"/>
<circle cx="53.2" cy="404.1" r="3.9" fill="url(#gC)"/>
<circle cx="56.4" cy="386.0" r="3.9" fill="url(#gC)"/>
<circle cx="87.0" cy="381.9" r="3.9" fill="url(#gC)"/>
<circle cx="100.4" cy="370.6" r="3.9" fill="url(#gC)"/>
<circle cx="117.1" cy="376.3" r="3.9" fill="url(#gC)"/>
<circle cx="120.1" cy="394.7" r="3.9" fill="url(#gC)"/>
<circle cx="105.7" cy="404.8" r="3.9" fill="url(#gC)"/>
<circle cx="105.7" cy="423.2" r="3.9" fill="url(#gC)"/>
<circle cx="171.0" cy="357.6" r="3.9" fill="url(#gC)"/>
<circle cx="169.0" cy="375.7" r="3.9" fill="url(#gC)"/>
<circle cx="148.5" cy="396.9" r="3.9" fill="url(#gC)"/>
<circle cx="161.4" cy="410.0" r="3.9" fill="url(#gC)"/>
<circle cx="183.4" cy="386.5" r="3.9" fill="url(#gC)"/>
<circle cx="178.4" cy="404.4" r="3.9" fill="url(#gC)"/>
<circle cx="212.2" cy="384.4" r="3.9" fill="url(#gC)"/>
<circle cx="224.4" cy="372.7" r="3.9" fill="url(#gC)"/>
<circle cx="242.8" cy="376.8" r="3.9" fill="url(#gC)"/>
<circle cx="245.6" cy="395.7" r="3.9" fill="url(#gC)"/>
<circle cx="232.7" cy="405.3" r="3.9" fill="url(#gC)"/>
<circle cx="234.4" cy="424.0" r="3.9" fill="url(#gC)"/>
<circle cx="275.4" cy="395.2" r="3.9" fill="url(#gC)"/>
<circle cx="294.6" cy="374.3" r="3.9" fill="url(#gC)"/>
<circle cx="297.1" cy="356.4" r="3.9" fill="url(#gC)"/>
<circle cx="308.8" cy="385.7" r="3.9" fill="url(#gC)"/>
<circle cx="304.7" cy="402.8" r="3.9" fill="url(#gC)"/>
<circle cx="287.9" cy="408.6" r="3.9" fill="url(#gC)"/>
<circle cx="71.1" cy="458.8" r="3.9" fill="url(#gC)"/>
<circle cx="52.7" cy="461.1" r="3.9" fill="url(#gC)"/>
<circle cx="81.6" cy="472.0" r="3.9" fill="url(#gC)"/>
<circle cx="58.5" cy="490.2" r="3.9" fill="url(#gC)"/>
<circle cx="48.5" cy="479.0" r="3.9" fill="url(#gC)"/>
<circle cx="55.2" cy="509.4" r="3.9" fill="url(#gC)"/>
<circle cx="109.6" cy="479.1" r="3.9" fill="url(#gC)"/>
<circle cx="124.6" cy="468.6" r="3.9" fill="url(#gC)"/>
<circle cx="124.6" cy="451.9" r="3.9" fill="url(#gC)"/>
<circle cx="143.0" cy="489.8" r="3.9" fill="url(#gC)"/>
<circle cx="130.1" cy="503.2" r="3.9" fill="url(#gC)"/>
<circle cx="113.4" cy="496.9" r="3.9" fill="url(#gC)"/>
<circle cx="175.3" cy="471.1" r="3.9" fill="url(#gC)"/>
<circle cx="192.2" cy="464.8" r="3.9" fill="url(#gC)"/>
<circle cx="205.5" cy="477.0" r="3.9" fill="url(#gC)"/>
<circle cx="186.7" cy="499.4" r="3.9" fill="url(#gC)"/>
<circle cx="173.6" cy="488.9" r="3.9" fill="url(#gC)"/>
<circle cx="185.4" cy="517.3" r="3.9" fill="url(#gC)"/>
<circle cx="234.4" cy="479.1" r="3.9" fill="url(#gC)"/>
<circle cx="247.3" cy="466.6" r="3.9" fill="url(#gC)"/>
<circle cx="268.7" cy="486.0" r="3.9" fill="url(#gC)"/>
<circle cx="257.8" cy="500.2" r="3.9" fill="url(#gC)"/>
<circle cx="238.6" cy="496.9" r="3.9" fill="url(#gC)"/>
<circle cx="246.6" cy="451.4" r="3.9" fill="url(#gC)"/>
<circle cx="298.0" cy="481.8" r="3.9" fill="url(#gC)"/>
<circle cx="300.5" cy="464.8" r="3.9" fill="url(#gC)"/>
<circle cx="318.0" cy="457.8" r="3.9" fill="url(#gC)"/>
<circle cx="331.4" cy="471.1" r="3.9" fill="url(#gC)"/>
<circle cx="312.2" cy="493.5" r="3.9" fill="url(#gC)"/>
<circle cx="310.2" cy="509.9" r="3.9" fill="url(#gC)"/>
<circle cx="41.0" cy="343.7" r="4.1" fill="url(#gO)"/>
<circle cx="27.6" cy="379.7" r="4.1" fill="url(#gO)"/>
<circle cx="7.9" cy="398.2" r="4.1" fill="url(#gO)"/>
<circle cx="71.9" cy="381.0" r="4.1" fill="url(#gO)"/>
<circle cx="61.4" cy="415.3" r="4.1" fill="url(#gO)"/>
<circle cx="31.8" cy="423.7" r="4.1" fill="url(#gO)"/>
<circle cx="97.5" cy="354.8" r="4.1" fill="url(#gO)"/>
<circle cx="128.8" cy="365.1" r="4.1" fill="url(#gO)"/>
<circle cx="91.2" cy="398.9" r="4.1" fill="url(#gO)"/>
<circle cx="97.5" cy="432.4" r="4.1" fill="url(#gO)"/>
<circle cx="114.6" cy="427.5" r="4.1" fill="url(#gO)"/>
<circle cx="133.5" cy="399.4" r="4.1" fill="url(#gO)"/>
<circle cx="158.9" cy="347.6" r="4.1" fill="url(#gO)"/>
<circle cx="153.9" cy="380.7" r="4.1" fill="url(#gO)"/>
<circle cx="157.2" cy="425.0" r="4.1" fill="url(#gO)"/>
<circle cx="188.7" cy="416.1" r="4.1" fill="url(#gO)"/>
<circle cx="197.6" cy="381.9" r="4.1" fill="url(#gO)"/>
<circle cx="221.0" cy="356.3" r="4.1" fill="url(#gO)"/>
<circle cx="252.0" cy="366.5" r="4.1" fill="url(#gO)"/>
<circle cx="217.3" cy="401.1" r="4.1" fill="url(#gO)"/>
<circle cx="234.4" cy="432.4" r="4.1" fill="url(#gO)"/>
<circle cx="258.7" cy="399.4" r="4.1" fill="url(#gO)"/>
<circle cx="280.7" cy="380.2" r="4.1" fill="url(#gO)"/>
<circle cx="287.1" cy="349.2" r="4.1" fill="url(#gO)"/>
<circle cx="323.9" cy="381.0" r="4.1" fill="url(#gO)"/>
<circle cx="316.0" cy="414.5" r="4.1" fill="url(#gO)"/>
<circle cx="283.4" cy="420.0" r="4.1" fill="url(#gO)"/>
<circle cx="77.5" cy="443.8" r="4.1" fill="url(#gO)"/>
<circle cx="43.8" cy="449.7" r="4.1" fill="url(#gO)"/>
<circle cx="97.5" cy="470.9" r="4.1" fill="url(#gO)"/>
<circle cx="75.6" cy="488.0" r="4.1" fill="url(#gO)"/>
<circle cx="31.4" cy="479.9" r="4.1" fill="url(#gO)"/>
<circle cx="66.4" cy="518.1" r="4.1" fill="url(#gO)"/>
<circle cx="137.0" cy="442.3" r="4.1" fill="url(#gO)"/>
<circle cx="139.7" cy="475.8" r="4.1" fill="url(#gO)"/>
<circle cx="102.0" cy="508.2" r="4.1" fill="url(#gO)"/>
<circle cx="133.3" cy="518.3" r="4.1" fill="url(#gO)"/>
<circle cx="158.1" cy="496.5" r="4.1" fill="url(#gO)"/>
<circle cx="163.9" cy="460.1" r="4.1" fill="url(#gO)"/>
<circle cx="194.8" cy="449.4" r="4.1" fill="url(#gO)"/>
<circle cx="202.6" cy="493.2" r="4.1" fill="url(#gO)"/>
<circle cx="195.5" cy="525.0" r="4.1" fill="url(#gO)"/>
<circle cx="220.7" cy="472.8" r="4.1" fill="url(#gO)"/>
<circle cx="262.8" cy="471.6" r="4.1" fill="url(#gO)"/>
<circle cx="236.9" cy="451.9" r="4.1" fill="url(#gO)"/>
<circle cx="256.1" cy="439.8" r="4.1" fill="url(#gO)"/>
<circle cx="229.4" cy="508.6" r="4.1" fill="url(#gO)"/>
<circle cx="262.0" cy="514.4" r="4.1" fill="url(#gO)"/>
<circle cx="284.3" cy="489.8" r="4.1" fill="url(#gO)"/>
<circle cx="289.3" cy="452.7" r="4.1" fill="url(#gO)"/>
<circle cx="321.7" cy="443.7" r="4.1" fill="url(#gO)"/>
<circle cx="346.5" cy="466.8" r="4.1" fill="url(#gO)"/>
<circle cx="327.2" cy="485.7" r="4.1" fill="url(#gO)"/>
<circle cx="320.6" cy="521.6" r="4.1" fill="url(#gO)"/>
<circle cx="177.3" cy="436.4" r="5.2" fill="url(#gCu)"/>
<circle cx="99.5" cy="447.6" r="5.4" fill="url(#gLi)"/>
<circle cx="251.5" cy="435.7" r="5.4" fill="url(#gLi)"/>
<circle cx="83.1" cy="505.7" r="5.4" fill="url(#gLi)"/>
<circle cx="49.8" cy="343.9" r="3.9" fill="url(#gH)"/>
<circle cx="3.7" cy="396.1" r="3.9" fill="url(#gH)"/>
<circle cx="72.4" cy="412.0" r="3.9" fill="url(#gH)"/>
<circle cx="37.6" cy="431.7" r="3.9" fill="url(#gH)"/>
<circle cx="107.6" cy="348.4" r="3.9" fill="url(#gH)"/>
<circle cx="138.8" cy="366.8" r="3.9" fill="url(#gH)"/>
<circle cx="160.3" cy="350.4" r="3.9" fill="url(#gH)"/>
<circle cx="200.1" cy="414.5" r="3.9" fill="url(#gH)"/>
<circle cx="229.4" cy="349.2" r="3.9" fill="url(#gH)"/>
<circle cx="262.5" cy="365.1" r="3.9" fill="url(#gH)"/>
<circle cx="244.4" cy="429.5" r="3.9" fill="url(#gH)"/>
<circle cx="281.7" cy="345.9" r="3.9" fill="url(#gH)"/>
<circle cx="328.1" cy="371.0" r="3.9" fill="url(#gH)"/>
<circle cx="326.9" cy="411.1" r="3.9" fill="url(#gH)"/>
<circle cx="284.6" cy="430.9" r="3.9" fill="url(#gH)"/>
<circle cx="69.4" cy="435.1" r="3.9" fill="url(#gH)"/>
<circle cx="32.6" cy="453.9" r="3.9" fill="url(#gH)"/>
<circle cx="26.8" cy="490.2" r="3.9" fill="url(#gH)"/>
<circle cx="134.3" cy="437.1" r="3.9" fill="url(#gH)"/>
<circle cx="104.9" cy="518.6" r="3.9" fill="url(#gH)"/>
<circle cx="143.5" cy="522.0" r="3.9" fill="url(#gH)"/>
<circle cx="154.7" cy="457.8" r="3.9" fill="url(#gH)"/>
<circle cx="200.1" cy="527.0" r="3.9" fill="url(#gH)"/>
<circle cx="219.3" cy="507.7" r="3.9" fill="url(#gH)"/>
<circle cx="253.1" cy="522.5" r="3.9" fill="url(#gH)"/>
<circle cx="278.4" cy="456.4" r="3.9" fill="url(#gH)"/>
<circle cx="316.7" cy="434.6" r="3.9" fill="url(#gH)"/>
<circle cx="316.9" cy="524.0" r="3.9" fill="url(#gH)"/>
<g stroke-linecap="round">
<line x1="74.4" y1="340.4" x2="71.9" y2="349.0" stroke="#b4b4b4" stroke-width="3.3"/>
<line x1="74.1" y1="340.1" x2="71.6" y2="348.7" stroke="#f6f6f6" stroke-width="2.1"/>
<line x1="76.1" y1="357.6" x2="71.9" y2="349.0" stroke="#b4b4b4" stroke-width="3.3"/>
<line x1="75.8" y1="357.3" x2="71.6" y2="348.7" stroke="#f6f6f6" stroke-width="2.1"/>
</g><g stroke-linecap="butt">
<line x1="71.9" y1="349.0" x2="73.2" y2="344.7" stroke="#b00808" stroke-width="3.3"/>
<line x1="71.52" y1="348.89" x2="72.77" y2="344.59" stroke="#ea1616" stroke-width="2.38"/>
<line x1="71.20" y1="348.80" x2="72.45" y2="344.50" stroke="#ff5a5a" stroke-width="0.99"/>
<line x1="71.9" y1="349.0" x2="74.0" y2="353.3" stroke="#b00808" stroke-width="3.3"/>
<line x1="71.54" y1="349.18" x2="73.64" y2="353.48" stroke="#ea1616" stroke-width="2.38"/>
<line x1="71.25" y1="349.32" x2="73.35" y2="353.62" stroke="#ff5a5a" stroke-width="0.99"/>
</g>
<circle cx="71.9" cy="349.0" r="1.65" fill="#e61414"/>
<g stroke-linecap="round">
<line x1="141.4" y1="415.0" x2="132.7" y2="417.8" stroke="#b4b4b4" stroke-width="3.3"/>
<line x1="141.1" y1="414.7" x2="132.4" y2="417.5" stroke="#f6f6f6" stroke-width="2.1"/>
<line x1="133.8" y1="425.4" x2="132.7" y2="417.8" stroke="#b4b4b4" stroke-width="3.3"/>
<line x1="133.5" y1="425.1" x2="132.4" y2="417.5" stroke="#f6f6f6" stroke-width="2.1"/>
</g><g stroke-linecap="butt">
<line x1="132.7" y1="417.8" x2="137.1" y2="416.4" stroke="#b00808" stroke-width="3.3"/>
<line x1="132.58" y1="417.42" x2="136.93" y2="416.02" stroke="#ea1616" stroke-width="2.38"/>
<line x1="132.48" y1="417.11" x2="136.83" y2="415.71" stroke="#ff5a5a" stroke-width="0.99"/>
<line x1="132.7" y1="417.8" x2="133.2" y2="421.6" stroke="#b00808" stroke-width="3.3"/>
<line x1="132.30" y1="417.86" x2="132.85" y2="421.66" stroke="#ea1616" stroke-width="2.38"/>
<line x1="131.98" y1="417.90" x2="132.53" y2="421.70" stroke="#ff5a5a" stroke-width="0.99"/>
</g>
<circle cx="132.7" cy="417.8" r="1.65" fill="#e61414"/>
<g stroke-linecap="round">
<line x1="106.6" y1="448.8" x2="107.9" y2="456.0" stroke="#b4b4b4" stroke-width="3.3"/>
<line x1="106.3" y1="448.5" x2="107.6" y2="455.7" stroke="#f6f6f6" stroke-width="2.1"/>
<line x1="108.7" y1="465.5" x2="107.9" y2="456.0" stroke="#b4b4b4" stroke-width="3.3"/>
<line x1="108.4" y1="465.2" x2="107.6" y2="455.7" stroke="#f6f6f6" stroke-width="2.1"/>
</g><g stroke-linecap="butt">
<line x1="107.9" y1="456.0" x2="107.2" y2="452.4" stroke="#b00808" stroke-width="3.3"/>
<line x1="107.51" y1="456.07" x2="106.86" y2="452.47" stroke="#ea1616" stroke-width="2.38"/>
<line x1="107.19" y1="456.13" x2="106.54" y2="452.53" stroke="#ff5a5a" stroke-width="0.99"/>
<line x1="107.9" y1="456.0" x2="108.3" y2="460.8" stroke="#b00808" stroke-width="3.3"/>
<line x1="107.50" y1="456.03" x2="107.90" y2="460.78" stroke="#ea1616" stroke-width="2.38"/>
<line x1="107.18" y1="456.06" x2="107.58" y2="460.81" stroke="#ff5a5a" stroke-width="0.99"/>
</g>
<circle cx="107.9" cy="456.0" r="1.65" fill="#e61414"/>
<g stroke-linecap="round">
<line x1="260.3" y1="396.9" x2="264.5" y2="402.8" stroke="#b4b4b4" stroke-width="3.3"/>
<line x1="260.0" y1="396.6" x2="264.2" y2="402.5" stroke="#f6f6f6" stroke-width="2.1"/>
<line x1="269.5" y1="410.0" x2="264.5" y2="402.8" stroke="#b4b4b4" stroke-width="3.3"/>
<line x1="269.2" y1="409.7" x2="264.2" y2="402.5" stroke="#f6f6f6" stroke-width="2.1"/>
</g><g stroke-linecap="butt">
<line x1="264.5" y1="402.8" x2="262.4" y2="399.9" stroke="#b00808" stroke-width="3.3"/>
<line x1="264.17" y1="403.03" x2="262.07" y2="400.08" stroke="#ea1616" stroke-width="2.38"/>
<line x1="263.91" y1="403.22" x2="261.81" y2="400.27" stroke="#ff5a5a" stroke-width="0.99"/>
<line x1="264.5" y1="402.8" x2="267.0" y2="406.4" stroke="#b00808" stroke-width="3.3"/>
<line x1="264.17" y1="403.03" x2="266.67" y2="406.63" stroke="#ea1616" stroke-width="2.38"/>
<line x1="263.90" y1="403.21" x2="266.40" y2="406.81" stroke="#ff5a5a" stroke-width="0.99"/>
</g>
<circle cx="264.5" cy="402.8" r="1.65" fill="#e61414"/>
<g stroke-linecap="round">
<line x1="274.9" y1="425.7" x2="273.7" y2="434.9" stroke="#b4b4b4" stroke-width="3.3"/>
<line x1="274.6" y1="425.4" x2="273.4" y2="434.6" stroke="#f6f6f6" stroke-width="2.1"/>
<line x1="279.6" y1="437.1" x2="273.7" y2="434.9" stroke="#b4b4b4" stroke-width="3.3"/>
<line x1="279.3" y1="436.8" x2="273.4" y2="434.6" stroke="#f6f6f6" stroke-width="2.1"/>
</g><g stroke-linecap="butt">
<line x1="273.7" y1="434.9" x2="274.3" y2="430.3" stroke="#b00808" stroke-width="3.3"/>
<line x1="273.30" y1="434.85" x2="273.90" y2="430.25" stroke="#ea1616" stroke-width="2.38"/>
<line x1="272.98" y1="434.81" x2="273.58" y2="430.21" stroke="#ff5a5a" stroke-width="0.99"/>
<line x1="273.7" y1="434.9" x2="276.6" y2="436.0" stroke="#b00808" stroke-width="3.3"/>
<line x1="273.84" y1="434.53" x2="276.79" y2="435.63" stroke="#ea1616" stroke-width="2.38"/>
<line x1="273.95" y1="434.22" x2="276.90" y2="435.32" stroke="#ff5a5a" stroke-width="0.99"/>
</g>
<circle cx="273.7" cy="434.9" r="1.65" fill="#e61414"/>
<g stroke-linecap="round">
<line x1="99.5" y1="502.7" x2="89.5" y2="502.7" stroke="#b4b4b4" stroke-width="3.3"/>
<line x1="99.2" y1="502.4" x2="89.2" y2="502.4" stroke="#f6f6f6" stroke-width="2.1"/>
<line x1="83.6" y1="508.6" x2="89.5" y2="502.7" stroke="#b4b4b4" stroke-width="3.3"/>
<line x1="83.3" y1="508.3" x2="89.2" y2="502.4" stroke="#f6f6f6" stroke-width="2.1"/>
</g><g stroke-linecap="butt">
<line x1="89.5" y1="502.7" x2="94.5" y2="502.7" stroke="#b00808" stroke-width="3.3"/>
<line x1="89.50" y1="502.30" x2="94.50" y2="502.30" stroke="#ea1616" stroke-width="2.38"/>
<line x1="89.50" y1="501.97" x2="94.50" y2="501.97" stroke="#ff5a5a" stroke-width="0.99"/>
<line x1="89.5" y1="502.7" x2="86.5" y2="505.6" stroke="#b00808" stroke-width="3.3"/>
<line x1="89.22" y1="502.42" x2="86.27" y2="505.37" stroke="#ea1616" stroke-width="2.38"/>
<line x1="88.99" y1="502.19" x2="86.04" y2="505.14" stroke="#ff5a5a" stroke-width="0.99"/>
</g>
<circle cx="89.5" cy="502.7" r="1.65" fill="#e61414"/>
<g stroke-linecap="round">
<line x1="148.0" y1="511.9" x2="153.1" y2="520.0" stroke="#b4b4b4" stroke-width="3.3"/>
<line x1="147.7" y1="511.6" x2="152.8" y2="519.7" stroke="#f6f6f6" stroke-width="2.1"/>
<line x1="148.0" y1="527.8" x2="153.1" y2="520.0" stroke="#b4b4b4" stroke-width="3.3"/>
<line x1="147.7" y1="527.5" x2="152.8" y2="519.7" stroke="#f6f6f6" stroke-width="2.1"/>
</g><g stroke-linecap="butt">
<line x1="153.1" y1="520.0" x2="150.6" y2="516.0" stroke="#b00808" stroke-width="3.3"/>
<line x1="152.76" y1="520.21" x2="150.21" y2="516.16" stroke="#ea1616" stroke-width="2.38"/>
<line x1="152.49" y1="520.39" x2="149.94" y2="516.34" stroke="#ff5a5a" stroke-width="0.99"/>
<line x1="153.1" y1="520.0" x2="150.6" y2="523.9" stroke="#b00808" stroke-width="3.3"/>
<line x1="152.77" y1="519.78" x2="150.22" y2="523.68" stroke="#ea1616" stroke-width="2.38"/>
<line x1="152.49" y1="519.60" x2="149.94" y2="523.50" stroke="#ff5a5a" stroke-width="0.99"/>
</g>
<circle cx="153.1" cy="520.0" r="1.65" fill="#e61414"/>
<g stroke-linecap="round">
<line x1="214.3" y1="501.9" x2="217.7" y2="512.3" stroke="#b4b4b4" stroke-width="3.3"/>
<line x1="214.0" y1="501.6" x2="217.4" y2="512.0" stroke="#f6f6f6" stroke-width="2.1"/>
<line x1="214.3" y1="518.6" x2="217.7" y2="512.3" stroke="#b4b4b4" stroke-width="3.3"/>
<line x1="214.0" y1="518.3" x2="217.4" y2="512.0" stroke="#f6f6f6" stroke-width="2.1"/>
</g><g stroke-linecap="butt">
<line x1="217.7" y1="512.3" x2="216.0" y2="507.1" stroke="#b00808" stroke-width="3.3"/>
<line x1="217.32" y1="512.42" x2="215.62" y2="507.22" stroke="#ea1616" stroke-width="2.38"/>
<line x1="217.01" y1="512.53" x2="215.31" y2="507.33" stroke="#ff5a5a" stroke-width="0.99"/>
<line x1="217.7" y1="512.3" x2="216.0" y2="515.5" stroke="#b00808" stroke-width="3.3"/>
<line x1="217.35" y1="512.11" x2="215.65" y2="515.26" stroke="#ea1616" stroke-width="2.38"/>
<line x1="217.06" y1="511.96" x2="215.36" y2="515.11" stroke="#ff5a5a" stroke-width="0.99"/>
</g>
<circle cx="217.7" cy="512.3" r="1.65" fill="#e61414"/>
<g stroke-linecap="round">
<line x1="214.3" y1="518.6" x2="203.0" y2="521.3" stroke="#b4b4b4" stroke-width="3.3"/>
<line x1="214.0" y1="518.3" x2="202.7" y2="521.0" stroke="#f6f6f6" stroke-width="2.1"/>
<line x1="198.0" y1="524.5" x2="203.0" y2="521.3" stroke="#b4b4b4" stroke-width="3.3"/>
<line x1="197.7" y1="524.2" x2="202.7" y2="521.0" stroke="#f6f6f6" stroke-width="2.1"/>
</g><g stroke-linecap="butt">
<line x1="203.0" y1="521.3" x2="208.7" y2="520.0" stroke="#b00808" stroke-width="3.3"/>
<line x1="202.91" y1="520.91" x2="208.56" y2="519.56" stroke="#ea1616" stroke-width="2.38"/>
<line x1="202.83" y1="520.59" x2="208.48" y2="519.24" stroke="#ff5a5a" stroke-width="0.99"/>
<line x1="203.0" y1="521.3" x2="200.5" y2="522.9" stroke="#b00808" stroke-width="3.3"/>
<line x1="202.78" y1="520.96" x2="200.28" y2="522.56" stroke="#ea1616" stroke-width="2.38"/>
<line x1="202.61" y1="520.69" x2="200.11" y2="522.29" stroke="#ff5a5a" stroke-width="0.99"/>
</g>
<circle cx="203.0" cy="521.3" r="1.65" fill="#e61414"/>
<line x1="66.60" y1="529.65" x2="66.60" y2="550.20" stroke="#111" stroke-width="1.7" stroke-linecap="butt" stroke-dasharray="5.4 2.35"/>
<path d="M66.60,527.00 L70.90,536.40 L66.60,533.80 L62.30,536.40 Z" fill="#000" stroke="none" stroke-width="1" stroke-linejoin="round" stroke-linecap="round"/>
<line x1="154.70" y1="529.65" x2="154.70" y2="550.20" stroke="#111" stroke-width="1.7" stroke-linecap="butt" stroke-dasharray="5.4 2.35"/>
<path d="M154.70,527.00 L159.00,536.40 L154.70,533.80 L150.40,536.40 Z" fill="#000" stroke="none" stroke-width="1" stroke-linejoin="round" stroke-linecap="round"/>
<line x1="237.70" y1="462.75" x2="237.70" y2="550.20" stroke="#111" stroke-width="1.7" stroke-linecap="butt" stroke-dasharray="5.4 2.35"/>
<path d="M237.70,460.10 L242.00,469.50 L237.70,466.90 L233.40,469.50 Z" fill="#000" stroke="none" stroke-width="1" stroke-linejoin="round" stroke-linecap="round"/>
<line x1="284.30" y1="499.55" x2="284.30" y2="550.20" stroke="#111" stroke-width="1.7" stroke-linecap="butt" stroke-dasharray="5.4 2.35"/>
<path d="M284.30,496.90 L288.60,506.30 L284.30,503.70 L280.00,506.30 Z" fill="#000" stroke="none" stroke-width="1" stroke-linejoin="round" stroke-linecap="round"/>
<line x1="324.20" y1="529.35" x2="324.20" y2="550.20" stroke="#111" stroke-width="1.7" stroke-linecap="butt" stroke-dasharray="5.4 2.35"/>
<path d="M324.20,526.70 L328.50,536.10 L324.20,533.50 L319.90,536.10 Z" fill="#000" stroke="none" stroke-width="1" stroke-linejoin="round" stroke-linecap="round"/>
<text transform="translate(55.15 570.50) scale(0.955 1)" font-size="15.39" fill="#231f20" stroke="#231f20" stroke-width="0.16" paint-order="stroke"><tspan>RO</tspan></text>
<text transform="translate(142.27 570.50) scale(0.955 1)" font-size="15.39" fill="#231f20" stroke="#231f20" stroke-width="0.16" paint-order="stroke"><tspan>H</tspan><tspan dy="4.62" font-size="11.54">2</tspan><tspan dy="-4.62">O</tspan></text>
<text transform="translate(220.34 568.30) scale(0.955 1)" font-size="15.39" fill="#231f20" stroke="#231f20" stroke-width="0.16" paint-order="stroke"><tspan>COO</tspan></text>
<text transform="translate(272.46 568.30) scale(0.955 1)" font-size="15.39" fill="#231f20" stroke="#231f20" stroke-width="0.16" paint-order="stroke"><tspan>EO</tspan></text>
<text transform="translate(308.85 568.30) scale(0.955 1)" font-size="15.39" fill="#231f20" stroke="#231f20" stroke-width="0.16" paint-order="stroke"><tspan>ROH</tspan></text>
<text transform="translate(373.12 332.75) scale(1.02 1)" font-size="16.27" fill="#000" font-weight="bold" stroke="#000" stroke-width="0.55" paint-order="stroke"><tspan>e</tspan></text>
<rect x="434.80" y="361.70" width="53.20" height="55.20" fill="#0000e0" stroke="none" stroke-width="1"/>
<rect x="488.00" y="361.70" width="28.90" height="55.20" fill="#3333ff" stroke="none" stroke-width="1"/>
<rect x="516.90" y="361.70" width="23.10" height="55.20" fill="#6666ff" stroke="none" stroke-width="1"/>
<rect x="540.00" y="361.70" width="68.30" height="55.20" fill="#a0a0ff" stroke="none" stroke-width="1"/>
<rect x="608.30" y="361.70" width="53.30" height="55.20" fill="#e0e0ff" stroke="none" stroke-width="1"/>
<rect x="540.00" y="361.70" width="121.60" height="55.20" fill="none" stroke="#8a8aff" stroke-width="0.7"/>
<line x1="608.30" y1="361.70" x2="608.30" y2="416.90" stroke="#8a8aff" stroke-width="0.8" stroke-linecap="butt"/>
<rect x="434.80" y="471.40" width="39.50" height="54.20" fill="#231f20" stroke="none" stroke-width="1"/>
<rect x="474.30" y="471.40" width="25.70" height="54.20" fill="#58595b" stroke="none" stroke-width="1"/>
<rect x="500.00" y="471.40" width="23.90" height="54.20" fill="#808080" stroke="none" stroke-width="1"/>
<rect x="523.90" y="471.40" width="55.70" height="54.20" fill="#bdbdbd" stroke="none" stroke-width="1"/>
<rect x="579.60" y="471.40" width="18.90" height="54.20" fill="#d9d9d9" stroke="none" stroke-width="1"/>
<rect x="523.90" y="471.40" width="74.60" height="54.20" fill="none" stroke="#b0b0b0" stroke-width="0.6"/>
<line x1="579.60" y1="471.40" x2="579.60" y2="525.60" stroke="#a8a8a8" stroke-width="0.8" stroke-linecap="butt"/>
<rect x="434.60" y="334.45" width="271.00" height="219.00" fill="none" stroke="#111" stroke-width="1.15" rx="0.8"/>
<line x1="434.60" y1="553.45" x2="434.60" y2="557.45" stroke="#111" stroke-width="1.1" stroke-linecap="butt"/>
<text transform="translate(430.92 573.70) scale(0.955 1)" font-size="15.39" fill="#231f20" stroke="#231f20" stroke-width="0.16" paint-order="stroke"><tspan>0</tspan></text>
<line x1="488.80" y1="553.45" x2="488.80" y2="557.45" stroke="#111" stroke-width="1.1" stroke-linecap="butt"/>
<text transform="translate(484.90 573.70) scale(0.955 1)" font-size="15.39" fill="#231f20" stroke="#231f20" stroke-width="0.16" paint-order="stroke"><tspan>1</tspan></text>
<line x1="543.00" y1="553.45" x2="543.00" y2="557.45" stroke="#111" stroke-width="1.1" stroke-linecap="butt"/>
<text transform="translate(539.28 573.70) scale(0.955 1)" font-size="15.39" fill="#231f20" stroke="#231f20" stroke-width="0.16" paint-order="stroke"><tspan>2</tspan></text>
<line x1="597.20" y1="553.45" x2="597.20" y2="557.45" stroke="#111" stroke-width="1.1" stroke-linecap="butt"/>
<text transform="translate(593.56 573.70) scale(0.955 1)" font-size="15.39" fill="#231f20" stroke="#231f20" stroke-width="0.16" paint-order="stroke"><tspan>3</tspan></text>
<line x1="651.40" y1="553.45" x2="651.40" y2="557.45" stroke="#111" stroke-width="1.1" stroke-linecap="butt"/>
<text transform="translate(647.76 573.70) scale(0.955 1)" font-size="15.39" fill="#231f20" stroke="#231f20" stroke-width="0.16" paint-order="stroke"><tspan>4</tspan></text>
<line x1="705.60" y1="553.45" x2="705.60" y2="557.45" stroke="#111" stroke-width="1.1" stroke-linecap="butt"/>
<text transform="translate(701.92 573.70) scale(0.955 1)" font-size="15.39" fill="#231f20" stroke="#231f20" stroke-width="0.16" paint-order="stroke"><tspan>5</tspan></text>
<line x1="461.70" y1="553.45" x2="461.70" y2="555.75" stroke="#111" stroke-width="0.9" stroke-linecap="butt"/>
<line x1="515.90" y1="553.45" x2="515.90" y2="555.75" stroke="#111" stroke-width="0.9" stroke-linecap="butt"/>
<line x1="570.10" y1="553.45" x2="570.10" y2="555.75" stroke="#111" stroke-width="0.9" stroke-linecap="butt"/>
<line x1="624.30" y1="553.45" x2="624.30" y2="555.75" stroke="#111" stroke-width="0.9" stroke-linecap="butt"/>
<line x1="678.50" y1="553.45" x2="678.50" y2="555.75" stroke="#111" stroke-width="0.9" stroke-linecap="butt"/>
<line x1="427.00" y1="389.50" x2="434.60" y2="389.50" stroke="#111" stroke-width="1.1" stroke-linecap="butt"/>
<line x1="427.00" y1="498.50" x2="434.60" y2="498.50" stroke="#111" stroke-width="1.1" stroke-linecap="butt"/>
<text transform="translate(347.31 395.60) scale(0.955 1)" font-size="15.39" fill="#231f20" stroke="#231f20" stroke-width="0.16" paint-order="stroke"><tspan>Li–Cu–CNF</tspan></text>
<text transform="translate(374.28 503.00) scale(0.955 1)" font-size="15.39" fill="#231f20" stroke="#231f20" stroke-width="0.16" paint-order="stroke"><tspan>Li–CNF</tspan></text>
<text transform="translate(666.01 393.30) scale(0.955 1)" font-size="15.39" fill="#231f20" stroke="#231f20" stroke-width="0.16" paint-order="stroke"><tspan>4.2</tspan></text>
<text transform="translate(602.19 503.60) scale(0.955 1)" font-size="15.39" fill="#231f20" stroke="#231f20" stroke-width="0.16" paint-order="stroke"><tspan>3.0</tspan></text>
<text transform="translate(445.16 432.60) scale(0.955 1)" font-size="12.98" fill="#231f20" stroke="#231f20" stroke-width="0.16" paint-order="stroke"><tspan>COO</tspan></text>
<text transform="translate(493.41 432.60) scale(0.955 1)" font-size="12.98" fill="#231f20" stroke="#231f20" stroke-width="0.16" paint-order="stroke"><tspan>RO</tspan></text>
<text transform="translate(519.25 432.60) scale(0.955 1)" font-size="12.98" fill="#231f20" stroke="#231f20" stroke-width="0.16" paint-order="stroke"><tspan>EO</tspan></text>
<text transform="translate(562.41 432.60) scale(0.955 1)" font-size="12.98" fill="#231f20" stroke="#231f20" stroke-width="0.16" paint-order="stroke"><tspan>ROH</tspan></text>
<text transform="translate(626.21 432.60) scale(0.955 1)" font-size="12.98" fill="#231f20" stroke="#231f20" stroke-width="0.16" paint-order="stroke"><tspan>H</tspan><tspan dy="3.90" font-size="9.74">2</tspan><tspan dy="-3.90">O</tspan></text>
<text transform="translate(438.26 541.20) scale(0.955 1)" font-size="12.98" fill="#231f20" stroke="#231f20" stroke-width="0.16" paint-order="stroke"><tspan>COO</tspan></text>
<text transform="translate(477.01 541.20) scale(0.955 1)" font-size="12.98" fill="#231f20" stroke="#231f20" stroke-width="0.16" paint-order="stroke"><tspan>RO</tspan></text>
<text transform="translate(501.66 541.20) scale(0.955 1)" font-size="12.98" fill="#231f20" stroke="#231f20" stroke-width="0.16" paint-order="stroke"><tspan>EO</tspan></text>
<text transform="translate(534.91 541.20) scale(0.955 1)" font-size="12.98" fill="#231f20" stroke="#231f20" stroke-width="0.16" paint-order="stroke"><tspan>ROH</tspan></text>
<text transform="translate(576.61 541.20) scale(0.955 1)" font-size="12.98" fill="#231f20" stroke="#231f20" stroke-width="0.16" paint-order="stroke"><tspan>H</tspan><tspan dy="3.90" font-size="9.74">2</tspan><tspan dy="-3.90">O</tspan></text>
<text transform="translate(484.81 598.30) scale(0.955 1)" font-size="15.53" fill="#231f20" stroke="#231f20" stroke-width="0.16" paint-order="stroke"><tspan>Li–O coordination number</tspan></text>
<text transform="translate(736.75 332.75) scale(1.02 1)" font-size="16.27" fill="#000" font-weight="bold" stroke="#000" stroke-width="0.55" paint-order="stroke"><tspan>f</tspan></text>
<rect x="805.00" y="543.81" width="36.30" height="9.69" fill="#4c5cff" stroke="none" stroke-width="1"/>
<rect x="841.30" y="417.27" width="35.90" height="136.23" fill="#339896" stroke="none" stroke-width="1"/>
<rect x="895.10" y="533.99" width="36.30" height="19.51" fill="#4c5cff" stroke="none" stroke-width="1"/>
<rect x="931.40" y="369.77" width="36.30" height="183.73" fill="#339896" stroke="none" stroke-width="1"/>
<rect x="985.80" y="547.46" width="35.80" height="6.04" fill="#4c5cff" stroke="none" stroke-width="1"/>
<rect x="1021.60" y="414.76" width="36.10" height="138.74" fill="#339896" stroke="none" stroke-width="1"/>
<rect x="803.60" y="343.00" width="22.60" height="15.20" fill="#4c5cff" stroke="none" stroke-width="1"/>
<rect x="803.60" y="362.20" width="22.60" height="15.50" fill="#339896" stroke="none" stroke-width="1"/>
<text transform="translate(830.35 355.40) scale(0.955 1)" font-size="15.09" fill="#231f20" stroke="#231f20" stroke-width="0.16" paint-order="stroke"><tspan>Pristine Li–Cu–CNF</tspan></text>
<text transform="translate(830.75 374.90) scale(0.955 1)" font-size="15.38" fill="#231f20" stroke="#231f20" stroke-width="0.16" paint-order="stroke"><tspan dy="-4.92" font-size="11.54">6</tspan><tspan dy="4.92">Li exchanged</tspan></text>
<rect x="796.00" y="334.45" width="271.05" height="219.05" fill="none" stroke="#2e2e2e" stroke-width="1.4" rx="0.8"/>
<line x1="791.60" y1="553.40" x2="796.00" y2="553.40" stroke="#262626" stroke-width="1.2" stroke-linecap="butt"/>
<text transform="translate(781.16 558.30) scale(0.955 1)" font-size="15.39" fill="#231f20" stroke="#231f20" stroke-width="0.16" paint-order="stroke"><tspan>0</tspan></text>
<line x1="791.60" y1="507.72" x2="796.00" y2="507.72" stroke="#262626" stroke-width="1.2" stroke-linecap="butt"/>
<text transform="translate(764.84 512.32) scale(0.955 1)" font-size="15.39" fill="#231f20" stroke="#231f20" stroke-width="0.16" paint-order="stroke"><tspan>100</tspan></text>
<line x1="791.60" y1="462.04" x2="796.00" y2="462.04" stroke="#262626" stroke-width="1.2" stroke-linecap="butt"/>
<text transform="translate(764.84 466.64) scale(0.955 1)" font-size="15.39" fill="#231f20" stroke="#231f20" stroke-width="0.16" paint-order="stroke"><tspan>200</tspan></text>
<line x1="791.60" y1="416.36" x2="796.00" y2="416.36" stroke="#262626" stroke-width="1.2" stroke-linecap="butt"/>
<text transform="translate(764.84 420.96) scale(0.955 1)" font-size="15.39" fill="#231f20" stroke="#231f20" stroke-width="0.16" paint-order="stroke"><tspan>300</tspan></text>
<line x1="791.60" y1="370.68" x2="796.00" y2="370.68" stroke="#262626" stroke-width="1.2" stroke-linecap="butt"/>
<text transform="translate(764.84 375.28) scale(0.955 1)" font-size="15.39" fill="#231f20" stroke="#231f20" stroke-width="0.16" paint-order="stroke"><tspan>400</tspan></text>
<line x1="793.60" y1="530.56" x2="796.00" y2="530.56" stroke="#262626" stroke-width="1.0" stroke-linecap="butt"/>
<line x1="793.60" y1="484.88" x2="796.00" y2="484.88" stroke="#262626" stroke-width="1.0" stroke-linecap="butt"/>
<line x1="793.60" y1="439.20" x2="796.00" y2="439.20" stroke="#262626" stroke-width="1.0" stroke-linecap="butt"/>
<line x1="793.60" y1="393.52" x2="796.00" y2="393.52" stroke="#262626" stroke-width="1.0" stroke-linecap="butt"/>
<line x1="793.60" y1="347.84" x2="796.00" y2="347.84" stroke="#262626" stroke-width="1.0" stroke-linecap="butt"/>
<line x1="841.30" y1="553.50" x2="841.30" y2="557.70" stroke="#262626" stroke-width="1.2" stroke-linecap="butt"/>
<line x1="931.40" y1="553.50" x2="931.40" y2="557.70" stroke="#262626" stroke-width="1.2" stroke-linecap="butt"/>
<line x1="1021.60" y1="553.50" x2="1021.60" y2="557.70" stroke="#262626" stroke-width="1.2" stroke-linecap="butt"/>
<text transform="translate(812.96 574.60) scale(0.955 1)" font-size="15.59" fill="#231f20" stroke="#231f20" stroke-width="0.16" paint-order="stroke"><tspan>COO</tspan><tspan letter-spacing="-1.09">···</tspan><tspan>Li</tspan></text>
<text transform="translate(908.51 574.60) scale(0.955 1)" font-size="15.60" fill="#231f20" stroke="#231f20" stroke-width="0.16" paint-order="stroke"><tspan>RO</tspan><tspan letter-spacing="-1.09">···</tspan><tspan>Li</tspan></text>
<text transform="translate(978.11 574.90) scale(0.955 1)" font-size="15.52" fill="#231f20" stroke="#231f20" stroke-width="0.16" paint-order="stroke"><tspan>ROH/H</tspan><tspan dy="4.66" font-size="11.64">2</tspan><tspan dy="-4.66">O</tspan><tspan letter-spacing="-1.09">···</tspan><tspan>Li</tspan></text>
<text transform="translate(899.81 598.30) scale(0.955 1)" font-size="15.55" fill="#231f20" stroke="#231f20" stroke-width="0.16" paint-order="stroke"><tspan>Li species</tspan></text>
<text transform="translate(751.00 523.48) rotate(-90) scale(0.955 1)" font-size="15.43" fill="#231f20" stroke="#231f20" stroke-width="0.16" paint-order="stroke"><tspan>Relative </tspan><tspan dy="-4.94" font-size="11.58">6</tspan><tspan dy="4.94">Li number (%)</tspan></text>
<text transform="translate(6.04 639.45) scale(1.02 1)" font-size="16.27" fill="#000" font-weight="bold" stroke="#000" stroke-width="0.55" paint-order="stroke"><tspan>g</tspan></text>
<text transform="translate(39.81 641.00) scale(0.955 1)" font-size="15.96" fill="#231f20" stroke="#231f20" stroke-width="0.16" paint-order="stroke"><tspan font-style="italic">t</tspan><tspan> = 0 ns</tspan></text>
<text transform="translate(397.32 641.00) scale(0.955 1)" font-size="15.71" fill="#231f20" stroke="#231f20" stroke-width="0.16" paint-order="stroke"><tspan font-style="italic">t</tspan><tspan> = 3.68 ns</tspan></text>
<text transform="translate(747.52 641.00) scale(0.955 1)" font-size="15.88" fill="#231f20" stroke="#231f20" stroke-width="0.16" paint-order="stroke"><tspan font-style="italic">t</tspan><tspan> = 5.0 ns</tspan></text>
<g clip-path="url(#cgA1)" fill="none" stroke-width="1.55" stroke-linejoin="round" stroke-linecap="round">
<path d="M37.6,771.9 L38.4,782.8 L42.6,790.3 L46.8,795.4 L56.0,794.5 L64.3,791.2 L77.7,790.0 L83.6,798.7 M32.5,784.5 L38.4,782.8 M44.8,777.0 L46.8,787.0 L46.8,795.4 M40.1,796.7 L46.8,795.4 L51.8,800.4 L52.6,810.4 M42.6,790.3 L43.4,799.5 L50.9,800.0 M56.0,794.5 L51.8,800.4 M64.3,791.2 L62.7,785.3 M64.3,791.2 L65.2,797.0 M77.7,790.0 L78.6,783.6 M83.6,798.7 L92.8,792.8 L98.6,798.7 L105.3,801.2 M73.5,808.7 L84.4,807.1 L84.4,811.2 M86.1,803.7 L92.8,803.7 M98.6,798.7 L102.0,793.7 L108.7,795.7 L111.5,786.5 M98.6,798.7 L97.0,808.7 L102.0,812.4 L111.2,813.8 L118.7,798.7 L127.1,802.4 L133.8,807.9 L142.1,806.2 M108.7,795.7 L111.2,803.7 L118.7,798.7 M111.2,813.8 L117.0,819.6 L123.7,823.8 L128.7,828.8 L135.4,833.0 L142.1,838.8 L143.8,844.2 M102.0,812.4 L99.5,823.8 L92.3,826.3 L93.6,833.8 L98.6,832.2 M123.7,823.8 L124.6,815.4 L130.4,811.2 L133.8,807.9 M130.4,811.2 L137.1,820.4 M135.4,833.0 L129.6,838.8 M142.1,838.8 L135.4,842.2 L120.4,843.5 M128.7,828.8 L132.1,830.1 M150.5,815.4 L153.8,826.3 L152.2,832.2 L155.5,838.0 L165.5,838.8 L168.9,836.3 L181.4,836.3 L187.3,831.3 M153.8,826.3 L165.5,826.3 L168.9,836.3 M165.5,838.8 L166.4,847.2 L162.2,853.1 M166.4,847.2 L174.7,851.4 M165.5,826.3 L168.0,819.6 M187.3,831.3 L194.8,833.8 L197.3,838.8 M187.3,831.3 L188.1,820.4 L194.0,815.4 L194.8,805.4 M194.0,815.4 L199.8,817.1 M197.3,838.8 L196.5,847.2 M185.6,797.0 L187.3,800.4 L192.3,802.0 M142.1,825.5 L152.2,827.1 M92.8,792.8 L94.2,786.7 M97.0,808.7 L92.5,811.5 M99.5,823.8 L103.8,828.2 M93.6,833.8 L92.0,838.7 M135.4,842.2 L135.9,848.9 M152.2,832.2 L146.1,832.5 M188.1,820.4 L183.0,818.7 M187.3,800.4 L184.0,804.9" stroke="#23dc23"/>
<path d="M32.5,820.1 L40.1,817.1 L46.8,815.4 L60.1,808.7 L70.2,817.1 L78.6,815.4 L88.6,807.1 M32.5,805.4 L36.7,810.4 L40.1,817.1 L42.6,823.8 L51.8,822.1 L61.0,820.1 L70.2,821.3 M38.4,809.6 L43.4,807.9 L45.1,815.4 M51.8,822.1 L53.5,828.8 M46.8,807.9 L50.9,815.4 L51.8,822.1 M61.0,820.1 L60.1,825.5 M32.5,833.0 L36.4,834.7 M70.2,817.1 L71.9,828.0 M61.8,804.6 L67.7,803.7 L70.2,817.1 M71.9,832.2 L79.4,828.0 L83.6,837.2 L91.9,835.8 L97.8,837.7 M83.6,837.2 L82.2,846.9 M77.7,807.1 L79.4,815.4 L85.2,827.1 L79.4,828.0 M88.6,807.1 L90.3,817.1 L98.6,827.1 L107.0,832.2 L115.4,833.8 L123.7,838.8 M90.3,817.1 L84.4,819.6 M98.6,827.1 L93.6,830.5 L89.4,828.8 M110.3,832.2 L110.0,840.2 M98.6,827.1 L102.0,813.8 M107.0,823.8 L115.4,822.1 L123.7,828.8 L127.9,832.2 M115.4,822.1 L120.4,818.8 L133.8,819.6 L140.4,819.1 L148.8,824.6 M127.9,823.8 L127.1,832.2 M133.8,810.4 L135.1,819.6 M140.4,813.8 L144.6,809.6 M140.4,819.1 L141.3,832.2 M147.1,817.9 L151.3,813.8 L158.8,808.7 L167.2,804.6 L173.6,808.7 L175.2,815.4 L168.0,824.6 M154.7,797.0 L161.4,800.4 L167.2,804.6 M161.4,800.4 L168.0,793.7 L173.1,797.4 M158.8,808.7 L162.2,814.6 M173.6,808.7 L178.1,805.7 M175.2,815.4 L183.9,818.8 M177.2,807.1 L184.8,803.7 L189.0,802.0 L197.3,800.4 M181.4,794.0 L189.0,792.8 L189.8,802.0 M189.0,785.3 L194.8,787.0 L195.7,800.4 M193.1,778.6 L197.3,787.8 M32.5,787.8 L36.7,787.0 M198.2,766.9 L199.8,767.8 M50.9,815.4 L54.6,812.6 M91.9,835.8 L92.3,830.0 M120.4,818.8 L119.3,812.7 M168.0,793.7 L167.6,787.8 M189.0,792.8 L195.0,789.0 M194.8,787.0 L200.0,783.5" stroke="#e38a57"/>
<path d="M32.5,738.5 L40.1,736.0 L46.8,740.1 L47.6,748.5 L41.7,751.9 L35.1,754.4 M40.1,727.6 L40.4,736.0 M43.4,735.1 L47.6,730.1 L54.3,732.1 M40.1,736.0 L42.6,743.5 L45.1,752.7 M45.1,748.5 L53.5,748.2 M40.9,751.9 L47.6,750.2 L55.5,753.2 M35.1,756.9 L43.4,756.0 M43.4,753.5 L43.4,764.4 M45.1,752.7 L48.4,764.4 L47.6,768.6 M37.6,771.9 L45.9,771.6 L48.8,768.3 L59.3,772.8 L75.2,778.6 L79.4,778.6 M45.9,771.6 L47.6,782.0 L45.1,787.0 L43.4,791.2 M45.1,787.0 L45.4,794.5 M47.6,782.0 L60.1,782.3 L63.8,779.5 L70.2,785.3 M60.1,782.3 L61.5,788.7 M59.3,772.8 L64.3,763.6 L68.5,755.5 L74.9,758.0 M58.5,761.1 L64.3,763.6 L70.2,766.1 M58.1,778.3 L59.3,772.8 M64.3,779.5 L66.8,768.6 M84.4,777.8 L89.9,768.6 L100.0,768.3 L105.7,778.3 L100.0,787.3 L89.9,787.0 L84.4,777.8 M89.9,768.6 L85.2,759.4 M100.0,768.3 L104.5,760.6 L110.8,758.0 M105.7,778.3 L115.4,778.6 L124.6,777.0 M100.0,787.3 L103.3,796.2 L111.2,797.9 M103.3,796.2 L98.6,801.2 M124.6,777.0 L125.4,764.4 L137.1,764.4 L139.1,771.9 L137.1,782.3 L125.4,782.3 L124.6,777.0 M122.4,758.9 L128.7,758.6 M125.4,764.4 L123.7,759.4 M121.2,763.6 L125.4,764.4 M137.1,764.4 L139.1,754.4 L146.3,753.9 M137.1,764.4 L141.8,766.9 M124.6,777.0 L129.6,778.6 M137.1,782.3 L143.8,795.7 M134.6,784.5 L140.8,785.7 M139.1,771.9 L149.6,772.3 L153.8,766.1 L163.9,749.3 L170.6,737.6 L176.4,737.6 L182.3,738.8 M148.8,760.6 L153.8,766.1 L161.9,768.6 L166.9,773.3 M161.9,768.6 L158.0,775.3 L150.8,777.8 M158.8,745.2 L163.9,749.3 L171.4,753.5 L177.2,758.9 M162.2,757.7 L168.0,762.2 L173.9,766.9 L171.9,773.3 M168.0,762.2 L178.1,746.8 L185.6,747.7 L193.1,741.0 L190.6,730.9 L182.3,738.8 M161.4,734.8 L168.0,743.8 M168.9,730.1 L171.4,737.6 M179.8,733.5 L183.9,727.6 L190.6,730.9 L198.2,725.1 M185.6,721.7 L190.6,730.9 M185.6,747.7 L189.8,756.0 M193.1,741.0 L199.8,742.7 M47.6,730.1 L46.6,723.8 M158.0,775.3 L162.0,778.1 M183.9,727.6 L183.8,720.9" stroke="#784b4f"/>
<path d="M77.6,790.3 L78.9,787.1 M51.6,800.6 L53.8,798.5 M92.8,793.1 L92.6,789.9 M110.9,813.6 L113.3,815.1 M133.7,807.6 L133.9,810.7 M111.1,803.4 L111.6,806.2 M99.4,823.5 L100.6,827.6 M92.6,826.3 L89.7,826.2 M124.7,815.7 L122.4,812.3 M155.7,837.8 L153.1,840.5 M165.4,838.6 L166.7,841.6 M181.4,836.0 L182.1,839.7 M165.5,826.6 L165.8,823.8 M166.1,847.2 L169.3,847.3 M193.8,815.2 L196.4,818.2" stroke="#175c17" stroke-width="1.5" stroke-linecap="butt"/>
<path d="M60.3,809.0 L59.2,806.4 M70.3,816.8 L69.2,820.2 M42.7,823.5 L41.1,826.6 M43.4,808.2 L43.5,805.3 M67.5,803.9 L70.2,801.4 M79.4,828.3 L79.0,825.4 M83.8,837.0 L80.9,839.7 M93.7,830.2 L91.8,834.0 M167.0,804.8 L169.5,801.3 M173.3,808.8 L177.4,808.2 M168.0,794.0 L169.1,790.1 M194.6,787.2 L196.6,784.7" stroke="#4a2e1e" stroke-width="1.5" stroke-linecap="butt"/>
<path d="M46.5,740.3 L49.3,738.3 M45.9,771.3 L46.7,775.0 M47.4,781.8 L50.5,784.7 M60.2,782.0 L59.3,786.1 M63.9,779.7 L63.1,776.8 M90.0,768.9 L89.3,764.9 M99.8,768.5 L102.0,765.6 M90.1,786.8 L87.9,789.7 M104.7,760.7 L102.1,759.2 M103.4,795.9 L102.1,798.8 M125.6,764.6 L123.4,761.7 M139.2,754.7 L138.4,750.5 M154.1,765.9 L150.5,768.0 M157.7,775.2 L160.4,776.3 M173.6,767.1 L176.4,765.5 M178.2,747.1 L176.8,743.9 M185.5,747.4 L186.7,750.6" stroke="#2c2020" stroke-width="1.5" stroke-linecap="butt"/>
</g>
<g clip-path="url(#cgA3)" fill="none" stroke-width="1.55" stroke-linejoin="round" stroke-linecap="round">
<path d="M320.5,758.0 L320.8,762.2 L328.0,768.1 L335.5,763.9 M247.7,768.1 L256.1,767.6 M295.7,766.4 L296.2,769.1 M320.8,762.2 L314.8,764.4" stroke="#23dc23"/>
<path d="M264.9,742.1 L268.6,730.8 L278.7,730.1 L284.5,736.8 L282.3,748.0 L272.0,749.7 L264.9,742.1 M268.6,730.8 L263.6,723.7 L268.3,716.2 M263.6,723.7 L256.6,721.2 M263.6,723.7 L258.9,729.6 M284.5,736.8 L295.4,735.1 L299.6,725.4 L300.4,717.0 L306.3,708.7 L306.3,700.7 M282.3,748.0 L289.5,755.5 L295.7,754.7 M272.0,749.7 L269.0,758.9 L274.0,763.9 M264.9,742.1 L256.6,744.6 L253.2,739.6 L245.2,738.0 L240.2,743.8 L234.8,738.5 L229.3,742.1 M245.2,738.0 L247.7,731.3 M256.6,744.6 L249.4,748.8 L254.4,752.2 M240.2,743.8 L236.8,750.5 L240.2,757.2 M236.8,750.5 L230.1,753.8 L225.1,762.2 L226.0,769.1 M226.0,742.1 L230.1,747.2 L236.8,750.5 M230.1,753.8 L218.4,754.7 L212.6,757.2 L212.6,769.1 M204.2,742.1 L206.7,750.5 L205.9,760.5 L211.7,763.9 M206.7,750.5 L210.9,748.8 M197.5,751.3 L205.9,752.2 M243.5,735.4 L240.2,743.8 M246.9,742.1 L250.2,747.2 M300.4,717.0 L290.4,713.4 M300.4,706.7 L310.4,711.2 L318.8,706.2 L324.7,708.7 L335.5,702.0 L337.2,706.2 L343.6,711.2 L353.1,707.0 M310.4,711.2 L310.8,717.0 M316.3,700.3 L318.8,706.2 M324.7,708.7 L325.8,717.0 M335.5,697.8 L335.5,702.0 M313.0,707.8 L321.3,704.5 L335.5,703.7 M343.6,711.2 L348.9,718.7 M349.8,700.3 L350.3,710.4 L348.9,722.1 M332.2,716.2 L343.6,713.7 M338.9,710.4 L339.2,718.4 M293.7,725.4 L299.6,726.2 L308.8,730.1 L314.6,717.0 L315.5,710.4 M308.8,730.1 L309.1,738.5 L305.4,744.6 M301.7,734.6 L309.1,738.5 L315.8,739.6 M308.8,730.1 L314.1,731.3 M299.6,726.2 L297.9,730.4 M286.7,717.0 L290.4,713.4 M306.3,708.7 L311.9,710.6 M253.2,739.6 L257.9,734.9" stroke="#e38a57"/>
<path d="M190.0,730.4 L197.5,732.1 L204.2,722.1 L200.0,716.2 M197.5,732.1 L192.5,739.6 L195.0,740.5 L203.4,743.5 M192.5,739.6 L190.0,745.5 M204.2,722.1 L210.9,725.4 L215.1,731.3 M204.2,727.9 L210.9,725.4 L216.8,717.0 L212.6,710.4 M216.8,717.0 L223.5,713.7 L229.3,705.3 L238.5,706.2 L245.2,700.3 L248.6,693.6 M212.6,706.2 L218.4,714.5 L226.0,717.0 L221.8,723.7 M215.1,708.7 L225.1,713.7 L228.1,720.4 M219.3,710.4 L227.6,704.5 M238.5,706.2 L241.9,712.0 M245.2,700.3 L251.1,708.7 M238.5,693.6 L245.2,700.3 L258.6,699.5 M231.5,690.3 L234.8,685.3 L244.4,688.6 L248.9,693.3 L260.3,694.5 L266.6,686.1 M244.4,688.6 L248.6,682.2 M248.9,686.9 L248.9,697.0 M266.6,686.1 L263.6,677.7 L270.3,668.5 L280.7,670.2 L285.0,681.1 L277.0,689.4 L266.6,686.1 M270.3,668.5 L264.9,659.8 L254.4,659.8 L251.6,666.0 M264.9,659.8 L268.3,653.1 M280.7,670.2 L287.0,663.5 L295.1,658.8 M285.0,681.1 L292.4,683.9 M277.0,689.4 L281.2,697.8 M287.9,636.7 L295.1,640.4 L300.1,635.4 M295.1,640.4 L291.2,646.8 L299.6,646.8 L307.1,655.1 L314.6,647.6 L319.6,650.1 L328.8,655.1 L337.2,646.8 L335.5,640.1 L341.4,631.7 L352.3,636.7 L347.2,645.9 L337.2,646.8 M291.2,653.5 L295.1,658.8 L301.2,666.9 L313.0,660.2 L307.1,655.1 M301.2,666.9 L306.3,673.6 L301.7,678.6 M299.6,671.0 L303.8,667.2 M313.0,660.2 L319.6,666.9 L317.1,673.9 M309.6,642.6 L317.1,645.1 L314.6,647.6 M317.1,645.1 L323.8,635.9 L321.3,630.1 M323.8,635.9 L332.2,638.4 L337.2,646.8 M318.8,634.2 L324.7,630.9 M332.2,638.4 L342.2,636.7 M328.8,638.4 L335.5,640.1 L343.1,651.0 M352.3,630.4 L352.3,636.7 M347.2,645.9 L347.2,652.1 M319.6,650.1 L327.5,649.3 M295.4,653.5 L297.1,658.5 M305.1,659.3 L310.4,654.3 L315.5,658.5 M260.3,694.5 L263.4,698.0 M263.6,677.7 L257.4,675.8" stroke="#784b4f"/>
<path d="M328.1,767.8 L327.2,771.4" stroke="#175c17" stroke-width="1.5" stroke-linecap="butt"/>
<path d="M278.7,730.4 L278.3,727.6 M284.2,736.7 L288.2,737.3 M282.2,747.7 L283.8,751.4 M300.6,717.3 L297.7,714.4 M256.6,744.3 L256.8,747.3 M245.3,738.2 L244.3,734.8 M234.7,738.7 L235.9,735.1 M249.7,748.7 L246.9,749.8 M237.1,750.5 L233.6,750.5 M230.3,754.1 L228.7,750.5 M318.9,706.4 L317.7,703.7 M335.3,702.2 L338.2,699.3 M343.5,710.9 L344.4,713.7 M308.8,729.8 L308.5,733.9" stroke="#4a2e1e" stroke-width="1.5" stroke-linecap="butt"/>
<path d="M203.9,722.0 L207.6,722.5 M210.6,725.3 L213.2,726.5 M218.6,714.3 L216.1,717.0 M225.1,714.0 L225.7,711.3 M245.4,700.1 L243.2,703.2 M249.1,693.1 L246.6,696.0 M270.3,668.8 L270.9,664.7 M284.8,680.9 L288.1,683.3 M276.8,689.2 L278.6,691.5 M264.7,660.0 L267.5,657.3 M254.6,660.0 L252.3,658.1 M295.0,640.1 L295.2,643.8 M291.4,646.6 L289.2,648.8 M299.6,647.1 L299.7,644.1 M314.7,647.9 L313.9,644.6 M328.7,654.9 L330.4,657.1 M336.9,646.7 L340.3,647.5 M335.8,640.1 L332.4,639.6 M341.3,632.0 L342.2,628.0 M352.0,636.9 L355.2,635.6 M301.4,666.6 L299.9,670.1 M319.3,666.9 L323.0,666.6 M323.6,636.0 L326.0,634.8 M335.4,640.4 L337.1,637.4 M310.6,654.6 L309.3,652.0" stroke="#2c2020" stroke-width="1.5" stroke-linecap="butt"/>
</g>
<g clip-path="url(#cgA2)" fill="none" stroke-width="1.55" stroke-linejoin="round" stroke-linecap="round">
<path d="M230.1,767.6 L231.0,773.8 L235.2,780.2 L247.7,778.8 L252.7,786.5 L246.9,796.9 L240.2,797.8 L234.3,791.6 L235.2,780.2 M247.7,778.8 L248.6,768.8 L255.6,767.6 M234.3,791.6 L224.3,794.4 L220.1,802.8 L220.1,812.0 L215.1,820.3 L210.9,827.9 L214.8,829.5 M240.2,797.8 L237.7,791.1 M240.2,797.8 L236.0,807.0 M246.9,796.9 L251.9,803.3 M252.7,786.5 L261.6,789.9 L270.3,784.4 L272.8,777.7 L278.7,771.8 M261.6,774.3 L267.0,779.9 L270.3,784.4 L280.3,793.6 L288.7,789.4 L293.7,784.4 M267.0,779.9 L273.6,778.5 L280.3,785.2 L286.2,788.9 M280.3,793.6 L275.3,799.4 M286.2,788.9 L292.0,798.6 L290.4,803.9 M283.7,786.9 L292.9,783.9 L295.7,791.9 L300.4,796.9 L309.1,790.2 L305.4,779.3 L298.7,779.3 L292.9,783.9 M295.7,766.8 L298.7,779.3 M305.4,779.3 L312.1,773.5 M300.4,796.9 L301.2,808.3 L294.6,814.5 L295.4,821.2 M301.2,808.3 L309.1,810.6 M293.7,796.9 L300.4,796.9 M309.1,790.2 L313.8,793.6 L323.8,788.9 L322.2,781.9 L331.4,776.8 L338.9,783.5 L339.7,792.7 L329.7,797.2 L323.8,788.9 M331.4,776.8 L328.0,769.3 L320.5,763.1 L320.8,758.4 M328.0,769.3 L335.5,763.8 M338.9,783.5 L348.1,778.2 M339.7,792.7 L345.6,801.1 L343.9,806.6 M329.7,797.2 L330.9,805.3 L325.8,810.3 M328.8,772.7 L333.0,774.8 M210.1,780.2 L216.8,780.2 M210.1,780.2 L208.4,790.2 L208.1,796.9 L220.1,802.8 L224.3,803.6 M205.1,790.2 L213.4,791.1 M208.1,796.9 L202.5,804.4 L205.9,815.3 L204.2,830.4 L197.5,836.2 L198.0,847.1 L195.0,848.4 M190.0,832.0 L197.5,836.2 M204.2,830.4 L214.3,834.6 L214.3,841.7 M205.9,815.3 L200.0,820.3 M205.9,815.3 L215.1,820.3 L220.1,822.8 M214.3,811.1 L220.1,812.0 L229.3,815.3 L231.5,811.1 M194.2,804.4 L195.0,813.6 L190.0,818.7 M195.0,813.6 L205.9,817.0 M231.0,773.8 L225.7,776.1 M248.6,768.8 L245.2,762.4 M261.6,789.9 L263.3,794.6 M198.0,847.1 L203.0,850.7" stroke="#23dc23"/>
<path d="M264.9,741.7 L268.6,730.8 M264.9,741.7 L272.0,749.7 L282.3,747.6 L284.5,737.5 L278.7,730.0 M284.5,737.5 L295.4,735.0 L297.4,730.0 M282.3,747.6 L289.5,755.1 L295.7,754.8 M272.0,749.7 L269.0,758.8 L274.0,763.8 M264.9,741.7 L256.6,744.2 L253.2,739.2 L245.2,737.5 L240.2,743.4 L234.8,738.0 L229.3,741.7 M245.2,737.5 L247.7,731.3 M256.6,744.2 L249.4,748.4 L254.4,751.7 M240.2,743.4 L236.8,750.1 L240.2,756.8 M236.8,750.1 L230.1,753.4 L225.1,761.8 L223.5,770.1 L224.3,780.2 L218.4,783.2 M226.0,741.7 L230.1,746.7 L236.8,750.1 M230.1,753.4 L218.4,754.8 L212.6,757.1 L211.7,772.7 M204.2,741.7 L206.7,750.1 L205.9,760.1 L206.7,767.6 L205.1,779.3 L197.5,783.5 L190.0,785.2 M206.7,750.1 L210.9,748.4 M197.5,750.9 L205.9,751.7 M197.5,766.8 L206.7,767.6 L224.3,770.1 L230.1,768.8 M201.7,765.1 L206.7,763.5 M193.3,779.3 L197.5,791.9 L200.9,808.6 M190.0,793.6 L197.5,791.9 L206.7,792.2 M197.5,791.9 L194.2,796.9 M190.0,801.9 L200.0,802.8 L210.1,802.3 L214.3,807.8 M191.7,796.9 L192.5,808.6 M243.5,735.0 L240.2,743.4 M246.9,741.7 L254.4,751.7 M300.4,740.0 L301.7,734.2 L308.8,737.5 L315.5,739.7 M308.8,737.5 L305.4,745.1 M308.8,730.0 L309.1,737.5 M295.4,735.0 L299.5,738.0 M289.5,755.1 L288.0,760.4 M224.3,780.2 L228.9,781.0" stroke="#e38a57"/>
<path d="M190.0,745.1 L195.0,740.9 L203.4,743.0 M195.0,740.9 L192.5,733.3 L190.0,731.7 M202.5,765.1 L213.4,766.0 L223.5,765.5 L231.0,768.8 M190.0,793.6 L198.4,790.2 M211.7,730.0 L215.1,731.7" stroke="#784b4f"/>
<path d="M235.3,779.9 L234.3,783.1 M247.7,779.1 L248.1,776.1 M252.4,786.5 L256.0,786.6 M240.3,797.5 L239.1,800.8 M248.8,769.0 L246.3,766.4 M224.4,794.7 L223.4,790.7 M211.2,827.9 L207.1,827.3 M270.2,784.1 L271.8,787.9 M280.3,793.3 L280.3,796.6 M291.7,798.6 L295.5,798.9 M292.9,784.2 L293.0,781.2 M305.2,779.5 L308.5,777.3 M298.9,779.6 L297.0,777.4 M314.0,793.3 L311.3,796.7 M331.2,777.1 L333.4,773.6 M339.5,792.5 L342.2,795.3 M320.8,763.1 L316.8,763.3 M345.3,801.3 L347.5,799.5 M208.4,796.9 L204.4,797.5 M204.1,830.1 L206.3,833.6 M214.0,834.7 L217.3,833.0 M229.1,815.1 L231.1,817.3" stroke="#175c17" stroke-width="1.5" stroke-linecap="butt"/>
<path d="M272.0,749.5 L271.1,752.8 M284.2,737.7 L287.1,736.2 M289.5,754.8 L289.6,757.7 M269.2,758.6 L267.0,760.5 M256.8,744.0 L253.9,746.9 M253.0,739.3 L256.6,737.4 M245.4,737.8 L243.7,735.0 M234.9,738.3 L233.8,735.7 M249.7,748.4 L246.1,748.0 M237.1,750.0 L234.1,750.8 M230.4,753.6 L227.7,752.2 M224.0,780.2 L226.8,780.2 M212.8,757.3 L210.4,754.3 M204.8,779.1 L207.6,781.6 M209.9,802.5 L211.7,799.4 M301.7,734.5 L302.2,730.3" stroke="#4a2e1e" stroke-width="1.5" stroke-linecap="butt"/>
<path d="M195.2,741.1 L193.3,739.1" stroke="#2c2020" stroke-width="1.5" stroke-linecap="butt"/>
</g>
<g clip-path="url(#cgB1)" fill="none" stroke-width="1.55" stroke-linejoin="round" stroke-linecap="round">
<path d="M389.2,775.3 L396.7,772.0 L400.1,780.3 L410.1,782.8 L416.0,775.3 L421.0,775.7 M400.1,780.3 L392.5,788.7 L395.1,797.1 L405.1,801.7 L411.8,792.0 L410.1,782.8 M405.1,801.7 L405.1,810.4 L399.2,816.3 M405.1,810.4 L415.1,816.3 M411.8,792.0 L421.8,795.7 L430.2,791.2 L438.6,786.2 L446.9,787.0 L451.9,777.0 L453.6,770.3 L446.9,765.3 M425.2,790.4 L430.2,797.1 L433.5,803.8 L438.6,800.4 L446.9,793.7 M433.5,803.8 L430.2,810.4 L422.7,813.0 M439.4,803.8 L441.9,812.1 L439.4,813.8 M439.4,780.3 L446.9,787.0 L448.6,794.6 L454.4,798.7 M451.9,777.0 L460.3,778.7 M454.4,792.0 L460.3,798.7 L468.7,790.4 L477.0,797.1 L485.4,792.4 L492.1,796.2 M466.2,785.4 L468.7,790.4 L475.0,786.2 M460.3,798.7 L457.0,805.4 L460.3,810.4 L463.3,817.1 M477.0,797.1 L479.5,802.1 M471.2,803.8 L478.7,810.4 L485.4,816.3 L487.1,825.5 L489.6,830.5 L480.4,833.9 L482.0,841.4 M489.6,830.5 L493.8,835.5 L493.8,844.1 M487.1,833.9 L500.4,833.0 M495.4,818.8 L498.8,815.5 L506.3,810.4 L505.8,804.6 M506.3,810.4 L515.5,811.3 M498.8,815.5 L499.6,823.8 L505.5,832.2 L513.8,838.9 L522.2,837.2 L527.2,827.2 L520.5,823.0 M500.4,828.8 L508.0,828.0 M513.8,838.9 L513.0,844.1 M522.2,837.2 L528.9,843.1 L540.6,844.1 M458.6,818.8 L463.6,825.5 M392.5,788.7 L386.5,786.5 M453.6,770.3 L459.9,769.0 M485.4,792.4 L487.1,785.8 M493.8,835.5 L499.0,833.3" stroke="#23dc23"/>
<path d="M389.2,772.0 L395.9,771.6 M390.0,788.7 L390.9,800.4 L401.7,806.3 L405.1,810.4 L415.1,805.4 L416.0,792.0 L424.3,789.5 M405.1,810.4 L404.8,819.6 L394.2,823.0 L394.2,830.2 M404.8,819.6 L410.1,823.8 L409.3,833.9 M410.1,823.8 L420.1,819.6 L435.2,813.8 M415.1,805.4 L420.1,810.4 L420.1,819.6 L426.8,822.2 M421.8,797.1 L426.8,810.4 L431.9,826.3 L427.7,828.8 M421.0,810.4 L426.8,810.4 L442.7,805.1 M431.9,826.3 L441.9,825.5 L442.7,816.3 L436.0,800.4 L441.9,800.1 M431.9,826.3 L434.4,833.9 L435.2,844.1 M426.8,836.9 L434.4,833.9 L441.1,833.5 M436.9,819.6 L451.1,813.8 L457.0,819.6 L462.0,814.6 L461.1,805.4 M457.0,819.6 L462.8,828.8 L467.0,833.0 L463.6,835.5 M462.8,828.8 L458.6,832.2 M451.1,820.5 L457.0,819.6 M461.1,805.4 L463.6,810.4 L473.7,807.9 L480.4,805.4 L485.4,816.3 L480.4,822.2 L475.4,817.1 L473.7,807.9 M462.8,828.8 L473.7,825.5 L477.9,832.2 M471.2,821.3 L473.7,825.5 M485.4,816.3 L493.8,817.1 L500.4,823.8 L498.8,832.2 M480.4,822.2 L488.7,815.5 L491.2,809.6 M493.8,817.1 L496.3,809.1 M500.4,823.8 L510.5,823.0 L513.8,817.1 L508.8,812.1 L502.1,813.0 M510.5,823.0 L513.8,828.8 M513.8,817.1 L522.2,818.8 L530.6,820.5 L540.6,810.4 L552.3,809.6 L557.3,802.1 L554.0,792.0 L560.0,791.2 M515.5,809.6 L517.2,817.1 M522.2,818.8 L528.0,807.1 M522.2,828.8 L527.2,818.8 L536.4,818.8 L540.6,823.8 M530.6,820.5 L533.9,827.2 M533.1,807.9 L540.6,807.1 M532.2,807.1 L531.4,818.8 M545.6,804.6 L552.3,803.8 L557.3,802.1 M552.3,809.6 L555.7,818.0 M549.0,799.6 L554.8,803.8 M557.3,812.1 L560.0,818.8 M436.0,800.4 L431.2,795.9 M451.1,813.8 L453.0,807.8 M462.0,814.6 L467.6,818.4 M467.0,833.0 L472.2,832.5 M475.4,817.1 L468.7,818.7 M540.6,810.4 L537.8,805.8 M536.4,818.8 L541.0,813.6" stroke="#e38a57"/>
<path d="M400.4,706.2 L401.7,711.7 L395.1,720.1 L400.9,729.3 L394.2,739.3 L400.9,748.6 L407.6,751.1 L416.8,744.4 L423.8,748.6 L426.0,758.6 L418.5,766.1 L410.1,762.8 L407.6,751.1 M389.2,720.1 L395.1,720.1 M400.9,729.3 L406.8,728.5 L411.8,732.2 M389.2,739.3 L394.2,739.3 M423.8,748.6 L433.2,741.9 L432.7,730.1 M433.2,741.9 L439.4,744.9 M410.1,762.8 L401.7,768.3 L399.7,767.8 M413.5,768.6 L418.5,766.1 L422.7,773.6 L423.8,779.5 M426.0,758.6 L433.5,762.3 L441.1,767.0 L448.6,761.9 L458.6,764.4 L467.0,758.6 M441.1,767.0 L441.9,774.5 L449.9,782.0 L457.8,774.5 L458.6,764.4 M448.6,761.9 L451.1,753.6 M458.6,764.4 L464.5,756.1 M449.9,782.0 L448.6,790.4 L437.7,792.4 M448.6,790.4 L453.6,796.2 M441.9,796.2 L448.6,790.4 M457.8,774.5 L467.0,780.3 L476.2,778.7 L482.0,768.3 L490.4,768.6 L495.4,773.6 L488.7,786.7 L480.4,783.7 L476.2,778.7 M477.9,761.9 L485.4,763.3 L482.0,768.3 M476.2,778.7 L490.4,788.7 M495.4,773.6 L503.0,778.7 L508.8,773.3 L503.8,768.6 M495.4,773.6 L500.4,761.9 L506.3,762.3 M508.8,773.3 L518.8,780.3 L517.2,788.7 L522.2,789.0 M508.8,773.3 L513.8,764.4 L518.8,756.9 L523.9,748.6 L524.2,741.0 M513.0,755.6 L518.8,756.9 L528.0,762.8 L534.7,763.3 M518.8,748.6 L523.9,748.6 L532.6,751.6 M518.8,780.3 L523.9,780.3 M523.9,773.6 L528.0,762.8 L529.7,756.9 L540.6,758.3 L544.8,761.1 M523.9,773.6 L531.4,778.7 L534.7,773.6 M540.6,758.3 L544.8,747.7 L554.0,748.6 L554.8,738.5 L560.0,736.8 M538.9,745.2 L544.8,747.7 L543.1,741.9 L549.0,738.5 M540.6,758.3 L540.6,766.1 L552.3,768.6 L554.0,748.6 M547.3,756.9 L557.3,758.6 M552.3,768.6 L557.3,768.3 M541.4,775.3 L549.8,775.7 L554.8,774.5 M549.8,775.7 L550.3,785.7 M557.3,747.7 L560.0,748.6 M400.9,748.6 L399.0,753.1 M441.9,774.5 L436.8,777.2 M490.4,768.6 L491.3,763.7 M488.7,786.7 L491.4,791.3" stroke="#784b4f"/>
<path d="M400.2,780.1 L398.4,782.9 M416.0,775.6 L415.7,771.7 M392.8,788.6 L390.0,789.3 M395.3,797.0 L391.2,797.8 M404.9,801.5 L406.6,804.0 M411.5,792.0 L414.9,792.8 M404.9,810.2 L407.8,813.0 M421.7,795.4 L422.6,798.6 M438.7,786.5 L437.5,783.4 M453.3,770.2 L457.5,771.1 M433.5,803.5 L433.6,806.6 M430.1,810.2 L431.4,814.0 M446.7,787.2 L448.8,785.0 M448.9,794.5 L444.9,795.2 M477.2,796.8 L475.0,800.3 M468.9,790.2 L465.9,793.1 M457.3,805.4 L453.7,805.5 M485.1,816.3 L489.4,816.6 M489.3,830.4 L492.5,831.4 M493.5,835.6 L497.3,835.2 M499.9,823.7 L496.8,825.2 M529.1,842.8 L526.6,845.8" stroke="#175c17" stroke-width="1.5" stroke-linecap="butt"/>
<path d="M391.2,800.4 L387.1,800.9 M405.3,810.2 L402.8,813.4 M414.9,805.3 L417.8,807.2 M394.3,823.3 L392.6,819.4 M419.9,810.5 L423.6,809.8 M441.7,825.2 L443.7,828.5 M436.3,800.4 L433.6,800.4 M457.1,819.4 L454.9,823.0 M466.7,832.9 L470.3,834.2 M485.1,816.2 L488.6,817.1 M480.5,821.9 L478.9,825.6 M475.6,817.0 L472.9,818.9 M510.3,822.8 L512.6,824.8 M508.8,812.4 L509.0,809.3 M557.1,801.9 L560.4,804.5 M527.3,819.1 L525.9,815.6" stroke="#4a2e1e" stroke-width="1.5" stroke-linecap="butt"/>
<path d="M400.6,729.2 L404.3,730.2 M401.2,748.5 L397.1,749.8 M407.5,750.8 L408.5,753.9 M425.8,758.4 L429.0,760.6 M418.4,765.8 L419.6,768.9 M418.5,766.4 L418.0,763.6 M441.1,766.7 L440.9,770.2 M448.8,762.2 L446.9,760.1 M442.2,774.4 L438.7,775.5 M450.1,781.7 L448.2,785.4 M457.5,774.5 L460.5,774.6 M448.4,790.1 L450.3,793.5 M467.0,780.0 L467.0,783.3 M476.2,778.4 L476.3,782.6 M482.2,768.5 L480.3,765.8 M495.1,773.5 L499.1,775.0 M488.6,786.4 L490.1,789.5 M480.6,783.5 L477.1,785.6 M502.8,778.4 L504.1,781.1 M508.5,773.2 L512.2,774.4 M500.5,762.2 L499.6,758.4 M518.6,780.5 L521.1,778.6 M544.7,747.4 L546.0,751.2 M543.4,741.8 L540.8,742.4" stroke="#2c2020" stroke-width="1.5" stroke-linecap="butt"/>
</g>
<g clip-path="url(#cgB2)" fill="none" stroke-width="1.55" stroke-linejoin="round" stroke-linecap="round">
<path d="M697.2,743.8 L702.2,748.0 L705.6,738.8 M702.2,748.0 L710.6,747.5 M702.2,748.0 L702.6,759.7 L690.5,763.1 M702.6,759.7 L705.6,763.1" stroke="#23dc23"/>
<path d="M659.1,702.0 L658.7,712.0 L653.7,719.6 L654.6,729.6 L650.4,738.0 L642.8,734.6 L637.0,733.0 M654.6,729.6 L665.4,733.0 L670.4,724.6 L669.6,715.4 L673.8,707.0 L682.2,709.5 L686.3,701.2 M658.7,712.0 L669.6,715.4 L675.5,715.7 M653.7,712.0 L658.7,712.0 M644.2,715.7 L653.7,719.6 M667.1,700.3 L676.3,699.5 L679.6,697.8 M678.8,686.1 L675.8,692.0 L676.3,699.5 L682.2,709.5 L690.5,712.0 L688.0,723.8 L693.9,720.4 L700.6,725.1 L710.6,722.1 L708.9,710.4 M690.5,712.0 L697.2,717.1 L703.9,710.4 L709.8,719.6 M702.2,704.5 L703.9,710.4 M693.9,711.2 L700.6,717.1 M710.6,722.1 L713.9,723.8 M665.4,733.0 L666.3,742.2 L678.0,743.8 L680.5,750.5 M666.3,742.2 L666.8,748.8 M633.6,733.0 L639.5,735.5 L637.0,747.2 L640.3,753.0 L651.2,753.9 L653.7,750.5 M640.3,753.0 L638.7,760.6 M637.0,747.2 L627.0,748.8 L626.1,764.1 M627.0,748.8 L616.9,746.3 L606.9,750.5 L597.7,748.0 M616.9,746.3 L614.4,738.8 M618.6,738.8 L616.9,746.3 M606.9,750.5 L605.2,762.2 M621.9,750.5 L632.8,752.2 M642.8,734.6 L652.0,730.4 L662.1,729.6 M652.0,725.4 L654.6,729.6 L656.2,736.3 M578.4,755.5 L583.5,764.1 M635.3,730.4 L640.3,737.1 M697.2,717.1 L697.0,723.3" stroke="#e38a57"/>
<path d="M673.0,617.5 L677.1,625.1 L670.4,635.1 L662.1,630.9 M670.4,635.1 L669.6,641.8 L658.7,646.0 L657.1,654.3 L650.4,645.1 M677.1,625.1 L685.5,626.7 L692.2,622.5 M677.1,625.1 L679.6,620.9 M681.3,623.4 L685.5,630.9 L683.8,635.9 L670.4,635.1 M685.5,630.9 L695.5,629.2 L701.4,624.7 M685.5,630.9 L692.2,636.8 L688.8,642.6 M695.5,629.2 L703.9,635.9 L714.8,630.9 M692.2,636.8 L703.9,635.9 L703.1,650.1 L710.6,646.8 L708.1,631.7 M697.2,651.0 L703.1,650.1 L715.6,655.2 M690.5,660.2 L691.4,653.8 L703.1,652.7 L706.4,661.0 M669.6,641.8 L675.5,649.3 M670.4,635.1 L679.6,642.6 M658.7,646.0 L667.9,643.5 L669.6,649.3 L658.7,654.3 M657.1,654.3 L664.6,661.0 M657.1,654.3 L647.0,665.2 L641.2,671.1 L634.5,678.6 L628.6,682.3 L622.8,673.6 L625.3,667.2 M637.0,658.5 L647.0,667.7 M641.2,656.8 L650.4,661.9 L660.4,666.9 M647.0,665.2 L654.6,671.9 M634.5,666.9 L641.2,671.1 M606.9,672.2 L614.4,668.9 L622.8,673.6 L616.1,677.8 M628.3,675.6 L634.5,678.6 L637.0,684.4 L641.2,686.6 L646.2,682.3 M628.6,682.3 L622.3,691.6 L627.8,700.3 L637.0,697.0 L641.2,686.6 M627.8,700.3 L633.6,704.0 M637.0,697.0 L641.7,706.2 M627.8,700.3 L621.9,709.5 L610.2,711.2 L605.2,708.7 L605.2,696.7 M607.7,705.4 L610.2,711.2 L608.6,720.4 L615.2,727.9 M605.2,708.7 L594.3,711.2 L589.3,708.4 L581.8,713.7 M594.3,711.2 L593.8,722.4 L609.4,720.4 M593.8,722.4 L582.6,725.1 L577.6,735.5 L571.7,748.8 L566.7,753.9 M593.8,722.4 L598.5,726.3 M562.5,714.6 L569.7,713.7 L570.9,722.1 L571.7,738.8 L566.7,743.8 L562.5,755.5 L550.0,758.9 M566.7,721.2 L579.3,720.7 M561.7,730.4 L577.6,734.6 L585.1,738.0 M571.7,738.8 L584.3,743.0 L585.1,745.8 M557.5,747.2 L571.7,752.2 L579.3,757.2 M550.0,748.8 L554.2,749.7 L555.0,738.0 L559.2,736.3 M554.2,749.7 L552.5,758.9 M566.7,756.4 L571.7,758.9 M669.6,649.3 L674.3,649.9 M589.3,708.4 L590.0,701.9 M562.5,755.5 L566.3,760.6" stroke="#784b4f"/>
<path d="M702.2,747.7 L702.8,751.3 M702.3,759.6 L705.2,760.7" stroke="#175c17" stroke-width="1.5" stroke-linecap="butt"/>
<path d="M658.5,711.9 L661.7,713.9 M654.3,729.7 L657.2,729.1 M650.2,737.7 L652.0,740.2 M665.4,732.7 L665.3,736.7 M670.1,724.6 L673.2,724.4 M669.9,715.4 L666.5,714.9 M682.2,709.2 L681.5,713.5 M682.2,709.2 L681.5,712.1 M688.2,723.5 L686.1,726.3 M700.5,724.8 L700.8,727.9 M697.1,716.8 L698.0,719.9 M703.7,710.6 L706.4,707.3 M677.9,744.1 L678.4,741.4 M639.3,735.7 L641.1,733.4 M617.0,746.6 L616.5,743.2" stroke="#4a2e1e" stroke-width="1.5" stroke-linecap="butt"/>
<path d="M657.1,654.0 L656.9,657.9 M683.6,635.7 L685.9,637.9 M691.9,636.8 L695.3,636.1 M703.6,636.0 L707.4,634.6 M702.9,650.4 L705.1,646.9 M703.1,653.0 L703.1,650.1 M628.6,682.0 L628.6,685.2 M623.1,673.6 L619.3,673.3 M614.2,669.1 L616.6,665.6 M622.5,673.5 L626.2,674.7 M634.2,678.7 L637.5,676.8 M637.1,684.2 L635.8,686.9 M622.5,691.8 L619.0,689.5 M621.7,709.3 L624.0,711.6 M605.4,708.5 L603.3,710.8 M608.8,720.3 L605.5,721.4 M594.5,711.0 L591.9,714.3 M594.1,722.3 L590.4,723.9 M582.7,725.4 L581.1,721.9 M569.6,714.0 L571.5,711.1 M571.6,738.6 L574.2,741.9 M553.9,749.6 L556.5,750.5" stroke="#2c2020" stroke-width="1.5" stroke-linecap="butt"/>
</g>
<g clip-path="url(#cgB3)" fill="none" stroke-width="1.55" stroke-linejoin="round" stroke-linecap="round">
<path d="M697.2,744.2 L702.2,748.0 L705.6,740.0 M702.2,748.0 L710.6,747.5 M702.2,748.0 L702.6,760.1 L690.5,762.6 L687.5,771.8 L692.2,781.0 L703.6,779.8 L706.4,769.3 L702.6,760.1 M703.6,779.8 L707.2,787.7 L713.6,785.5 M692.2,781.0 L690.5,791.0 L686.3,796.0 M687.5,771.8 L675.5,772.6 L669.6,777.6 L648.7,776.8 L647.9,762.6 M638.7,769.8 L647.9,770.9 L669.6,771.8 L675.5,772.6 M657.1,765.1 L657.1,780.1 L660.4,784.3 L663.8,794.4 L659.6,799.9 M650.4,784.8 L660.4,784.3 M669.1,763.4 L669.6,777.6 L670.8,785.2 M638.7,769.8 L632.0,777.6 L620.3,773.5 L612.2,781.0 L612.7,786.8 L621.9,793.2 L630.6,784.8 L632.0,777.6 M630.6,784.8 L640.3,790.2 L642.0,796.5 M621.9,793.2 L624.4,798.9 M620.3,773.5 L619.4,767.6 M605.2,770.1 L612.2,765.1 L623.6,761.7 M612.7,786.8 L603.5,794.4 L596.8,795.2 L594.3,788.5 M571.7,793.9 L587.6,798.9 L596.8,795.2 L602.7,801.9 L611.1,799.9 M587.6,798.9 L588.1,811.9 L593.5,817.8 L603.5,813.3 L602.7,801.9 M603.5,813.3 L610.2,812.8 L609.4,807.8 M603.5,813.3 L606.9,818.3 M593.5,817.8 L594.3,823.6 L589.3,834.5 L584.3,846.2 L577.6,852.1 L572.6,860.4 L563.4,861.3 L550.0,865.5 M589.3,820.3 L580.1,833.7 L571.7,844.1 L577.6,852.1 L583.5,854.1 M576.8,817.0 L570.9,827.8 L565.9,835.0 M563.4,826.2 L570.9,827.8 L584.3,838.7 M575.1,829.5 L581.8,830.3 L589.3,836.2 L596.0,836.7 M580.1,846.2 L584.3,846.2 L591.0,851.2 L595.2,851.7 M559.2,851.7 L563.4,861.3 L566.4,873.0 M550.0,847.1 L556.7,845.1 M551.7,847.1 L553.3,860.4 L555.0,873.8 L550.0,875.8 M550.0,859.6 L556.7,863.8 L564.2,865.5 L571.7,864.6 M555.0,862.1 L556.7,872.2 M663.8,794.4 L668.8,794.0 M589.3,836.2 L588.1,841.4 M555.0,873.8 L560.0,877.8" stroke="#23dc23"/>
<path d="M578.4,755.1 L584.3,766.8 L576.8,776.0 L564.2,769.3 M584.3,766.8 L594.3,771.8 L605.2,763.4 L606.9,750.9 L616.9,746.7 L626.1,752.5 L624.4,765.1 L615.2,767.6 L605.2,763.4 M596.8,747.5 L606.9,750.9 M616.9,746.7 L616.1,740.0 M626.1,752.5 L632.8,751.7 M626.1,748.4 L638.7,746.7 L637.8,740.0 M638.7,746.7 L640.3,754.2 L651.2,754.2 L653.7,750.9 M640.3,754.2 L637.8,761.4 M576.8,776.0 L579.3,784.3 L589.3,789.3 L596.8,780.1 L594.3,771.8 M589.3,789.3 L594.3,796.0 L593.8,804.4 M591.8,793.5 L602.7,794.4 M579.3,784.3 L575.1,790.2 L566.7,791.0 M600.2,764.3 L615.2,770.1 L616.9,777.6 M564.2,782.7 L565.1,793.5 L554.2,793.2 L552.5,805.2 L561.7,803.6 M565.1,793.5 L560.0,801.9 L560.9,812.8 L566.7,813.6 M565.1,796.0 L572.6,801.1 M551.7,810.3 L555.0,818.6 M560.9,812.8 L557.5,817.8 L565.1,822.3 M559.2,807.8 L568.4,809.4 M665.4,742.5 L666.8,748.4 M663.8,742.5 L678.0,743.7 L680.5,750.9 M615.2,767.6 L613.2,774.1 M596.8,780.1 L601.6,779.6 M594.3,796.0 L601.2,795.8 M557.5,817.8 L552.3,819.6 M678.0,743.7 L683.4,739.5" stroke="#e38a57"/>
<path d="M555.0,740.0 L552.5,758.4 L550.0,760.1 M550.0,750.0 L560.9,751.7 M557.5,746.7 L565.9,750.9 L577.6,756.7 M565.9,750.9 L571.7,740.0 M571.7,740.0 L584.3,742.5 L585.1,745.9 M566.7,755.9 L571.7,759.2 M550.0,768.4 L557.5,769.3 M550.0,775.1 L555.0,774.8 M552.5,758.4 L550.8,785.2" stroke="#784b4f"/>
<path d="M702.4,759.8 L704.7,762.9 M703.4,779.6 L705.6,782.4 M706.1,769.2 L709.9,770.3 M690.2,791.0 L693.1,790.9 M675.4,772.9 L675.9,768.8 M648.9,776.6 L646.3,779.0 M632.0,777.3 L631.6,781.3 M620.3,773.8 L619.7,770.3 M613.0,786.8 L609.4,787.9 M630.4,784.7 L633.4,786.8 M603.3,794.2 L605.5,796.1 M602.8,801.6 L601.4,805.0 M588.4,811.8 L585.4,813.3 M593.5,817.5 L593.6,820.6 M603.4,813.0 L605.6,816.5 M610.0,812.6 L612.7,815.0 M594.0,823.5 L597.6,824.9 M572.0,844.0 L568.7,844.4 M581.7,830.6 L582.6,827.4 M589.5,836.0 L586.9,838.9 M584.1,846.4 L587.2,843.7 M591.0,850.9 L591.0,853.9 M554.8,873.6 L557.6,876.1" stroke="#175c17" stroke-width="1.5" stroke-linecap="butt"/>
<path d="M584.0,766.6 L587.5,768.6 M576.8,775.7 L575.8,779.6 M594.3,771.5 L594.9,774.8 M607.2,751.0 L604.3,750.1 M625.8,752.5 L630.0,752.9 M624.1,765.0 L626.9,765.6 M615.4,767.4 L613.1,770.8 M638.5,746.5 L640.9,749.3 M640.5,754.0 L638.4,756.7 M651.2,753.9 L651.4,757.9 M579.5,784.1 L576.7,786.3 M589.1,789.1 L590.9,791.4 M596.6,780.0 L600.0,781.5 M574.9,790.0 L577.2,791.8 M564.9,793.3 L566.8,796.7 M552.7,805.0 L550.9,807.7 M560.3,802.0 L556.9,800.4 M677.8,743.9 L680.2,741.2" stroke="#4a2e1e" stroke-width="1.5" stroke-linecap="butt"/>
</g>
<g clip-path="url(#cgB4)" fill="none" stroke-width="1.55" stroke-linejoin="round" stroke-linecap="round">
<path d="M513.6,838.9 L522.3,837.3 L531.2,844.8 L528.7,856.5 L520.0,855.7 L511.1,849.8 L513.6,838.9 M522.3,837.3 L526.2,827.2 M531.2,844.8 L541.2,843.6 L540.4,847.3 M520.0,855.7 L516.6,867.4 L506.9,870.7 L506.9,875.7 M516.6,867.4 L522.8,874.1 M528.7,856.5 L543.7,867.0 L555.4,866.0 L572.2,860.3 M543.7,867.0 L542.0,875.7 M545.4,862.4 L553.8,858.2 L557.1,872.4 M551.2,847.3 L553.8,858.2 M548.7,875.7 L554.6,874.9 L555.4,866.0 M559.6,851.5 L563.8,861.5 L566.3,872.7 M551.2,847.3 L557.1,844.8 M480.1,834.8 L481.8,842.3 M486.8,834.8 L492.7,833.9 L494.4,845.6 L492.7,849.8 M500.2,828.9 L513.6,838.9 M511.1,849.8 L505.1,851.6 M541.2,843.6 L546.6,840.0 M492.7,833.9 L496.8,829.3" stroke="#23dc23"/>
<path d="M530.9,844.7 L535.0,845.7 M528.4,856.3 L530.9,858.4 M507.2,870.8 L504.3,869.9 M543.9,866.8 L541.1,869.9 M553.5,858.3 L556.9,855.9 M554.3,874.8 L557.0,875.5 M492.5,834.2 L494.4,831.3 M494.1,845.7 L497.1,845.1" stroke="#175c17" stroke-width="1.5" stroke-linecap="butt"/>
</g>
<g clip-path="url(#cgC1)" fill="none" stroke-width="1.55" stroke-linejoin="round" stroke-linecap="round">
<path d="M743.7,787.0 L750.9,792.8 L761.8,789.5 L760.1,781.6 M743.7,787.0 L745.0,800.4 L749.2,794.5 M750.9,792.8 L751.7,800.4 L745.0,800.4 M746.4,791.2 L748.0,807.1 M751.7,800.4 L762.6,799.0 L761.8,789.5 M762.6,799.0 L767.6,807.1 L772.6,805.7 L788.5,801.2 L799.4,793.7 M763.4,793.7 L776.0,791.7 L781.0,797.4 M767.6,807.1 L765.1,800.4 M783.5,796.7 L788.5,801.2 L789.4,811.2 L774.3,817.1 L772.6,805.7 M796.1,786.2 L799.4,793.7 L806.9,796.2 L811.6,801.2 M774.3,817.1 L762.6,823.0 L764.8,828.8 M775.1,813.8 L780.2,817.9 L781.8,827.1 M789.4,811.2 L795.2,815.4 M792.7,811.2 L804.4,817.1 L814.5,810.4 L822.8,817.9 L821.2,824.6 L812.0,829.6 L804.9,823.0 L804.4,817.1 M814.5,810.4 L817.0,804.6 M812.8,805.7 L814.5,810.4 M822.8,817.9 L830.4,808.7 L836.2,810.4 M822.8,817.9 L828.3,822.1 M812.0,829.6 L802.8,832.2 L797.7,833.5 M812.0,829.6 L812.8,835.5 M802.8,832.2 L806.9,828.8 M821.2,824.6 L830.4,829.6 L837.0,835.5 L843.7,828.8 L852.1,829.6 L858.8,822.1 L868.0,819.1 M858.8,822.1 L856.8,816.3 M830.4,837.2 L837.0,835.5 L843.7,842.2 L838.7,848.0 L837.0,853.1 M843.7,842.2 L852.1,847.2 L855.4,854.1 M852.1,829.6 L853.8,835.5 M858.0,835.5 L864.6,843.0 L877.2,845.5 L893.1,843.0 M877.2,845.5 L879.7,838.5 M877.2,845.5 L877.5,854.1 M850.4,848.9 L853.8,845.5 M898.9,838.8 L904.8,842.2 L909.8,848.9 L904.0,853.1 M909.8,848.9 L915.0,846.4 M915.0,833.8 L909.8,848.9 M780.2,817.9 L783.4,814.4 M830.4,808.7 L827.9,804.2 M864.6,843.0 L863.4,847.8" stroke="#23dc23"/>
<path d="M744.2,803.7 L751.7,810.4 L760.1,806.7 M744.2,813.8 L751.7,810.4 L753.4,817.1 L755.9,824.6 L750.9,825.5 M745.9,807.1 L750.1,817.1 L755.9,824.6 L761.8,830.5 L765.9,833.8 L775.1,833.8 L774.3,828.8 L768.5,822.1 M750.9,836.3 L758.4,830.5 M763.4,835.5 L768.5,841.4 M775.1,833.8 L781.0,843.9 L790.2,840.5 L791.9,835.5 L786.9,824.6 L776.8,827.1 M781.0,843.9 L777.7,848.9 M781.0,843.9 L781.8,852.2 L771.0,853.1 M781.8,847.2 L787.7,848.9 M786.9,824.6 L792.7,823.8 M790.2,840.5 L801.9,834.7 L808.6,840.5 L818.6,842.2 L823.7,829.6 L829.5,823.0 M808.6,840.5 L805.3,847.2 L804.4,849.7 M808.6,840.5 L811.1,850.6 L813.6,854.1 M818.6,842.2 L822.0,848.0 L826.2,848.9 M817.8,843.0 L812.0,842.2 M821.2,824.6 L825.3,830.5 L832.9,834.7 L841.2,833.8 L842.1,827.1 M832.9,834.7 L832.0,844.7 M835.4,833.0 L848.8,836.3 L855.4,838.8 L858.8,827.1 L868.8,828.5 L877.2,828.0 L885.6,833.0 L891.4,828.0 L898.9,828.8 L909.8,823.8 L915.0,823.0 M848.8,836.3 L849.6,847.2 M841.2,833.8 L850.4,838.8 L859.6,843.9 M855.4,838.8 L852.1,842.2 M858.8,827.1 L866.3,830.5 L871.3,841.4 M873.8,819.6 L873.0,829.6 M876.4,819.1 L877.2,828.0 M890.6,819.6 L891.4,828.0 L891.4,836.3 M862.1,833.8 L873.8,833.0 M904.8,815.1 L909.8,823.8 L912.3,832.2 M894.8,824.6 L898.9,828.8 M774.3,828.8 L780.5,827.0 M811.1,850.6 L806.0,853.2 M885.6,833.0 L887.5,837.2" stroke="#e38a57"/>
<path d="M743.7,741.0 L747.5,738.5 L756.7,744.8 L765.9,738.1 L773.1,741.5 M765.9,738.1 L765.1,730.1 M765.9,738.1 L768.1,729.8 M756.7,744.8 L757.6,750.2 L756.7,756.9 L755.1,764.4 L761.8,766.9 L776.8,762.2 L778.8,773.6 L766.8,780.0 L760.9,778.6 L761.8,766.9 M756.7,746.0 L759.3,746.8 M743.7,755.2 L750.9,757.7 L757.6,755.5 L765.9,756.0 M750.9,757.7 L750.1,766.1 M776.8,762.2 L773.1,757.7 M776.8,762.2 L787.2,755.2 L798.9,764.4 M787.2,755.2 L784.9,749.9 M787.2,755.2 L790.2,750.2 M760.9,778.6 L751.7,783.6 L749.2,787.8 M766.8,780.0 L768.5,791.2 L761.8,792.3 M762.6,776.1 L765.9,783.6 M778.8,773.6 L783.5,774.9 L791.0,781.1 L801.9,773.6 L812.0,778.6 L808.6,788.7 L799.4,792.8 L791.0,788.7 L791.0,781.1 M801.9,773.6 L799.4,767.8 M801.9,773.6 L804.4,766.9 M812.0,778.6 L818.6,770.3 L815.6,766.6 M812.0,778.6 L815.6,782.3 M799.4,792.8 L799.4,802.0 L791.9,807.1 M799.4,802.0 L805.3,810.4 M796.1,803.7 L803.3,804.6 M808.6,788.7 L817.0,795.7 L826.2,796.7 L832.9,787.8 L842.1,790.3 L843.7,795.4 L835.4,802.9 L826.2,796.7 M826.7,778.6 L833.7,782.8 L832.9,787.8 M829.5,782.0 L833.7,785.3 M825.3,803.4 L843.7,804.1 M835.4,802.9 L837.4,810.4 M843.7,795.4 L853.8,797.0 L860.5,788.7 L857.1,783.3 M842.1,790.3 L848.8,779.5 L855.4,780.0 M860.5,788.7 L868.8,795.4 L864.6,802.0 L868.0,802.9 M868.8,795.4 L873.8,800.0 M860.5,788.7 L867.2,783.6 L873.0,773.6 L882.2,767.8 L893.9,767.8 M867.2,768.6 L873.0,766.9 L882.2,767.8 M873.0,766.9 L873.0,756.9 M864.6,769.4 L873.0,773.6 L886.4,782.0 M882.2,767.8 L879.2,780.3 L877.2,787.0 L868.8,795.4 M870.2,783.6 L877.2,787.0 L885.6,790.0 L891.4,785.3 M893.9,767.8 L899.8,777.0 L909.8,772.8 L912.3,765.2 L905.6,756.9 L893.9,761.1 L893.9,767.8 M885.6,752.2 L893.9,761.1 M905.6,756.9 L902.3,751.0 L909.0,747.7 M905.6,756.9 L907.3,751.9 M893.9,767.8 L898.1,762.2 M909.8,772.8 L915.0,782.0 M912.3,765.2 L915.0,764.4 M910.7,730.4 L915.0,730.9 M747.5,738.5 L747.6,732.6 M791.0,788.7 L784.6,790.7" stroke="#784b4f"/>
<path d="M750.9,792.5 L751.0,795.7 M745.1,800.1 L743.9,803.5 M751.6,800.1 L753.6,803.4 M767.7,806.8 L766.7,810.0 M789.2,811.0 L791.2,814.6 M799.5,793.4 L798.4,796.2 M762.9,823.1 L759.6,821.8 M779.9,818.0 L783.4,816.8 M814.5,810.7 L813.7,807.8 M821.0,824.4 L823.3,827.4 M805.2,822.9 L801.6,823.9 M837.1,835.2 L835.9,839.0 M843.7,829.1 L844.4,825.0 M852.1,829.3 L852.1,833.3 M843.4,842.1 L847.2,843.1 M864.8,842.8 L862.4,845.7" stroke="#175c17" stroke-width="1.5" stroke-linecap="butt"/>
<path d="M751.8,810.1 L750.5,813.7 M751.6,810.7 L752.9,807.5 M755.6,824.6 L758.4,824.7 M766.1,833.6 L763.7,836.7 M774.0,828.9 L777.6,827.9 M781.0,843.6 L781.3,846.4 M791.6,835.5 L795.1,835.5 M786.9,824.9 L786.5,822.2 M781.6,852.0 L784.2,854.6 M808.8,840.3 L806.0,843.1 M818.4,842.0 L820.7,844.2 M822.1,847.8 L820.8,850.7 M841.0,833.7 L843.7,835.1 M855.3,838.6 L857.3,841.1 M859.0,827.3 L856.7,825.3 M877.2,828.3 L877.1,825.1 M891.3,828.3 L892.5,824.2 M898.8,828.6 L900.4,831.0 M866.1,830.7 L868.2,828.1" stroke="#4a2e1e" stroke-width="1.5" stroke-linecap="butt"/>
<path d="M747.7,738.8 L746.5,736.0 M756.7,744.5 L757.4,747.6 M761.6,766.7 L763.0,769.0 M766.8,779.7 L766.8,783.3 M787.1,755.5 L788.1,751.8 M808.4,788.4 L810.8,791.3 M799.5,792.6 L797.6,796.2 M791.2,788.4 L789.9,790.9 M818.4,770.4 L820.8,769.0 M799.1,802.1 L801.8,801.8 M817.1,795.4 L815.8,798.6 M842.0,790.6 L842.8,787.9 M843.5,795.2 L846.6,797.9 M835.4,802.6 L835.5,806.1 M833.4,782.8 L837.6,783.3 M860.2,788.5 L863.8,790.0 M882.2,768.0 L882.6,764.1 M909.6,772.5 L912.0,775.4 M894.2,761.1 L891.3,760.2 M902.6,751.1 L899.2,749.8" stroke="#2c2020" stroke-width="1.5" stroke-linecap="butt"/>
</g>
<g clip-path="url(#cgC2)" fill="none" stroke-width="1.55" stroke-linejoin="round" stroke-linecap="round">
<path d="M1057.2,750.5 L1059.8,757.2 L1069.0,753.9 L1075.7,751.4 M1066.4,748.0 L1069.0,753.9 L1070.6,764.1 M982.0,756.4 L988.7,763.1 L995.4,759.7 M1024.6,759.7 L1024.6,764.1 M1039.7,763.1 L1043.0,761.4 L1045.5,764.1 M1059.8,757.2 L1059.0,762.0 M988.7,763.1 L985.6,769.3" stroke="#23dc23"/>
<path d="M1006.7,712.0 L1009.6,722.9 L1004.6,727.9 L1007.1,738.8 L1018.8,739.6 L1025.8,730.4 L1023.8,723.4 L1009.6,722.9 M992.8,727.9 L1004.6,727.9 M1023.8,723.4 L1024.1,715.7 M1023.8,723.4 L1038.8,724.6 L1043.9,713.7 L1045.5,705.4 L1044.7,692.8 M1038.8,724.6 L1042.2,733.8 L1051.4,733.0 L1053.1,717.1 L1047.2,718.7 M1037.2,710.4 L1043.9,713.7 L1053.1,715.4 M1041.4,708.7 L1053.9,710.4 M1042.2,733.8 L1034.7,739.6 M1042.2,733.8 L1042.2,742.2 M1043.9,733.8 L1049.7,738.8 L1051.4,745.2 M1051.4,733.0 L1056.4,736.3 M1053.1,717.1 L1060.6,720.4 L1067.3,713.7 L1077.3,715.4 L1078.7,724.6 M1067.3,713.7 L1066.4,703.7 M1057.2,703.7 L1060.6,711.2 L1067.3,713.7 L1069.0,723.8 M1060.6,711.2 L1055.6,714.6 M1018.8,739.6 L1021.3,748.0 L1030.5,748.5 M1021.3,748.0 L1018.8,757.2 L1017.9,763.1 M1007.1,738.8 L1002.0,743.8 L1001.7,753.9 L998.7,755.5 L988.7,754.7 L978.6,759.7 M1001.7,753.9 L1008.7,754.7 M998.7,755.5 L1001.2,764.1 M981.1,737.1 L978.6,744.7 L983.6,757.2 L988.7,754.7 L987.0,743.8 L982.0,743.0 M970.3,744.7 L978.6,744.7 M967.8,749.7 L962.7,754.7 L966.1,763.1 L973.6,764.1 M973.6,755.5 L982.0,760.6 M981.1,737.1 L984.5,738.8 M983.6,757.2 L980.3,764.1 M1025.8,730.4 L1031.9,732.5 M1002.0,743.8 L996.7,741.9 M962.7,754.7 L957.1,753.9" stroke="#e38a57"/>
<path d="M1074.0,617.5 L1069.0,626.7 L1060.6,625.9 L1054.7,620.9 M1060.6,625.9 L1055.6,636.8 L1044.7,640.1 L1037.2,636.8 L1025.5,638.8 L1024.1,651.0 L1034.7,655.2 L1043.9,651.8 L1044.7,640.1 M1037.2,636.8 L1036.3,625.9 L1043.9,622.5 M1025.5,638.8 L1019.6,634.3 L1022.1,627.6 M1024.1,651.0 L1017.1,653.5 M1024.1,651.0 L1016.3,660.2 L1009.6,650.1 L997.9,647.6 L999.5,644.3 M1009.6,650.1 L1013.8,643.1 M1043.9,651.8 L1045.5,659.3 L1056.4,660.5 M1045.5,659.3 L1041.9,666.9 M1044.7,652.7 L1048.9,653.5 M1006.2,661.0 L1022.1,660.5 M1016.3,660.2 L1008.7,670.2 L1012.9,681.1 L1008.7,690.0 L996.2,692.8 L982.0,697.8 L983.6,708.7 M1016.3,660.2 L1018.8,670.2 L1028.0,668.2 M1018.8,670.2 L1012.9,681.1 L1018.8,688.6 L1022.5,687.0 M1006.2,679.4 L1021.8,681.9 M988.7,687.3 L1002.0,687.8 M994.5,676.1 L995.4,687.8 L996.2,692.8 L997.4,697.8 M978.3,700.3 L983.6,708.7 L970.3,711.2 L966.1,715.4 L954.4,712.0 L946.8,721.2 L947.2,727.1 L957.7,732.5 L966.9,727.9 L966.1,715.4 M983.6,708.7 L996.2,702.8 L1000.4,707.9 M954.4,712.0 L953.5,705.4 L946.8,702.3 M946.8,721.2 L937.6,715.7 L931.8,720.4 M966.9,727.9 L975.3,740.5 M966.9,727.9 L972.8,730.8 M947.2,727.1 L936.0,739.6 L925.1,742.2 L920.9,746.3 L925.9,754.7 L939.3,753.9 L941.0,747.2 L936.0,739.6 M925.1,742.2 L920.9,730.4 L911.7,730.4 M915.9,725.1 L921.7,724.6 L920.9,730.4 M941.0,747.2 L953.5,748.8 M939.3,753.9 L944.3,762.2 L950.2,763.6 M925.9,754.7 L925.1,761.4 L916.7,764.1 M908.4,748.0 L903.3,752.2 L906.7,757.2 L911.7,764.1 M906.7,757.2 L900.0,758.9 M1060.6,621.7 L1068.1,626.7 L1075.7,625.9 M1069.0,626.7 L1075.7,636.8 L1074.8,646.8 M1061.4,636.8 L1065.6,631.7 L1069.0,626.7 M1067.3,643.5 L1075.7,636.8 M1063.9,620.0 L1069.0,626.7 L1074.0,620.0 M1008.7,690.0 L1012.7,692.6 M982.0,697.8 L977.4,696.8 M936.0,739.6 L939.3,743.9 M944.3,762.2 L940.5,767.0" stroke="#784b4f"/>
<path d="M988.6,762.8 L989.3,765.7" stroke="#175c17" stroke-width="1.5" stroke-linecap="butt"/>
<path d="M1009.3,722.9 L1012.4,722.8 M1004.9,728.0 L1001.7,727.8 M1018.8,739.3 L1018.7,743.4 M1025.5,730.5 L1028.4,729.8 M1023.7,723.7 L1024.8,720.8 M1038.6,724.4 L1041.0,725.8 M1051.3,732.7 L1053.0,736.2 M1052.8,717.3 L1055.5,714.8 M1049.5,739.0 L1051.9,736.8 M1060.7,720.1 L1059.3,724.1 M1067.5,714.0 L1065.7,711.4 M1067.0,713.9 L1070.2,712.0 M1021.4,747.7 L1020.3,750.6 M983.8,757.0 L981.9,760.2 M988.4,754.5 L991.5,756.5 M963.0,754.6 L960.4,755.5 M966.3,762.9 L962.7,764.8" stroke="#4a2e1e" stroke-width="1.5" stroke-linecap="butt"/>
<path d="M1068.9,626.4 L1070.1,629.9 M1060.8,625.7 L1057.6,628.3 M1044.6,639.8 L1045.5,642.7 M1043.8,651.5 L1045.4,655.4 M1036.6,626.0 L1033.6,624.8 M1019.9,634.1 L1017.2,635.7 M1016.2,659.9 L1016.5,663.2 M1009.0,670.4 L1005.5,668.4 M1012.7,681.0 L1016.3,682.9 M982.2,698.0 L979.3,695.9 M1019.0,670.1 L1015.4,672.1 M1019.0,688.4 L1015.9,691.3 M983.3,708.7 L986.0,708.3 M966.0,715.1 L966.6,718.7 M966.6,727.9 L969.7,728.7 M996.1,703.1 L996.9,699.7 M953.3,705.5 L956.7,703.9 M937.8,716.0 L936.2,713.8 M935.7,739.5 L938.1,741.2 M925.1,742.5 L924.8,738.4 M926.0,754.4 L924.8,757.5 M939.1,753.6 L941.3,756.4 M920.9,730.7 L921.2,727.9 M944.6,762.1 L940.9,764.0 M903.6,752.3 L900.1,751.2" stroke="#2c2020" stroke-width="1.5" stroke-linecap="butt"/>
</g>
<g clip-path="url(#cgC3)" fill="none" stroke-width="1.55" stroke-linejoin="round" stroke-linecap="round">
<path d="M1057.2,750.4 L1059.8,756.7 L1069.0,754.7 L1075.7,751.7 M1066.4,748.4 L1069.0,754.7 L1070.6,765.1 L1061.4,767.1 L1061.9,777.6 L1065.6,786.0 L1075.7,783.8 L1074.0,772.6 L1070.6,765.1 M1070.6,765.1 L1077.3,764.3 M1075.7,783.8 L1078.7,792.2 M1065.6,786.0 L1059.8,788.2 M1065.6,786.0 L1069.8,796.9 L1072.0,801.1 M1069.0,773.5 L1074.0,772.6 M1061.9,777.6 L1051.4,780.5 L1043.9,773.5 L1035.5,770.9 L1023.8,767.6 L1019.6,774.3 L1018.8,781.0 M1017.9,767.1 L1023.8,767.6 L1024.6,759.7 M1035.5,770.9 L1042.2,761.7 L1048.9,765.1 M1035.5,770.9 L1035.5,776.8 M1019.6,774.3 L1028.8,777.6 L1038.8,782.7 L1043.9,773.5 L1045.5,769.3 M1038.8,782.7 L1048.9,787.2 M1038.8,782.7 L1034.7,789.9 M1043.9,782.7 L1038.0,788.5 M1019.6,774.3 L1009.6,769.3 L1000.4,775.1 L992.0,767.6 L982.0,771.8 L980.3,779.3 L989.5,785.5 L999.5,781.0 L1000.4,775.1 M999.5,781.0 L1007.9,788.8 L1005.4,794.4 M989.5,785.5 L990.3,793.2 M992.0,767.6 L987.0,762.6 L982.0,756.7 M987.0,762.6 L995.4,760.1 M982.0,771.8 L985.3,766.8 M980.3,779.3 L973.6,781.8 L958.6,783.8 L957.7,774.3 M962.7,774.3 L963.2,783.5 L963.6,794.4 M950.2,778.5 L951.0,790.2 L946.8,795.2 M940.1,788.5 L950.2,788.5 L957.7,790.2 M951.0,790.2 L951.9,800.2 L960.2,803.2 M946.8,806.1 L946.0,812.8 L940.1,820.3 L936.0,830.3 L930.9,835.4 L929.3,845.4 L918.4,853.8 L907.5,865.5 L906.7,875.5 M933.5,813.6 L941.8,817.8 L953.5,819.5 M930.9,820.3 L940.1,825.3 L944.3,830.3 L943.5,835.0 M944.3,827.0 L955.2,824.5 L958.2,831.2 M923.4,831.2 L930.9,835.4 L936.0,835.0 M900.0,839.5 L905.0,842.9 L910.0,849.6 L915.1,857.9 L920.9,860.4 M903.3,853.8 L910.0,849.6 L914.2,845.7 M916.7,847.9 L925.9,859.6 L930.9,863.8 M925.9,859.6 L933.5,853.8 L936.0,848.4 M900.0,863.0 L907.5,868.0 L917.6,868.0 L925.9,859.6 M917.6,868.0 L921.4,875.5 M915.9,865.5 L917.6,868.0 M1042.2,761.7 L1040.7,756.1 M1007.9,788.8 L1014.2,788.3 M958.6,783.8 L955.8,788.5 M951.9,800.2 L946.4,803.4 M936.0,830.3 L940.8,834.0 M929.3,845.4 L934.3,848.1 M907.5,865.5 L902.1,861.6 M955.2,824.5 L960.2,819.4" stroke="#23dc23"/>
<path d="M970.3,745.0 L978.6,745.9 L979.5,740.0 M978.6,745.9 L981.1,755.1 L988.7,755.9 L987.0,745.0 L983.6,742.5 M988.7,755.9 L998.7,755.1 L1002.0,743.3 M998.7,755.1 L1002.9,765.9 M998.7,755.1 L1008.7,754.2 M973.6,755.9 L981.1,759.2 L980.3,768.4 L971.1,774.3 L961.9,770.1 L967.8,765.1 L973.6,763.4 M961.9,753.4 L967.8,765.1 M961.9,753.4 L967.8,749.7 M951.9,771.8 L961.9,770.1 M971.1,774.3 L971.9,783.5 L962.7,783.8 L951.9,786.5 L938.5,785.2 L934.3,771.8 M971.9,783.5 L973.6,794.4 L979.5,792.7 M971.9,787.7 L978.6,788.5 M951.9,786.5 L956.9,793.5 L953.5,803.6 L941.0,803.9 L936.0,793.9 L938.5,785.2 M936.0,793.9 L925.1,793.5 L923.4,796.9 M953.5,803.6 L958.6,812.8 L956.9,820.3 M958.6,812.8 L968.6,812.3 M941.0,803.9 L936.8,811.9 L929.3,818.6 L920.1,819.5 L916.7,811.9 M920.1,806.9 L922.6,815.3 M929.3,818.6 L930.9,828.7 M920.1,819.5 L910.9,822.8 L904.2,815.3 M910.9,822.8 L903.3,829.5 L900.0,828.7 M910.9,822.8 L913.4,832.8 M900.0,826.2 L905.0,825.3 M920.1,819.5 L919.2,826.2 L923.4,830.3 M962.7,783.8 L964.4,795.2 L963.6,805.2 M954.4,780.1 L951.9,786.5 M1020.4,740.0 L1021.3,747.5 L1030.5,748.0 M1021.3,747.5 L1018.8,756.7 L1017.9,762.6 M1040.5,746.7 L1041.4,740.0 M1049.7,740.0 L1051.4,745.0 M1001.2,740.0 L1002.9,746.7 M981.1,755.1 L977.3,759.5 M981.1,759.2 L986.3,756.3 M980.3,768.4 L985.3,772.5 M973.6,794.4 L970.1,799.3 M919.2,826.2 L913.9,828.2" stroke="#e38a57"/>
<path d="M920.9,745.9 L925.1,740.0 M920.9,745.9 L925.9,754.2 L939.3,753.4 L941.0,746.7 L936.0,740.0 M941.0,746.7 L953.5,748.4 M939.3,753.4 L944.3,761.7 L950.2,763.1 M925.9,754.2 L925.1,760.9 L911.7,765.9 L902.5,751.7 L908.4,747.5 M903.3,751.7 L906.7,756.7 M900.0,758.4 L906.7,756.7 M911.7,765.9 L910.9,773.5 L900.0,777.6 M910.9,773.5 L916.7,784.3 L926.8,781.8 M916.7,784.3 L915.1,791.0 M925.1,760.9 L929.5,765.6" stroke="#784b4f"/>
<path d="M1060.0,756.5 L1056.7,759.0 M1065.6,785.7 L1065.7,788.5 M1051.6,780.3 L1048.9,783.4 M1009.6,769.6 L1009.6,766.0 M982.3,771.9 L979.4,771.1 M999.3,780.8 L1002.1,782.8 M1007.6,788.8 L1011.6,790.0 M958.7,783.5 L957.5,786.4 M950.7,790.1 L954.1,791.2 M945.7,812.7 L948.9,813.2 M931.1,835.6 L929.0,831.9 M929.0,845.3 L932.1,846.6 M907.8,865.4 L905.0,865.7 M955.0,824.7 L957.7,821.9 M930.9,835.1 L931.6,837.8" stroke="#175c17" stroke-width="1.5" stroke-linecap="butt"/>
<path d="M988.4,755.8 L991.2,757.2 M998.5,754.8 L1000.8,757.4 M980.8,759.3 L984.9,758.9 M971.7,783.3 L974.1,786.2 M938.6,784.9 L937.7,787.7 M973.8,794.1 L971.5,797.0 M953.3,803.3 L955.5,806.1 M941.3,803.8 L937.4,805.6 M936.3,793.9 L932.7,794.0 M920.2,819.2 L918.8,822.2 M911.1,822.6 L908.4,825.7 M1021.4,747.2 L1020.7,750.0" stroke="#4a2e1e" stroke-width="1.5" stroke-linecap="butt"/>
<path d="M926.2,754.0 L922.8,756.4 M939.3,753.1 L939.8,757.3 M940.7,746.7 L944.5,746.7 M924.9,760.7 L927.6,762.9 M902.8,751.8 L899.3,751.0" stroke="#2c2020" stroke-width="1.5" stroke-linecap="butt"/>
</g>
<g clip-path="url(#cgC4)" fill="none" stroke-width="1.55" stroke-linejoin="round" stroke-linecap="round">
<path d="M837.0,849.8 L842.8,854.3 M851.2,845.6 L856.2,854.0 L857.0,863.2 M860.4,838.9 L867.1,844.3 L877.1,845.6 L887.1,844.0 L893.8,843.6 M877.1,845.6 L877.9,853.2 L884.6,859.8 L888.8,863.2 L902.2,862.7 L907.5,868.2 L905.5,875.7 M869.6,860.3 L873.8,864.9 L884.6,859.8 M888.8,863.2 L888.0,871.6 M880.4,869.9 L888.8,866.5 L894.7,872.1 M887.1,856.5 L893.8,853.2 M898.8,838.9 L905.5,842.3 L910.6,849.0 L915.6,857.3 L921.4,860.7 M903.9,853.2 L910.6,849.0 L914.7,845.6 M907.5,868.2 L918.1,868.2 L926.4,859.8 L931.5,864.0 M918.1,868.2 L921.4,875.7 M917.2,849.0 L926.4,859.8 L934.0,854.0 L936.5,848.6 M902.2,862.7 L905.6,857.1 M915.6,857.3 L912.1,861.6" stroke="#23dc23"/>
<path d="M770.9,853.2 L781.7,852.0 L784.3,859.8 M781.7,852.0 L780.9,845.6 M781.7,852.0 L787.6,848.6 M804.3,849.8 L808.5,843.1 L813.5,854.8 M818.6,843.1 L826.1,849.8 L822.7,852.3 M847.8,840.6 L849.5,849.0 M808.5,843.1 L808.0,837.9" stroke="#e38a57"/>
<path d="M867.2,844.0 L865.2,847.2 M888.8,862.9 L889.1,865.8 M902.0,862.9 L904.0,859.8 M873.9,864.6 L872.4,868.1 M915.7,857.1 L914.1,859.8 M917.9,868.0 L919.8,870.5 M926.3,859.6 L927.5,862.1" stroke="#175c17" stroke-width="1.5" stroke-linecap="butt"/>
</g>
<rect x="120.00" y="770.00" width="90.00" height="77.00" fill="#fff" stroke="none" stroke-width="1"/>
<g clip-path="url(#cgF1)" fill="none" stroke-width="1.55" stroke-linejoin="round" stroke-linecap="round">
<path d="M120.0,798.4 L125.4,801.4 M127.5,803.0 L133.0,807.6 L142.6,806.1 M133.0,807.6 L129.2,816.0 L125.0,814.7 L120.0,823.5 M129.2,816.0 L134.6,820.2 L140.9,826.9 L152.2,827.7 L154.3,825.2 L150.9,815.2 L146.8,816.0 M154.3,825.2 L166.0,826.5 L169.8,820.2 M152.2,827.7 L154.7,838.6 L165.2,839.4 L169.8,836.1 L166.0,826.5 M169.8,836.1 L181.1,836.5 L187.3,831.5 L188.6,821.0 L194.0,815.6 L194.4,806.8 M165.2,839.4 L165.6,847.0 M169.8,836.1 L168.5,842.3 M187.3,831.5 L197.8,836.1 L204.5,831.5 L204.5,820.2 L194.0,815.6 M189.8,815.6 L194.0,815.6 M197.8,836.1 L198.2,847.0 M204.5,831.5 L210.0,833.6 M204.5,820.2 L210.0,817.7 M199.5,820.2 L204.5,820.2 M185.2,796.8 L186.1,800.1 L191.9,802.6 M186.9,792.6 L185.2,796.8 M202.0,806.0 L206.1,815.2 L210.0,815.6 M209.5,780.0 L208.7,790.9 L210.0,797.6 M206.1,795.9 L210.0,799.3 M120.0,827.7 L128.4,832.3 L134.6,834.0 L130.0,839.0 M134.6,834.0 L142.2,839.4 L144.3,844.9 M128.4,832.3 L124.2,839.4 L120.0,842.8 M129.2,829.4 L133.0,828.5 M134.6,834.0 L136.7,826.9" stroke="#23dc23"/>
<path d="M205.3,770.0 L205.7,780.0 L196.1,783.8 L193.6,778.4 M196.1,783.8 L187.7,785.1 L188.6,790.9 L181.5,794.3 M187.7,785.1 L190.3,795.1 L191.9,802.6 L192.3,809.3 M188.6,790.9 L195.3,795.9 L199.5,793.4 L207.8,791.7 M196.1,783.8 L198.6,790.1 L200.3,802.6 L200.7,809.3 M190.3,795.1 L195.3,795.9 M191.9,802.6 L200.3,802.6 L210.0,802.2 M191.9,802.6 L183.6,804.7 L177.7,809.3 L175.6,811.0 L166.0,803.9 L161.8,801.4 L154.3,797.2 M161.8,801.4 L168.1,793.4 L173.5,797.6 M161.8,801.4 L161.0,806.8 L157.2,809.3 L150.9,814.3 L145.1,819.8 M166.0,803.9 L167.3,797.6 M157.2,809.3 L161.0,810.6 L168.5,818.1 L175.2,819.3 L175.6,811.0 M168.5,818.1 L166.0,825.2 M175.6,811.0 L177.7,805.1 M175.2,819.3 L176.9,815.6 L184.4,818.9 M174.4,820.6 L175.6,816.8 M145.1,819.8 L140.1,819.3 L139.7,813.5 L145.1,808.5 M145.1,819.8 L147.6,828.5 M140.1,819.3 L134.6,820.2 L133.4,811.0 M134.6,820.2 L127.5,823.5 L120.0,822.3 M127.5,823.5 L125.9,815.2 M127.5,823.5 L127.9,832.7 M120.0,827.7 L122.5,830.2 L127.5,823.5 M134.6,820.2 L139.2,825.2 L141.3,832.7 M139.2,825.2 L149.3,824.8 M120.0,835.2 L124.2,839.0 M136.7,826.9 L144.3,820.2" stroke="#e38a57"/>
<path d="M120.0,777.9 L124.6,777.1 L130.0,778.8 M124.6,770.0 L124.6,777.1 L125.4,782.5 L136.3,782.4 L138.8,772.5 L137.6,770.0 M138.8,772.5 L149.3,772.3 L151.4,770.0 M136.3,782.4 L140.9,785.5 M134.6,784.2 L137.6,785.9 L144.3,795.9 M150.5,777.9 L156.8,776.0 L161.0,770.0 M162.7,770.0 L167.3,773.5 M171.4,773.3 L173.5,770.0" stroke="#784b4f"/>
<path d="M133.0,807.3 L132.2,810.7 M129.0,815.8 L131.2,817.5 M125.0,815.0 L124.7,811.2 M150.9,815.5 L151.4,812.5 M166.0,826.2 L165.7,830.4 M165.1,839.1 L166.1,842.5 M169.5,836.0 L172.8,836.5 M180.9,836.2 L182.2,839.4 M187.1,831.3 L190.1,833.4 M188.8,821.2 L185.7,819.3 M193.7,815.5 L196.8,815.9 M197.6,835.8 L199.1,838.3 M204.3,831.2 L206.4,834.9 M134.3,834.0 L138.2,833.9 M142.0,839.6 L144.3,837.3" stroke="#175c17" stroke-width="1.5" stroke-linecap="butt"/>
<path d="M188.3,790.8 L191.4,791.9 M168.3,793.6 L166.5,791.6 M168.6,817.8 L167.2,820.9 M140.3,819.1 L138.1,821.7 M140.0,813.5 L136.8,813.2 M134.8,819.9 L133.2,822.8" stroke="#4a2e1e" stroke-width="1.5" stroke-linecap="butt"/>
<path d="M125.6,782.3 L123.1,784.9 M136.1,782.2 L138.5,784.5 M156.7,775.8 L158.3,779.1" stroke="#2c2020" stroke-width="1.5" stroke-linecap="butt"/>
</g>
<rect x="30.00" y="780.00" width="90.00" height="77.00" fill="#fff" stroke="none" stroke-width="1"/>
<g clip-path="url(#cgF2)" fill="none" stroke-width="1.55" stroke-linejoin="round" stroke-linecap="round">
<path d="M32.1,784.2 L39.2,782.5 L40.9,791.7 L42.5,799.7 L51.3,800.1 L51.7,811.8 M39.2,782.5 L38.4,780.0 M40.9,791.7 L47.6,789.2 L48.0,794.6 M39.6,796.3 L42.5,799.7 M51.3,800.1 L57.6,797.1 M47.6,795.1 L52.6,795.5 L63.5,792.5 L76.8,790.0 L78.1,783.3 L80.2,780.0 M63.5,785.0 L63.5,792.5 L68.9,800.1 M62.6,797.6 L64.3,793.4 M76.8,790.0 L81.0,795.1 M79.3,789.6 L80.2,796.7 M84.8,795.9 L93.1,793.0 L101.1,800.9 L98.6,804.3 L96.9,809.3 L103.6,816.0 L110.3,813.0 L113.6,805.1 L115.3,802.6 L110.3,798.8 L106.5,795.9 L111.5,786.3 M106.5,795.9 L101.9,800.9 M115.3,802.6 L120.0,804.3 M117.0,798.4 L120.0,797.6 M110.3,813.0 L117.0,819.3 L120.0,820.1 M104.9,812.6 L108.6,816.8 M103.6,816.0 L101.1,823.5 L94.4,828.1 L91.9,825.6 L92.3,833.5 M101.1,823.5 L96.9,830.2 M94.4,828.1 L97.7,828.5 M73.1,808.9 L84.4,806.8 L84.8,812.2 M84.4,806.8 L85.2,804.3 M89.8,803.4 L92.7,803.0 M55.1,812.2 L62.2,814.3 M32.1,792.5 L33.8,793.8" stroke="#23dc23"/>
<path d="M32.1,804.3 L35.0,806.8 L36.3,813.5 L38.8,819.3 L42.5,823.5 L50.1,821.4 L51.7,828.5 L53.4,829.3 M32.1,820.1 L38.8,817.2 L44.6,816.8 L50.9,812.6 L60.1,808.4 L70.1,815.1 L69.3,821.8 L73.5,828.1 L71.8,831.9 L79.3,829.3 L83.5,836.9 L81.9,846.9 M38.4,809.3 L43.4,807.2 L44.6,816.8 L48.4,821.8 M46.3,807.2 L50.9,813.5 L51.7,821.0 M50.1,821.4 L60.9,819.3 L69.3,821.8 M60.1,813.5 L60.5,826.0 L65.1,823.5 M61.4,805.1 L66.4,803.8 L70.1,815.1 L76.8,812.6 L83.5,807.2 M64.3,816.8 L70.1,813.5 M70.1,815.1 L75.2,819.3 L80.2,817.6 L89.4,816.0 L98.6,818.1 L105.3,823.5 L114.5,825.6 L120.0,828.5 M75.2,819.3 L78.5,826.8 L85.6,826.0 L80.2,817.6 M71.0,821.8 L71.8,828.1 M89.4,807.6 L89.8,816.0 L93.6,822.7 L101.9,829.3 L111.1,832.7 L120.0,835.2 M89.4,816.0 L86.9,821.8 M93.6,822.7 L89.4,829.3 M101.9,829.3 L97.7,837.7 L92.7,834.4 L83.5,836.9 M99.4,818.1 L101.9,810.9 M105.3,823.5 L102.8,830.2 M111.1,832.7 L109.0,840.2 M114.5,825.6 L117.0,818.9 M113.6,825.2 L111.1,832.7 M32.1,832.3 L36.7,834.8 M32.5,788.4 L36.7,787.5 M32.9,795.9 L33.3,800.1 M79.3,829.3 L71.8,832.3 M73.5,816.0 L76.8,819.3 L80.2,821.8" stroke="#e38a57"/>
<path d="M70.1,821.8 L88.5,816.8 M78.5,828.5 L85.6,825.8 M60.5,819.3 L60.5,826.0" stroke="#9a5a3a"/>
<path d="M44.2,788.4 L46.7,783.3 L60.1,782.5 L61.8,790.0 M60.1,782.5 L63.5,782.1 L70.1,785.4 M45.1,794.6 L44.2,788.4 M84.4,780.0 L89.8,786.7 L99.8,787.1 L105.3,780.0 M99.8,787.1 L102.8,793.4 L112.0,798.0 M102.8,793.4 L99.4,802.6 M96.9,788.4 L96.9,793.4" stroke="#784b4f"/>
<path d="M39.1,782.8 L39.7,779.9 M42.8,799.5 L39.8,801.8 M51.0,800.2 L54.9,798.9 M47.6,789.5 L47.6,786.7 M63.8,792.5 L60.1,793.1 M93.2,793.3 L93.0,790.1 M110.0,812.9 L112.8,814.4 M100.8,823.4 L103.7,824.5 M84.1,806.9 L87.3,804.7" stroke="#175c17" stroke-width="1.5" stroke-linecap="butt"/>
<path d="M49.9,821.6 L52.7,819.0 M44.6,816.5 L45.4,820.0 M60.1,808.7 L59.9,805.5 M69.8,815.1 L74.0,815.4 M69.6,821.7 L66.3,822.7 M73.2,828.1 L76.7,827.8 M79.2,829.6 L80.9,826.4 M83.2,836.8 L87.2,838.1 M44.9,816.7 L41.9,818.2 M50.7,813.6 L53.4,811.9 M70.1,814.8 L70.4,817.6 M75.3,819.0 L73.8,822.5 M78.7,826.6 L76.5,829.5 M92.7,834.7 L92.9,831.3" stroke="#4a2e1e" stroke-width="1.5" stroke-linecap="butt"/>
<path d="M59.9,782.7 L63.0,780.4 M89.9,786.4 L88.9,789.5 M99.7,786.8 L101.3,789.9 M103.0,793.2 L100.2,795.5" stroke="#2c2020" stroke-width="1.5" stroke-linecap="butt"/>
</g>
<rect x="266.00" y="620.00" width="88.00" height="77.00" fill="#fff" stroke="none" stroke-width="1"/>
<g clip-path="url(#cgF3)" fill="none" stroke-width="1.55" stroke-linejoin="round" stroke-linecap="round">
<path d="M266.0,657.2 L268.9,652.6 M266.0,661.8 L270.6,668.9 L280.2,670.6 L286.9,663.1 L294.4,658.9 L291.1,653.5 L298.2,648.0 L294.4,640.5 L299.9,635.5 M294.4,640.5 L287.7,636.7 M290.3,642.6 L291.5,647.2 L294.4,645.1 M298.2,648.0 L302.0,642.6 M298.2,648.0 L307.0,653.9 L314.5,647.6 L319.5,651.8 L315.3,658.9 M307.0,653.9 L311.6,660.6 L303.2,666.0 L294.4,658.9 M294.4,658.9 L298.2,653.5 M303.6,659.3 L307.0,653.9 M311.6,660.6 L314.5,656.0 M311.6,660.6 L319.5,666.8 L316.6,673.9 M303.2,666.0 L306.6,672.7 L301.5,678.5 M299.5,671.0 L303.2,666.0 M270.6,668.9 L266.0,675.2 M280.2,670.6 L284.0,681.1 L276.5,689.4 L266.0,686.1 M284.0,681.1 L292.3,684.4 M276.5,689.4 L280.2,697.0 M314.5,647.6 L318.3,644.7 L309.9,642.2 M318.3,644.7 L324.5,635.9 L321.2,629.6 L318.3,635.1 M324.5,635.9 L323.7,630.9 M324.5,635.9 L335.4,639.7 L337.1,647.6 L328.7,655.5 L318.7,652.2 L318.3,644.7 M319.5,649.3 L327.9,649.3 M329.6,638.8 L337.1,641.7 L348.0,645.1 L352.6,637.1 L340.9,631.3 L335.8,638.8 M335.4,639.7 L340.4,633.4 M337.1,641.7 L342.5,637.6 M337.1,647.6 L343.8,651.4 M337.1,643.4 L337.9,650.5 M348.0,645.1 L347.1,652.2 M352.6,637.1 L353.0,630.5" stroke="#784b4f"/>
<path d="M270.7,668.6 L270.0,671.6 M294.1,658.9 L297.1,658.5 M291.4,653.6 L287.9,651.6 M297.9,648.1 L300.9,647.7 M294.7,640.6 L291.3,639.7 M306.9,653.6 L307.9,656.6 M314.5,647.9 L315.0,644.2 M311.3,660.5 L314.8,661.5 M306.3,672.6 L309.8,673.5 M283.7,681.0 L287.1,681.5 M276.3,689.1 L277.6,692.2 M318.0,644.8 L320.9,643.5 M335.2,639.9 L337.4,637.4 M328.6,655.3 L330.2,657.9 M348.0,644.8 L347.2,649.0 M341.1,631.5 L339.1,629.6" stroke="#2c2020" stroke-width="1.5" stroke-linecap="butt"/>
</g>
<rect x="266.00" y="697.00" width="88.00" height="73.00" fill="#fff" stroke="none" stroke-width="1"/>
<g clip-path="url(#cgF4)" fill="none" stroke-width="1.55" stroke-linejoin="round" stroke-linecap="round">
<path d="M320.8,758.2 L319.9,762.4 L328.7,769.1 L335.8,763.7 M296.1,766.6 L296.5,770.0" stroke="#23dc23"/>
<path d="M306.1,700.5 L305.3,708.5 L300.3,717.3 L290.3,713.1 M300.3,706.8 L305.3,708.5 L314.9,713.1 L320.4,714.7 M300.3,717.3 L304.1,719.3 M300.3,717.3 L298.6,727.3 L295.7,735.2 L285.2,737.3 L283.1,747.4 L272.3,750.3 L266.0,743.2 M293.6,725.2 L298.6,727.3 L309.5,729.8 L314.1,731.9 M309.5,729.8 L313.3,721.4 L314.9,713.1 L319.5,704.7 L315.8,699.3 M314.9,713.1 L310.3,713.9 L309.9,717.7 M309.5,729.8 L308.7,738.2 L316.2,740.3 M308.7,738.2 L304.9,745.3 M308.7,738.2 L302.4,734.4 L300.3,740.3 M285.2,737.3 L279.0,729.8 L268.9,731.5 L266.0,739.8 M268.9,731.5 L266.0,726.5 M283.1,747.4 L289.4,755.3 L296.1,754.7 M272.3,750.3 L269.3,759.5 L274.4,764.5 M266.0,719.8 L268.9,716.0 M286.5,717.7 L290.3,713.1 M312.4,708.1 L319.5,704.7 L324.5,708.5 L335.4,703.9 L335.8,697.2 M324.5,708.5 L325.8,717.3 M319.5,704.7 L322.9,707.6 L335.4,703.0 M335.4,703.9 L339.6,708.1 L343.4,712.7 L349.2,714.7 L349.6,708.5 L353.4,706.8 M339.6,708.1 L338.8,718.1 M343.4,712.7 L342.9,717.7 M332.5,716.4 L339.6,713.5 L349.2,714.7 L349.2,723.1 M343.4,710.6 L349.6,708.5 L349.6,700.1" stroke="#e38a57"/>
<path d="M276.5,693.0 L281.5,698.0" stroke="#784b4f"/>
<path d="M328.6,768.8 L329.7,771.6" stroke="#175c17" stroke-width="1.5" stroke-linecap="butt"/>
<path d="M302.5,734.7 L300.8,731.9 M278.8,730.0 L281.6,727.1 M289.6,755.1 L286.7,757.9 M324.7,708.2 L323.3,711.8 M323.0,707.4 L321.8,710.8 M343.4,712.4 L342.9,715.2 M349.1,714.5 L350.4,718.0 M349.9,708.5 L347.1,708.2 M339.6,713.8 L339.3,710.3" stroke="#4a2e1e" stroke-width="1.5" stroke-linecap="butt"/>
</g>
<rect x="176.00" y="693.00" width="90.00" height="77.00" fill="#fff" stroke="none" stroke-width="1"/>
<g clip-path="url(#cgF5)" fill="none" stroke-width="1.55" stroke-linejoin="round" stroke-linecap="round">
<path d="M247.9,769.1 L255.9,767.4 M229.5,767.0 L231.2,767.9" stroke="#23dc23"/>
<path d="M204.4,741.5 L206.5,748.2 L205.3,752.4 L197.7,750.7 M206.5,748.2 L211.5,748.6 M205.3,752.4 L207.4,763.3 L212.8,765.8 L224.5,764.9 L230.4,768.3 M207.4,763.3 L201.9,766.6 L197.3,767.0 L203.6,770.0 M212.8,765.8 L212.4,757.4 L218.2,756.1 L224.5,754.9 L230.4,747.8 L225.8,741.1 M230.4,747.8 L235.0,750.7 L240.8,757.4 M230.4,747.8 L239.6,743.6 L234.5,737.3 L229.5,741.5 M235.0,750.7 L228.7,754.9 L225.8,764.9 M239.6,743.6 L242.1,750.7 M239.6,743.6 L245.4,735.7 L247.5,738.6 L248.3,731.5 M234.5,737.3 L242.1,743.2 L248.8,746.5 L254.2,752.4 M248.8,746.5 L244.6,752.4 M248.8,746.5 L253.4,739.4 L256.7,741.5 M247.5,738.6 L256.3,744.4 L266.0,742.3 M266.0,738.2 L264.7,741.5 M256.3,721.0 L263.8,723.1 L258.4,729.4 M263.8,723.1 L266.0,719.8 M263.8,723.1 L266.0,726.5 M212.8,765.8 L204.9,770.0 M224.5,764.9 L231.2,770.0 M201.9,766.6 L212.8,770.0" stroke="#e38a57"/>
<path d="M176.0,738.2 L183.1,738.6 L190.6,730.2 L198.2,731.5 L204.0,722.3 L199.0,715.6 M183.1,738.6 L186.9,747.8 L194.4,741.1 L191.5,730.6 M194.4,741.1 L203.6,743.2 M186.9,747.8 L189.8,756.1 M186.9,747.8 L178.5,746.1 L176.0,749.0 M176.0,757.4 L177.7,759.1 M179.3,734.0 L183.5,727.3 L190.6,730.2 L186.0,722.3 M190.6,730.2 L198.2,724.8 M204.0,722.3 L210.3,719.8 L215.3,712.7 L221.2,710.1 L227.4,703.9 M204.0,722.3 L210.7,725.2 L214.9,731.5 M204.4,728.1 L210.7,725.2 L217.0,717.3 L223.3,712.2 L229.5,705.5 L239.6,706.4 L245.4,703.0 L248.8,693.0 M212.4,704.7 L217.0,712.7 L222.8,719.3 L227.9,714.7 M212.8,710.1 L218.7,716.4 M216.1,707.6 L223.7,711.8 L228.7,720.6 M222.0,724.4 L227.0,718.9 M239.6,706.4 L237.9,693.8 M239.6,706.4 L242.9,713.1 M245.4,703.0 L251.3,709.3 M241.2,703.0 L243.7,698.0 L248.8,696.8 L258.8,700.1 M241.2,694.3 L245.4,696.3 M248.8,693.0 L259.6,694.3 L262.1,693.0" stroke="#784b4f"/>
<path d="M207.5,763.0 L206.6,765.6 M224.5,765.2 L224.2,762.2 M230.1,747.8 L233.2,747.2 M234.6,737.6 L234.2,734.4 M228.9,755.0 L226.1,753.3 M256.2,744.2 L257.2,746.7 M263.5,723.0 L267.6,723.9" stroke="#4a2e1e" stroke-width="1.5" stroke-linecap="butt"/>
<path d="M183.1,738.3 L183.1,742.3 M203.7,722.2 L207.5,723.8 M186.9,747.5 L186.8,750.7 M183.5,727.6 L184.4,723.5 M190.4,730.0 L193.1,732.3 M215.5,712.9 L213.5,709.8 M245.1,702.9 L248.0,704.1 M222.9,719.1 L221.6,722.7 M243.8,698.3 L242.9,694.3" stroke="#2c2020" stroke-width="1.5" stroke-linecap="butt"/>
</g>
<rect x="389.20" y="765.00" width="88.80" height="77.00" fill="#fff" stroke="none" stroke-width="1"/>
<g clip-path="url(#cgF6)" fill="none" stroke-width="1.55" stroke-linejoin="round" stroke-linecap="round">
<path d="M390.1,774.6 L397.6,772.1 L399.7,780.1 L411.0,783.0 L416.4,774.6 L421.5,775.5 M399.7,780.1 L392.2,789.3 L395.1,797.6 L405.1,801.4 L411.8,791.8 L411.0,783.0 M411.0,783.0 L414.8,785.9 M405.1,801.4 L405.1,810.2 L398.9,816.9 M405.1,810.2 L415.2,816.9 M403.1,810.2 L405.1,810.2 M409.3,791.8 L415.6,794.3 L422.7,797.2 L429.8,793.9 L438.6,786.7 L446.5,784.2 L449.9,780.9 L454.1,777.5 L460.3,779.2 M439.4,780.1 L445.3,785.5 L449.1,793.4 L454.5,798.9 M449.1,793.4 L441.5,800.1 L434.4,799.7 M425.2,790.5 L429.8,793.9 L433.6,803.1 L439.4,802.2 L443.2,812.3 L436.5,815.6 M433.6,803.1 L429.8,808.5 L422.3,813.1 M446.5,765.0 L450.7,766.7 L452.8,777.5 M452.4,791.8 L460.8,798.0 L469.1,791.8 L465.8,785.5 M469.1,791.8 L475.0,786.7 M469.1,791.8 L478.0,798.5 M460.8,798.0 L456.6,804.3 L460.8,809.3 L464.5,817.3 M460.8,798.0 L463.7,803.9 M470.4,803.1 L474.1,807.7 L478.0,810.2 M476.7,798.5 L475.0,804.3 M468.3,808.5 L474.1,807.7 M460.8,809.3 L459.9,820.2 L464.5,826.5 M451.6,822.3 L459.9,820.2" stroke="#23dc23"/>
<path d="M389.7,772.5 L395.9,771.7 M389.3,788.4 L391.8,790.9 L390.1,801.0 L399.7,805.1 L404.7,808.5 L415.2,804.7 L415.6,793.4 L411.8,790.1 M415.6,793.4 L427.3,788.8 M404.7,808.5 L404.3,820.2 L393.4,822.7 L393.9,830.2 M404.3,820.2 L408.9,822.7 L409.3,834.4 L406.4,834.0 M408.9,822.7 L419.8,819.4 L429.8,816.9 L434.8,813.5 M415.2,804.7 L419.8,808.1 L419.8,819.4 L426.5,821.9 M421.5,795.9 L424.0,801.0 L427.3,811.8 L429.8,816.9 L433.6,826.9 L426.9,829.0 M420.6,811.8 L427.3,811.8 L437.3,807.7 L443.2,805.1 M433.6,826.9 L442.4,825.2 L441.9,817.7 L437.3,807.7 L435.7,800.1 L441.5,800.1 M433.6,826.9 L434.0,834.4 L435.7,842.0 M426.5,836.5 L434.0,834.4 L441.1,833.6 M436.5,820.2 L450.7,813.9 L457.4,819.4 L461.6,813.1 L459.9,806.0 L458.3,803.9 M457.4,819.4 L462.0,827.3 L463.3,835.7 L467.5,831.9 M462.0,827.3 L458.7,831.9 M450.3,821.5 L457.4,819.4 M461.6,813.1 L472.5,808.5 L478.0,816.0 M462.0,827.3 L472.5,825.2 L478.0,830.2 M472.5,825.2 L478.0,819.4 M468.3,825.2 L471.6,821.9 L473.3,825.2 M474.1,804.3 L478.0,805.1" stroke="#e38a57"/>
<path d="M415.6,805.1 L419.8,808.1 M404.3,820.2 L408.9,822.7 M434.0,826.9 L442.4,825.2 L441.9,818.5 M428.1,813.5 L429.8,816.9 M400.5,805.1 L404.7,808.5" stroke="#9a5a3a"/>
<path d="M399.3,767.9 L402.6,769.2 L408.1,765.0 M413.1,769.2 L418.9,766.7 L415.6,765.0 M418.9,766.7 L424.0,775.5 L424.0,779.6 M418.9,766.7 L421.5,765.0 M436.1,765.0 L440.7,767.5 L441.5,774.2 L449.9,780.9 L458.7,774.6 L459.1,765.0 M440.7,767.5 L442.4,771.7 M458.7,774.6 L467.0,780.5 L478.0,778.8 M456.6,770.9 L458.7,774.6 M459.9,766.7 L462.4,768.8 M449.9,780.9 L448.2,790.9 L442.4,795.9 M448.2,790.9 L454.9,796.4 M436.5,793.4 L443.2,788.8 L448.2,790.9 M475.8,775.9 L475.8,782.6 L478.0,783.4" stroke="#784b4f"/>
<path d="M411.1,782.7 L410.3,786.9 M392.4,789.4 L389.0,787.3 M411.6,791.7 L415.0,792.9 M422.6,796.9 L423.6,799.9 M441.4,799.9 L443.0,802.8 M433.8,802.9 L430.2,805.0 M450.5,766.8 L453.5,764.8 M460.8,797.7 L460.6,801.3 M468.9,791.6 L472.1,794.2 M456.9,804.2 L454.3,805.5" stroke="#175c17" stroke-width="1.5" stroke-linecap="butt"/>
<path d="M390.4,800.8 L387.3,802.5 M404.6,808.2 L405.7,810.9 M415.1,804.4 L416.6,808.4 M415.3,793.5 L419.0,792.8 M393.6,823.0 L391.4,819.7 M408.7,822.9 L411.0,820.7 M419.5,808.2 L422.6,806.6 M420.1,819.2 L416.7,820.9 M433.3,826.7 L436.4,828.8 M436.0,800.2 L433.2,799.7 M450.6,814.2 L451.6,810.7 M463.2,835.4 L463.6,838.2" stroke="#4a2e1e" stroke-width="1.5" stroke-linecap="butt"/>
<path d="M423.7,775.4 L427.7,776.0 M441.7,773.9 L440.4,776.4 M449.7,780.6 L451.2,782.9 M443.3,789.1 L442.7,785.8" stroke="#2c2020" stroke-width="1.5" stroke-linecap="butt"/>
</g>
<rect x="478.00" y="765.00" width="90.00" height="77.00" fill="#fff" stroke="none" stroke-width="1"/>
<g clip-path="url(#cgF7)" fill="none" stroke-width="1.55" stroke-linejoin="round" stroke-linecap="round">
<path d="M478.0,797.2 L485.9,792.2 L492.2,796.4 M478.0,798.5 L480.1,802.2 M505.2,804.3 L507.3,810.2 L514.8,811.8 M507.3,810.2 L498.9,816.0 L494.7,813.5 M478.0,810.2 L483.0,815.2 L487.2,821.0 L488.5,829.0 L480.5,834.4 L481.3,842.0 M488.5,829.0 L493.5,829.4 M486.4,834.4 L492.2,834.4 L493.1,842.0 M488.5,829.0 L492.2,834.4 L497.2,831.1 L499.7,826.9 L498.9,818.5 M499.7,826.9 L507.3,827.7 M500.6,829.0 L506.4,834.4 L514.0,839.0 L522.3,836.9 L526.5,827.3 L520.7,822.7 M514.0,839.0 L513.1,842.0 M522.3,836.9 L528.2,841.5 M563.3,826.1 L568.0,827.7 M565.8,835.3 L568.0,831.1" stroke="#23dc23"/>
<path d="M478.0,805.1 L481.3,806.8 L485.1,815.2 L488.9,816.0 L491.4,809.3 M478.0,817.7 L485.1,815.2 L480.5,822.7 L478.0,819.4 M488.9,816.0 L496.4,808.5 M488.9,816.0 L498.9,822.7 L498.1,831.9 M488.9,816.0 L494.7,819.4 L507.3,823.5 L513.1,828.6 M498.9,822.7 L506.4,821.9 L512.3,813.5 L507.3,810.2 L502.3,812.3 M506.4,821.9 L515.6,817.3 L516.1,809.3 M512.3,813.5 L515.6,817.3 L525.7,822.7 L533.2,826.9 L534.9,819.4 L540.3,810.6 L551.6,810.2 L554.1,803.5 L553.3,793.4 L563.3,790.9 L565.8,796.8 L556.6,804.3 M513.5,824.8 L515.6,817.3 L527.3,816.0 L528.2,807.2 M520.7,816.0 L527.3,820.2 L534.9,819.4 L540.3,823.5 M521.5,829.8 L525.7,822.7 M532.4,816.0 L532.8,807.7 L540.3,807.7 M545.3,804.7 L554.1,803.5 L549.1,799.3 M551.6,810.2 L554.9,818.1 M563.3,790.9 L564.1,782.6 M556.6,804.3 L560.4,810.2 L557.5,817.7 L564.6,822.3 M560.4,810.2 L566.2,813.5 M561.6,803.1 L560.4,810.2 M568.0,809.3 L561.6,807.7 M563.3,768.3 L568.0,771.7" stroke="#e38a57"/>
<path d="M551.6,804.3 L552.0,810.2 M563.3,790.9 L565.8,796.8 M485.9,816.0 L492.2,815.6" stroke="#9a5a3a"/>
<path d="M478.0,775.9 L483.4,768.3 L481.8,765.0 M483.4,768.3 L490.5,769.6 L493.5,773.4 L498.1,765.0 M490.5,767.5 L493.5,773.4 L485.9,783.0 L478.0,781.3 M493.5,773.4 L502.3,778.8 L508.9,772.9 L513.1,765.0 M485.9,783.0 L490.5,789.3 M478.0,780.1 L485.9,785.1 L489.7,788.8 M503.1,768.8 L508.9,772.9 L518.1,779.2 L523.6,780.5 M518.1,779.2 L521.9,773.4 L525.7,765.0 M521.9,773.4 L531.1,779.2 L534.9,773.4 M514.8,772.5 L521.9,773.4 M518.1,779.2 L515.6,788.8 L522.3,789.4 M540.3,765.0 L541.6,767.5 L550.8,767.9 L557.5,768.8 M550.8,765.0 L550.8,767.9 L549.5,775.5 L550.3,785.5 M541.1,775.5 L549.5,775.5 L555.4,775.0" stroke="#784b4f"/>
<path d="M499.0,815.7 L497.4,819.5 M488.2,828.8 L491.3,831.1 M480.8,834.5 L477.6,833.2 M492.0,834.6 L495.2,832.5 M492.4,834.2 L489.7,837.4 M499.4,826.9 L502.8,827.2 M514.2,838.8 L511.3,842.0" stroke="#175c17" stroke-width="1.5" stroke-linecap="butt"/>
<path d="M480.5,822.4 L481.0,825.7 M506.3,821.6 L508.1,824.6 M507.3,810.5 L506.8,807.3 M533.2,826.6 L533.2,830.6 M540.5,810.8 L538.2,808.8 M553.4,793.7 L551.2,790.4 M565.6,796.6 L568.7,799.4 M527.3,815.7 L528.2,819.9 M527.3,819.9 L527.6,823.0 M532.9,807.9 L531.2,804.4 M553.8,803.5 L557.0,803.6 M557.7,817.5 L555.0,819.2" stroke="#4a2e1e" stroke-width="1.5" stroke-linecap="butt"/>
<path d="M490.5,769.9 L490.5,767.1 M493.5,773.1 L493.0,776.8 M493.2,773.2 L496.7,775.5 M531.2,778.9 L530.3,782.9" stroke="#2c2020" stroke-width="1.5" stroke-linecap="butt"/>
</g>
<rect x="555.00" y="740.00" width="85.00" height="77.00" fill="#fff" stroke="none" stroke-width="1"/>
<g clip-path="url(#cgF8)" fill="none" stroke-width="1.55" stroke-linejoin="round" stroke-linecap="round">
<path d="M623.2,761.7 L619.4,767.6 L620.7,773.5 L630.7,778.1 L639.1,769.7 L640.0,769.7 M620.7,773.5 L611.9,781.4 L612.3,786.0 L622.3,792.7 L630.7,785.2 L630.7,778.1 M630.7,785.2 L640.0,790.6 M630.7,778.1 L632.8,783.5 M622.3,792.7 L624.4,799.4 M612.3,786.0 L603.5,793.5 L597.7,794.4 L595.2,788.1 M603.5,770.1 L606.9,766.3 M597.7,794.4 L602.3,801.1 L611.5,799.8 M602.3,801.1 L595.2,801.9 L591.0,797.7 L587.6,799.8 L571.3,793.9 M586.0,796.9 L587.6,799.8 L587.6,811.1 L593.5,816.5 L603.5,812.8 L602.3,801.1 M603.5,812.8 L611.1,812.8 L609.4,807.3 M603.5,812.8 L606.9,817.0" stroke="#23dc23"/>
<path d="M578.9,755.5 L584.3,767.2 L576.3,775.5 L567.6,771.8 L563.8,768.9 M584.3,767.2 L586.4,760.9 M584.3,767.2 L595.2,772.6 L597.3,781.0 L590.1,788.9 L579.3,783.5 L576.3,775.5 M576.3,775.5 L576.3,780.6 M579.3,783.5 L582.2,780.1 M579.3,783.5 L574.3,790.6 L567.6,790.2 L564.2,791.9 M595.2,772.6 L605.6,764.3 L599.3,764.7 M605.6,764.3 L606.9,750.9 L596.8,747.5 M606.9,750.9 L603.5,748.4 M606.9,750.9 L616.9,747.1 L626.1,752.5 L624.9,764.7 L615.7,768.4 L605.6,764.3 M616.9,747.1 L614.8,740.0 M616.9,747.1 L618.6,740.0 M626.1,752.5 L633.2,752.1 M622.8,748.8 L626.1,752.5 L637.8,747.9 L637.4,740.0 M637.8,747.9 L639.5,750.9 M637.8,752.5 L637.8,761.3 M615.7,768.4 L616.1,776.8 M613.6,768.4 L617.7,777.2 M605.2,763.4 L615.2,769.3 M590.1,788.9 L594.3,795.2 L602.7,794.8 M590.1,788.9 L591.8,793.5 L594.3,804.4 M594.3,795.2 L595.6,790.2 M564.2,791.9 L564.2,782.7 M564.2,791.9 L553.8,793.1 L551.7,801.9 L556.3,804.4 L565.5,796.9 L564.2,791.9 M565.5,796.9 L573.0,801.1 M551.7,801.9 L550.0,800.2 M556.3,804.4 L560.0,810.3 L557.9,817.0 M560.0,810.3 L568.4,809.8 M560.0,810.3 L565.9,813.6 M550.0,804.4 L556.3,804.4 M551.7,809.4 L553.3,817.0 M556.3,804.4 L562.5,808.6" stroke="#e38a57"/>
<path d="M564.2,791.9 L565.5,796.9 M560.9,803.6 L562.5,808.6 M552.5,805.2 L551.7,809.4" stroke="#9a5a3a"/>
<path d="M555.0,740.0 L554.2,749.2 L552.5,758.8 L550.8,767.6 L550.0,775.1 L550.8,785.6 M550.0,749.2 L554.2,749.2 L560.9,751.7 M550.0,757.1 L552.5,758.8 L562.5,758.8 L565.1,750.0 L571.7,740.0 M550.8,767.6 L557.9,768.9 M550.0,775.1 L555.4,774.3 M557.5,747.1 L565.1,750.0 L571.7,752.5 L578.4,757.6 M571.7,752.5 L565.9,756.7 L571.3,759.7 M571.7,752.5 L577.6,741.7 L570.1,740.0 M577.6,741.7 L585.1,745.4 L585.1,741.7" stroke="#784b4f"/>
<path d="M612.2,781.3 L609.5,781.9 M612.6,786.0 L608.4,786.1 M597.8,794.1 L596.4,797.2 M602.4,800.8 L600.7,804.0 M595.3,801.7 L593.0,804.8 M593.6,816.3 L591.7,819.7 M603.3,812.6 L606.2,814.5 M610.8,812.6 L613.7,814.3" stroke="#175c17" stroke-width="1.5" stroke-linecap="butt"/>
<path d="M584.0,767.2 L587.4,767.4 M576.2,775.3 L578.0,777.5 M594.9,772.8 L598.2,771.0 M597.0,780.8 L600.4,782.6 M605.4,764.5 L607.2,762.3 M625.8,752.6 L629.9,752.5 M615.6,768.2 L616.5,771.1 M626.0,752.3 L626.7,755.1 M637.6,747.8 L640.6,749.3 M594.3,794.9 L594.6,797.6 M553.9,793.4 L552.4,789.7 M551.9,801.7 L549.3,803.6 M556.3,804.1 L555.6,807.9 M565.2,796.9 L568.3,796.9 M559.8,810.4 L562.3,808.9" stroke="#4a2e1e" stroke-width="1.5" stroke-linecap="butt"/>
<path d="M566.2,756.7 L562.6,756.6 M577.4,741.9 L579.3,739.7" stroke="#2c2020" stroke-width="1.5" stroke-linecap="butt"/>
</g>
<rect x="626.00" y="616.00" width="89.60" height="77.00" fill="#fff" stroke="none" stroke-width="1"/>
<g clip-path="url(#cgF9)" fill="none" stroke-width="1.55" stroke-linejoin="round" stroke-linecap="round">
<path d="M678.3,685.4 L675.8,690.4 L676.2,693.0" stroke="#e38a57"/>
<path d="M672.8,617.3 L677.0,623.9 L670.3,633.6 L662.4,631.1 M677.0,623.9 L679.5,620.6 M672.0,621.0 L673.3,617.7 M677.0,623.9 L686.2,629.8 L683.7,635.7 L673.7,637.7 L670.3,633.6 M681.2,623.5 L686.2,629.8 L692.1,622.7 M686.2,629.8 L695.4,628.5 L697.9,631.1 L692.1,636.9 L688.7,630.2 M683.7,635.7 L689.1,641.9 L692.1,636.9 M697.9,631.1 L700.9,624.4 M697.9,631.1 L705.5,634.8 L714.7,631.1 M692.1,636.9 L702.9,636.9 L705.5,634.8 L708.4,631.9 M705.5,634.8 L710.5,646.5 L702.9,652.0 L702.5,636.9 M702.9,652.0 L691.2,653.2 L690.0,660.3 M697.5,650.7 L702.9,652.0 L705.9,661.2 M702.9,652.0 L709.6,651.1 L715.1,654.5 M673.7,637.7 L680.4,643.2 M670.3,633.6 L669.5,641.9 L674.9,649.5 M669.5,641.9 L659.0,645.7 L657.4,654.1 L667.0,649.0 L669.5,641.9 M657.4,654.1 L651.1,645.3 M657.4,654.1 L664.5,660.7 M657.4,654.1 L652.8,659.5 L646.9,666.2 L639.8,672.0 L633.9,679.1 L628.5,675.4 M652.8,657.0 L660.3,666.6 M641.5,656.6 L652.8,661.6 M638.1,657.8 L646.9,667.9 L654.9,672.0 M646.9,666.2 L643.6,664.5 M634.4,666.6 L639.8,672.0 M633.9,679.1 L628.5,682.9 L626.0,680.4 M628.5,682.9 L632.7,684.6 M633.9,679.1 L640.6,686.3 M640.6,686.7 L646.5,682.1 M640.6,686.7 L646.1,689.6 M640.6,686.7 L636.9,693.0 M640.6,686.7 L643.6,693.0" stroke="#784b4f"/>
<path d="M676.8,623.8 L680.3,626.2 M686.0,630.0 L687.8,627.9 M683.6,635.4 L685.3,638.8 M686.3,629.5 L685.6,633.2 M692.3,636.7 L689.4,639.8 M703.1,651.7 L700.6,654.6 M702.9,652.3 L703.6,649.5 M709.5,651.4 L711.4,648.0 M669.8,641.8 L666.9,643.3 M659.2,645.9 L657.0,642.8 M666.8,648.8 L668.9,652.1" stroke="#2c2020" stroke-width="1.5" stroke-linecap="butt"/>
</g>
<rect x="626.00" y="693.00" width="89.60" height="77.00" fill="#fff" stroke="none" stroke-width="1"/>
<g clip-path="url(#cgF10)" fill="none" stroke-width="1.55" stroke-linejoin="round" stroke-linecap="round">
<path d="M696.3,743.6 L702.1,747.8 L705.9,738.6 M702.1,747.8 L710.5,747.4 M702.1,747.8 L701.7,759.9 L690.8,762.4 L687.9,770.0 M701.7,759.9 L706.3,766.6 L704.6,770.0 M701.7,765.8 L706.3,766.6 M648.2,762.4 L648.2,769.1 L637.7,770.0 M656.1,764.9 L658.6,770.0 M669.1,763.3 L668.2,770.0" stroke="#23dc23"/>
<path d="M659.0,701.8 L659.0,712.2 L654.0,719.3 L644.0,716.0 M653.2,712.2 L659.0,712.2 L669.5,715.2 L674.1,715.2 M654.0,719.3 L659.0,719.6 M654.0,719.3 L654.4,729.0 L652.8,731.1 L649.8,738.2 L639.4,736.1 L633.9,732.3 M651.9,724.4 L652.8,731.1 L662.8,729.4 M652.8,731.1 L657.4,736.5 M652.8,731.1 L665.7,732.7 L671.2,732.3 M639.4,736.1 L636.9,731.5 L634.4,733.1 M639.4,736.1 L636.9,747.4 L639.8,752.8 L637.7,761.6 M639.8,752.8 L650.7,754.5 L653.6,750.3 M636.9,747.4 L627.7,749.0 L626.0,759.9 M636.9,747.4 L643.6,750.3 M626.0,753.2 L633.1,752.0 M637.7,732.3 L652.8,731.1 M669.5,715.2 L670.3,725.6 L665.7,732.7 L667.4,742.8 L678.3,743.6 L680.8,750.7 M667.4,742.8 L666.1,749.0 M663.2,743.0 L667.4,742.8 M669.5,715.2 L673.7,706.8 L681.2,708.9 L675.8,716.4 M681.2,708.9 L675.8,700.1 L675.8,693.0 M667.4,700.5 L675.8,700.1 L679.9,698.4 M681.2,708.9 L687.5,700.5 M681.2,708.9 L689.6,712.2 L692.1,715.6 L687.5,723.9 L689.1,725.2 L695.4,718.1 L701.7,724.8 L710.5,718.9 L708.8,710.1 M692.1,715.6 L694.2,710.6 L701.7,724.8 M692.1,715.6 L699.6,717.3 L704.2,709.7 L702.1,704.3 M699.6,717.3 L706.7,724.4 L714.2,722.7 M704.2,709.7 L710.5,718.9 L710.1,726.5 M695.4,712.2 L704.2,713.1" stroke="#e38a57"/>
<path d="M692.1,715.6 L692.9,711.0 M694.6,718.9 L699.6,717.3 M636.9,747.4 L639.8,752.8" stroke="#9a5a3a"/>
<path d="M626.0,698.0 L633.9,698.9 L636.9,693.0 M633.9,698.9 L640.6,705.5 M626.0,700.5 L629.3,700.9 L633.5,703.9 M626.0,703.9 L629.3,700.9" stroke="#784b4f"/>
<path d="M702.1,747.5 L702.4,751.2 M647.9,768.9 L650.7,770.8" stroke="#175c17" stroke-width="1.5" stroke-linecap="butt"/>
<path d="M658.8,712.1 L662.1,713.5 M649.7,737.9 L651.3,741.1 M653.0,730.8 L650.6,733.5 M670.1,725.4 L673.3,727.9 M666.0,732.6 L663.4,733.6 M667.7,742.7 L663.6,743.8 M673.9,707.0 L671.7,705.3 M680.9,709.0 L684.5,708.2 M676.0,699.9 L673.5,701.7 M689.4,712.5 L691.3,709.6 M701.7,724.5 L701.6,727.9 M694.2,710.9 L693.7,707.5 M699.6,717.0 L699.2,721.1 M706.7,724.1 L707.2,726.9 M710.2,719.1 L713.1,717.6" stroke="#4a2e1e" stroke-width="1.5" stroke-linecap="butt"/>
</g>
<rect x="743.40" y="775.00" width="88.60" height="77.00" fill="#fff" stroke="none" stroke-width="1"/>
<g clip-path="url(#cgF11)" fill="none" stroke-width="1.55" stroke-linejoin="round" stroke-linecap="round">
<path d="M743.7,786.7 L749.9,792.6 L760.0,789.6 L759.6,780.9 M743.7,786.7 L744.5,800.1 L748.3,794.2 M749.9,792.6 L750.4,800.1 L745.3,800.9 M746.2,790.9 L747.9,808.5 M750.4,800.1 L762.1,799.3 L761.7,790.1 M762.1,799.3 L766.7,807.6 L772.1,806.4 L788.4,800.1 L799.3,793.0 M764.2,794.2 L776.3,791.3 L781.3,797.6 M766.7,807.6 L764.6,800.9 M783.0,796.3 L788.4,800.1 L789.7,811.4 L773.4,817.2 L772.1,806.4 M795.9,785.9 L799.3,793.0 L807.2,795.5 L811.8,801.8 M773.4,817.2 L762.9,822.3 L764.2,828.5 M775.5,813.5 L780.1,817.7 L781.7,827.3 M775.0,817.7 L777.5,821.4 M789.7,811.4 L795.5,816.0 M793.0,811.4 L804.7,817.2 L815.2,811.0 L824.0,817.7 L822.3,824.3 L812.7,829.4 L805.6,822.7 L804.7,817.2 M815.2,811.0 L817.7,803.9 M812.7,805.9 L815.2,811.0 M824.0,817.7 L830.7,808.5 L832.0,808.5 M824.0,817.7 L829.0,821.8 M812.7,829.4 L806.4,832.7 L797.2,833.5 M812.7,829.4 L813.1,835.2 M806.4,828.5 L806.8,835.2 M800.5,832.7 L806.4,829.4 M822.3,824.3 L832.0,829.4" stroke="#23dc23"/>
<path d="M743.7,801.8 L750.4,808.0 L760.0,806.8 M743.7,816.0 L747.0,813.9 L744.5,807.6 L744.1,802.6 M750.4,808.0 L752.9,811.0 L754.5,820.6 L750.4,825.2 M747.0,813.9 L754.5,820.6 L762.1,826.0 L766.3,834.8 L773.8,834.8 L775.5,828.5 L768.3,822.3 L762.9,825.2 M754.5,820.6 L760.8,816.0 M754.5,820.6 L757.5,830.2 L750.8,836.5 M757.5,830.2 L768.3,841.5 M775.5,828.5 L781.3,830.6 M775.5,828.5 L786.7,827.3 L792.2,837.3 L788.8,842.7 L780.9,844.4 L775.5,834.4 M786.7,827.3 L786.3,823.9 L792.6,825.6 M786.3,823.9 L791.8,822.3 M780.9,844.4 L777.1,849.4 M780.9,844.4 L781.3,852.0 M780.9,848.6 L787.6,848.6 M792.2,837.3 L802.2,834.8 L808.1,841.1 L818.9,841.9 L825.6,831.9 L822.3,825.2 L814.8,828.5 L808.1,841.1 M808.1,841.1 L804.7,849.4 M808.1,841.1 L811.4,852.0 M818.9,841.9 L826.5,850.3 L824.8,852.0 M802.2,834.8 L806.4,839.4 M819.8,832.7 L825.6,831.9 L832.0,835.2 M825.6,831.9 L829.0,822.3 M820.6,825.2 L825.6,830.2 L832.0,832.7 M832.0,841.1 L831.5,844.4 M773.8,852.0 L781.3,851.1" stroke="#e38a57"/>
<path d="M747.0,813.9 L752.0,811.0 M748.7,826.0 L754.5,822.7 M758.3,830.2 L762.1,826.4 M819.8,832.7 L825.6,831.0" stroke="#9a5a3a"/>
<path d="M749.5,787.5 L751.2,784.2 L761.2,778.8 L767.1,779.2 L775.5,775.0 M761.2,775.0 L761.2,778.8 L764.6,783.4 M767.1,779.2 L768.3,790.9 L761.7,793.0 M778.8,775.0 L783.4,778.3 M784.7,775.0 L790.9,780.9 L800.5,775.0 M790.9,780.9 L790.5,788.0 L799.7,793.4 L809.3,787.5 L812.7,778.8 L803.9,775.0 M812.7,778.8 L815.6,782.1 M812.7,778.8 L815.6,775.0 M807.2,783.4 L809.3,787.5 L816.4,795.5 L826.1,796.7 L832.0,787.5 M826.1,796.7 L832.0,802.6 M825.6,803.4 L832.0,803.0 M826.9,778.8 L832.0,781.7 M799.7,793.4 L798.5,803.4 L791.8,807.2 M798.5,803.4 L805.1,810.5 M795.5,801.8 L802.6,803.9" stroke="#784b4f"/>
<path d="M750.1,792.3 L748.5,795.7 M759.7,789.6 L762.5,790.0 M750.1,800.1 L752.8,800.4 M776.3,791.6 L776.1,788.7 M788.1,800.1 L792.1,799.5 M807.1,795.8 L808.7,792.8 M815.0,811.2 L816.9,807.6 M823.7,817.6 L827.8,818.2 M822.2,824.1 L823.8,827.9 M812.6,829.1 L813.5,831.8" stroke="#175c17" stroke-width="1.5" stroke-linecap="butt"/>
<path d="M750.4,807.7 L750.4,810.8 M768.3,822.6 L768.6,819.1 M757.2,830.0 L760.5,832.1 M786.7,827.6 L786.9,824.7 M788.8,842.5 L789.4,846.5 M780.9,844.1 L780.8,847.1 M802.0,835.0 L804.4,831.9 M818.7,841.7 L820.9,843.9 M825.3,831.8 L828.9,832.5" stroke="#4a2e1e" stroke-width="1.5" stroke-linecap="butt"/>
<path d="M761.4,779.0 L759.7,776.6 M767.0,778.9 L767.8,782.2 M768.1,790.8 L771.1,792.2 M790.8,780.6 L791.7,783.4 M790.8,787.9 L786.9,788.5 M799.8,793.1 L798.9,796.8 M809.1,787.3 L811.7,789.8 M812.5,779.0 L814.0,776.7 M826.0,796.5 L826.6,800.3" stroke="#2c2020" stroke-width="1.5" stroke-linecap="butt"/>
</g>
<rect x="832.00" y="790.00" width="90.00" height="77.00" fill="#fff" stroke="none" stroke-width="1"/>
<g clip-path="url(#cgF12)" fill="none" stroke-width="1.55" stroke-linejoin="round" stroke-linecap="round">
<path d="M832.0,809.2 L836.2,810.5 M856.7,816.3 L860.0,821.4 L868.0,818.9 M860.0,821.4 L852.9,831.0 L843.3,828.5 L840.4,833.5 M852.9,831.0 L852.1,835.2 M832.0,829.3 L837.0,833.5 L843.7,841.9 L852.5,846.9 L859.6,839.3 L857.9,835.6 M843.7,841.9 L836.6,850.2 L842.5,854.8 M852.5,846.9 L856.7,855.2 L856.7,862.8 M849.1,850.2 L852.5,846.9 M859.6,839.3 L866.3,843.9 L876.7,845.6 L880.1,838.1 M876.7,845.6 L881.3,847.7 L894.3,843.1 M876.7,845.6 L877.6,852.7 L882.2,855.2 L881.8,847.7 M882.2,855.2 L887.2,857.7 L893.9,852.7 M882.2,855.2 L883.0,859.4 L873.8,864.4 L869.2,860.3 M887.2,857.7 L889.7,862.8 L901.4,862.3 L905.6,867.0 M886.4,855.2 L889.7,862.8 L887.2,867.0 M883.0,859.4 L888.9,863.6 M898.5,838.5 L903.5,841.0 L909.4,849.4 L914.4,845.6 M909.4,849.4 L903.5,853.6 M909.4,849.4 L915.2,856.9 L922.0,861.1 M915.2,856.9 L907.3,867.0 M915.2,856.9 L922.0,851.9 M916.5,847.3 L922.0,851.9 M915.6,864.4 L922.0,862.8" stroke="#23dc23"/>
<path d="M832.0,833.5 L836.6,835.6 L841.2,833.5 L842.0,826.0 M832.0,836.8 L833.7,839.3 L832.0,845.2 M836.6,835.6 L837.0,839.3 M841.2,833.5 L848.7,839.3 L849.1,848.5 M841.2,833.5 L852.5,838.1 L858.8,826.8 L865.5,828.1 L874.7,829.3 L877.2,826.8 L875.5,819.3 M852.5,838.1 L852.9,844.4 M846.2,836.8 L852.5,838.1 L860.9,844.4 M858.8,831.8 L865.5,831.8 L867.1,835.2 L871.7,841.9 M855.4,836.8 L867.1,835.2 L874.7,829.3 M865.5,828.1 L867.1,835.2 M873.0,820.9 L873.8,829.3 M877.2,826.8 L889.7,829.3 L892.2,825.1 L890.1,819.3 M874.7,829.3 L884.7,833.5 L889.7,829.3 L891.4,837.3 M892.2,825.1 L896.0,822.2 M892.2,825.1 L898.1,828.1 L903.1,829.3 L909.8,823.0 L904.3,815.1 M900.6,825.1 L909.8,823.0 L919.0,821.8 L922.0,820.1 M909.8,823.0 L913.1,833.5 M916.9,812.2 L919.0,821.8 L919.4,826.8 M920.7,807.1 L922.0,811.7 M919.0,815.1 L922.0,815.1" stroke="#e38a57"/>
<path d="M865.5,828.1 L866.7,833.5 M898.1,827.6 L900.2,825.5 M909.8,823.0 L915.6,822.6 M849.6,838.5 L856.3,837.7" stroke="#9a5a3a"/>
<path d="M840.4,790.0 L842.9,794.6 L852.9,797.1 L859.6,790.0 M842.9,794.6 L847.9,790.0 M842.9,794.6 L835.3,803.0 L832.0,802.5 M835.3,803.0 L843.7,803.8 M835.3,803.0 L837.4,810.9 M862.1,790.0 L869.6,794.2 L873.8,790.0 M869.6,794.2 L873.8,800.0 M869.6,794.2 L864.6,802.1 L868.0,803.0" stroke="#784b4f"/>
<path d="M860.1,821.1 L859.7,824.2 M843.3,828.8 L843.8,824.6 M836.9,850.1 L834.0,851.3 M876.5,845.4 L878.9,847.2 M881.2,847.4 L882.3,850.2 M877.8,852.5 L875.9,854.9 M887.0,857.5 L888.6,859.9 M873.7,864.2 L874.8,866.7 M889.8,862.5 L889.3,865.4 M909.3,849.1 L909.8,852.1" stroke="#175c17" stroke-width="1.5" stroke-linecap="butt"/>
<path d="M836.8,835.3 L834.5,838.9 M841.0,833.2 L843.2,836.6 M848.4,839.4 L852.4,838.9 M867.1,834.9 L867.6,838.7 M891.9,825.0 L895.5,826.5 M884.6,833.2 L885.6,836.4 M889.7,829.6 L889.7,826.6 M909.5,823.2 L912.1,822.0" stroke="#4a2e1e" stroke-width="1.5" stroke-linecap="butt"/>
<path d="M843.0,794.3 L841.4,797.2 M852.9,796.8 L852.7,800.8" stroke="#2c2020" stroke-width="1.5" stroke-linecap="butt"/>
</g>
<rect x="900.00" y="752.00" width="90.00" height="77.00" fill="#fff" stroke="none" stroke-width="1"/>
<g clip-path="url(#cgF13)" fill="none" stroke-width="1.55" stroke-linejoin="round" stroke-linecap="round">
<path d="M982.4,755.8 L987.8,762.9 L990.0,762.9 M987.8,762.9 L982.4,770.4 L980.3,778.8 L974.9,778.3 M985.3,767.1 L982.8,776.3 L980.3,778.8 L990.0,786.3 L990.0,792.1 M980.3,778.8 L974.4,782.5 L962.7,782.5 L958.5,782.1 L958.1,773.7 M962.7,773.7 L962.7,782.5 L964.0,795.5 M949.3,778.3 L950.6,788.0 L946.4,795.5 M940.6,788.0 L950.6,788.0 L957.7,791.3 M951.0,788.0 L958.5,782.1 M953.5,795.5 L950.6,797.6 L951.9,800.1 L956.9,791.3 M944.3,786.7 L948.5,791.3 M960.2,786.3 L966.5,785.9 M951.0,803.0 L954.4,801.3 L960.6,803.0 M947.7,805.5 L944.3,808.9 L945.6,813.5 L940.1,818.1 L939.3,823.1 L943.5,825.6 L954.8,823.9 L957.7,829.0 M948.1,805.5 L947.3,812.2 M933.0,812.6 L940.1,818.1 L953.5,819.3 M930.9,820.6 L939.3,823.1 L937.6,829.0 M929.3,828.1 L935.1,829.0 M943.5,825.6 L944.3,829.0" stroke="#23dc23"/>
<path d="M933.5,771.2 L938.5,785.5 L936.4,794.7 L940.6,804.3 L952.7,804.3 L956.9,792.6 L951.4,785.9 L938.5,785.5 M936.4,794.7 L925.1,793.8 L923.4,796.7 M936.4,794.7 L941.0,793.0 M951.4,785.9 L955.6,780.0 M951.4,785.9 L962.3,782.9 L971.1,783.4 L970.7,774.2 L960.6,771.2 L951.4,772.1 M960.6,771.2 L962.3,782.9 L963.6,790.5 L964.4,801.3 L964.0,805.5 M960.6,771.2 L966.9,765.4 L964.4,754.5 L961.5,754.5 M966.9,765.4 L974.4,763.3 M966.9,765.4 L968.6,768.3 M970.7,774.2 L979.9,770.8 L981.5,758.3 L973.2,755.3 M981.5,758.3 L990.0,755.8 M981.5,758.3 L980.3,752.0 M986.1,752.0 L987.0,757.0 M971.1,783.4 L973.2,794.7 L979.9,792.6 M971.1,783.4 L971.9,788.0 L979.0,788.4 M955.2,788.8 L963.6,790.5 L971.9,788.0 M952.7,804.3 L958.5,812.2 L968.6,812.2 M958.5,812.2 L956.5,820.6 M958.5,812.2 L959.8,807.2 M940.6,804.3 L936.8,812.2 L931.8,818.1 L920.1,818.9 L917.1,812.2 M920.5,806.8 L922.6,815.6 M931.8,818.1 L929.3,819.7 L930.9,829.0 M920.1,818.9 L910.9,821.8 L904.2,815.1 M910.9,821.8 L903.3,827.3 L900.0,826.4 M910.9,821.8 L912.5,829.0 M900.0,824.8 L905.0,823.9 M920.1,818.9 L919.2,825.6 L923.4,829.0 M917.1,813.1 L918.8,818.9 M921.7,824.8 L924.3,823.9" stroke="#e38a57"/>
<path d="M960.6,771.2 L966.9,765.4 M962.3,782.9 L963.6,790.5 M918.8,816.0 L925.1,816.4 L929.3,818.9 M964.0,801.3 L964.0,805.5" stroke="#9a5a3a"/>
<path d="M902.5,752.0 L904.6,757.0 L912.5,765.0 L923.0,761.2 L925.9,755.3 L923.8,752.0 M904.6,757.0 L900.0,759.1 M904.6,757.0 L907.5,752.0 M925.9,755.3 L939.3,754.5 L941.0,752.0 M925.9,755.3 L925.1,761.2 M939.3,754.5 L942.7,762.9 L949.8,762.9 M912.5,765.0 L910.5,774.2 L900.0,777.1 M910.5,774.2 L916.7,784.2 L927.6,781.7 M916.7,784.2 L914.6,791.3 M910.0,768.7 L912.5,769.6" stroke="#784b4f"/>
<path d="M980.3,778.5 L980.9,782.6 M989.7,786.3 L993.6,785.9 M974.3,782.2 L975.6,785.4 M944.6,809.1 L941.3,806.7 M945.3,813.4 L948.6,814.2 M940.4,818.2 L937.4,816.6 M939.6,823.0 L935.8,823.6 M943.5,825.3 L943.0,828.7 M940.2,817.8 L939.9,820.9" stroke="#175c17" stroke-width="1.5" stroke-linecap="butt"/>
<path d="M938.2,785.6 L940.7,784.2 M936.7,794.6 L933.3,795.1 M952.4,804.1 L955.0,805.5 M970.9,783.1 L973.1,786.2 M970.4,774.2 L974.3,773.2 M973.4,794.4 L970.8,797.2 M972.2,787.8 L969.1,790.0 M958.5,811.9 L958.6,814.8 M931.6,817.9 L933.8,819.8 M919.5,825.4 L916.8,827.2" stroke="#4a2e1e" stroke-width="1.5" stroke-linecap="butt"/>
<path d="M942.9,762.7 L939.6,765.0 M916.9,783.9 L915.3,787.2" stroke="#2c2020" stroke-width="1.5" stroke-linecap="butt"/>
</g>
<rect x="990.00" y="690.00" width="90.00" height="77.00" fill="#fff" stroke="none" stroke-width="1"/>
<g clip-path="url(#cgF14)" fill="none" stroke-width="1.55" stroke-linejoin="round" stroke-linecap="round">
<path d="M1056.9,750.2 L1059.8,756.9 L1068.6,754.4 L1066.1,748.5 M1068.6,754.4 L1076.1,751.5 M1068.6,754.4 L1070.7,763.6 L1061.9,766.5 M1070.7,763.6 L1077.8,763.6 M1070.7,763.6 L1071.5,767.0 M1024.7,759.4 L1024.3,766.1 L1018.4,766.5 M1037.7,766.5 L1042.3,761.5 L1049.0,765.7 M990.0,763.6 L995.0,759.4 L991.7,767.0" stroke="#23dc23"/>
<path d="M1006.3,712.2 L1010.1,722.6 L1003.8,727.6 L992.9,728.1 M1010.1,722.6 L1023.0,722.6 L1026.4,731.0 L1019.3,739.8 L1006.7,738.5 L1003.8,727.6 M1005.9,722.6 L1003.8,727.6 M1010.1,722.6 L1009.2,726.8 M1023.0,722.6 L1024.3,715.1 M1023.0,722.6 L1038.9,724.3 L1043.5,714.3 L1036.8,709.7 M1038.9,724.3 L1042.3,733.9 L1049.0,732.7 L1052.7,720.9 L1053.1,714.7 L1043.5,714.3 M1043.5,714.3 L1045.6,707.6 L1044.8,692.9 M1041.0,708.8 L1045.6,707.6 L1054.4,710.5 M1042.3,733.9 L1034.7,739.3 M1042.3,733.9 L1041.0,742.7 M1042.3,733.9 L1049.4,738.9 L1051.9,745.6 M1049.0,732.7 L1056.5,736.4 M1046.0,717.2 L1052.7,720.9 L1060.3,720.9 L1066.9,713.8 L1059.8,711.7 L1057.7,703.4 M1059.8,711.7 L1054.4,718.0 M1059.8,711.7 L1062.8,707.6 M1066.9,713.8 L1066.5,703.4 M1066.9,713.8 L1077.8,715.1 L1078.7,724.3 M1066.9,713.8 L1069.5,723.5 M1019.3,739.8 L1021.8,747.3 L1031.0,748.1 M1021.8,747.3 L1018.0,762.8 M1018.4,745.2 L1021.8,747.3 M1006.7,738.5 L1001.7,740.6 L1001.3,750.2 L999.2,755.2 L990.0,754.4 M1003.0,743.5 L1006.7,738.5 M999.2,755.2 L1009.7,754.8 M999.2,755.2 L1003.0,765.3 M990.0,756.9 L995.9,758.6 M999.2,755.2 L1003.8,750.2" stroke="#e38a57"/>
<path d="M1043.5,714.3 L1045.2,708.0 M1051.9,720.9 L1053.1,715.1 M1042.3,733.9 L1048.5,738.5 M1018.0,758.6 L1018.0,762.8 M1044.8,692.9 L1045.2,695.9" stroke="#9a5a3a"/>
<path d="M990.0,695.9 L995.0,693.3 L1008.4,690.0 M993.3,690.0 L995.0,693.3 L997.9,697.5 L1005.1,697.5 M990.0,703.4 L997.9,697.5 L1001.3,708.0 M995.0,693.3 L996.7,703.4" stroke="#784b4f"/>
<path d="M1060.0,756.7 L1058.1,759.8 M1024.0,766.0 L1026.7,766.9 M1042.5,761.7 L1040.7,759.5 M994.8,759.6 L997.7,757.2" stroke="#175c17" stroke-width="1.5" stroke-linecap="butt"/>
<path d="M1009.8,722.7 L1012.6,722.1 M1003.7,727.3 L1004.4,731.0 M1026.1,730.8 L1029.6,732.9 M1019.2,739.5 L1019.6,743.4 M1006.9,738.3 L1004.7,741.0 M1042.5,733.8 L1038.8,735.8 M1053.0,714.9 L1054.8,712.3 M1045.6,707.9 L1046.2,704.2 M1049.2,739.2 L1050.6,736.6 M1060.2,720.7 L1061.0,724.3 M1077.6,715.2 L1080.9,713.3 M1022.0,747.1 L1019.2,749.6 M999.0,755.0 L1000.9,757.8" stroke="#4a2e1e" stroke-width="1.5" stroke-linecap="butt"/>
<path d="M997.8,697.8 L1000.1,694.6" stroke="#2c2020" stroke-width="1.5" stroke-linecap="butt"/>
</g>
<line x1="77.71" y1="772.77" x2="79.89" y2="779.46" stroke="#b5b5b5" stroke-width="2.5" stroke-linecap="round"/>
<line x1="77.71" y1="772.77" x2="79.89" y2="779.46" stroke="#f7f7f7" stroke-width="1.5" stroke-linecap="round"/>
<line x1="77.71" y1="782.81" x2="79.89" y2="779.46" stroke="#b5b5b5" stroke-width="2.5" stroke-linecap="round"/>
<line x1="77.71" y1="782.81" x2="79.89" y2="779.46" stroke="#f7f7f7" stroke-width="1.5" stroke-linecap="round"/>
<line x1="78.91" y1="776.45" x2="79.89" y2="779.46" stroke="#e01414" stroke-width="2.5" stroke-linecap="round"/>
<line x1="78.91" y1="780.97" x2="79.89" y2="779.46" stroke="#e01414" stroke-width="2.5" stroke-linecap="round"/>
<line x1="96.12" y1="787.83" x2="97.79" y2="794.52" stroke="#b5b5b5" stroke-width="2.5" stroke-linecap="round"/>
<line x1="96.12" y1="787.83" x2="97.79" y2="794.52" stroke="#f7f7f7" stroke-width="1.5" stroke-linecap="round"/>
<line x1="106.15" y1="795.35" x2="97.79" y2="794.52" stroke="#b5b5b5" stroke-width="2.5" stroke-linecap="round"/>
<line x1="106.15" y1="795.35" x2="97.79" y2="794.52" stroke="#f7f7f7" stroke-width="1.5" stroke-linecap="round"/>
<line x1="97.04" y1="791.51" x2="97.79" y2="794.52" stroke="#e01414" stroke-width="2.5" stroke-linecap="round"/>
<line x1="101.55" y1="794.89" x2="97.79" y2="794.52" stroke="#e01414" stroke-width="2.5" stroke-linecap="round"/>
<line x1="70.19" y1="798.70" x2="76.88" y2="798.70" stroke="#b5b5b5" stroke-width="2.5" stroke-linecap="round"/>
<line x1="70.19" y1="798.70" x2="76.88" y2="798.70" stroke="#f7f7f7" stroke-width="1.5" stroke-linecap="round"/>
<line x1="81.06" y1="801.21" x2="76.88" y2="798.70" stroke="#b5b5b5" stroke-width="2.5" stroke-linecap="round"/>
<line x1="81.06" y1="801.21" x2="76.88" y2="798.70" stroke="#f7f7f7" stroke-width="1.5" stroke-linecap="round"/>
<line x1="73.87" y1="798.70" x2="76.88" y2="798.70" stroke="#e01414" stroke-width="2.5" stroke-linecap="round"/>
<line x1="78.76" y1="799.83" x2="76.88" y2="798.70" stroke="#e01414" stroke-width="2.5" stroke-linecap="round"/>
<circle cx="85.24" cy="800.87" r="5.52" fill="url(#LLi)" stroke="none" stroke-width="1"/>
<line x1="291.71" y1="697.81" x2="292.04" y2="690.86" stroke="#3a46e0" stroke-width="1.3" stroke-linecap="butt"/>
<line x1="292.04" y1="690.86" x2="292.38" y2="683.92" stroke="#6d4346" stroke-width="1.3" stroke-linecap="butt"/>
<line x1="291.71" y1="697.81" x2="286.44" y2="697.81" stroke="#3a46e0" stroke-width="1.3" stroke-linecap="butt"/>
<line x1="286.44" y1="697.81" x2="281.17" y2="697.81" stroke="#6d4346" stroke-width="1.3" stroke-linecap="butt"/>
<line x1="291.71" y1="697.81" x2="298.99" y2="699.23" stroke="#3a46e0" stroke-width="1.3" stroke-linecap="butt"/>
<line x1="298.99" y1="699.23" x2="306.26" y2="700.65" stroke="#e38a57" stroke-width="1.3" stroke-linecap="butt"/>
<line x1="291.71" y1="697.81" x2="291.04" y2="705.59" stroke="#3a46e0" stroke-width="1.3" stroke-linecap="butt"/>
<line x1="291.04" y1="705.59" x2="290.37" y2="713.36" stroke="#e38a57" stroke-width="1.3" stroke-linecap="butt"/>
<circle cx="292.38" cy="683.92" r="3.19" fill="url(#LBr2)" stroke="none" stroke-width="1"/>
<circle cx="281.17" cy="697.81" r="3.19" fill="url(#LBr2)" stroke="none" stroke-width="1"/>
<circle cx="306.26" cy="700.65" r="3.00" fill="url(#LOr)" stroke="none" stroke-width="1"/>
<circle cx="290.37" cy="713.36" r="3.00" fill="url(#LOr)" stroke="none" stroke-width="1"/>
<circle cx="291.71" cy="697.81" r="4.68" fill="url(#LCu)" stroke="none" stroke-width="1"/>
<line x1="515.50" y1="766.12" x2="516.34" y2="771.13" stroke="#b5b5b5" stroke-width="2.5" stroke-linecap="round"/>
<line x1="515.50" y1="766.12" x2="516.34" y2="771.13" stroke="#f7f7f7" stroke-width="1.5" stroke-linecap="round"/>
<line x1="513.83" y1="772.30" x2="516.34" y2="771.13" stroke="#b5b5b5" stroke-width="2.5" stroke-linecap="round"/>
<line x1="513.83" y1="772.30" x2="516.34" y2="771.13" stroke="#f7f7f7" stroke-width="1.5" stroke-linecap="round"/>
<line x1="515.96" y1="768.88" x2="516.34" y2="771.13" stroke="#e01414" stroke-width="2.5" stroke-linecap="round"/>
<line x1="515.21" y1="771.66" x2="516.34" y2="771.13" stroke="#e01414" stroke-width="2.5" stroke-linecap="round"/>
<line x1="488.74" y1="786.19" x2="495.43" y2="785.69" stroke="#b5b5b5" stroke-width="2.5" stroke-linecap="round"/>
<line x1="488.74" y1="786.19" x2="495.43" y2="785.69" stroke="#f7f7f7" stroke-width="1.5" stroke-linecap="round"/>
<line x1="499.11" y1="782.84" x2="495.43" y2="785.69" stroke="#b5b5b5" stroke-width="2.5" stroke-linecap="round"/>
<line x1="499.11" y1="782.84" x2="495.43" y2="785.69" stroke="#f7f7f7" stroke-width="1.5" stroke-linecap="round"/>
<line x1="492.42" y1="785.91" x2="495.43" y2="785.69" stroke="#e01414" stroke-width="2.5" stroke-linecap="round"/>
<line x1="497.08" y1="784.41" x2="495.43" y2="785.69" stroke="#e01414" stroke-width="2.5" stroke-linecap="round"/>
<line x1="499.11" y1="783.68" x2="501.78" y2="787.03" stroke="#b5b5b5" stroke-width="2.5" stroke-linecap="round"/>
<line x1="499.11" y1="783.68" x2="501.78" y2="787.03" stroke="#f7f7f7" stroke-width="1.5" stroke-linecap="round"/>
<line x1="503.79" y1="792.04" x2="501.78" y2="787.03" stroke="#b5b5b5" stroke-width="2.5" stroke-linecap="round"/>
<line x1="503.79" y1="792.04" x2="501.78" y2="787.03" stroke="#f7f7f7" stroke-width="1.5" stroke-linecap="round"/>
<line x1="500.58" y1="785.52" x2="501.78" y2="787.03" stroke="#e01414" stroke-width="2.5" stroke-linecap="round"/>
<line x1="502.69" y1="789.28" x2="501.78" y2="787.03" stroke="#e01414" stroke-width="2.5" stroke-linecap="round"/>
<line x1="521.36" y1="800.41" x2="516.34" y2="799.07" stroke="#b5b5b5" stroke-width="2.5" stroke-linecap="round"/>
<line x1="521.36" y1="800.41" x2="516.34" y2="799.07" stroke="#f7f7f7" stroke-width="1.5" stroke-linecap="round"/>
<line x1="514.67" y1="802.92" x2="516.34" y2="799.07" stroke="#b5b5b5" stroke-width="2.5" stroke-linecap="round"/>
<line x1="514.67" y1="802.92" x2="516.34" y2="799.07" stroke="#f7f7f7" stroke-width="1.5" stroke-linecap="round"/>
<line x1="518.60" y1="799.67" x2="516.34" y2="799.07" stroke="#e01414" stroke-width="2.5" stroke-linecap="round"/>
<line x1="515.59" y1="800.80" x2="516.34" y2="799.07" stroke="#e01414" stroke-width="2.5" stroke-linecap="round"/>
<circle cx="507.97" cy="785.35" r="5.52" fill="url(#LLi)" stroke="none" stroke-width="1"/>
<line x1="646.19" y1="700.67" x2="643.51" y2="693.64" stroke="#3a46e0" stroke-width="1.3" stroke-linecap="butt"/>
<line x1="643.51" y1="693.64" x2="640.84" y2="686.62" stroke="#6d4346" stroke-width="1.3" stroke-linecap="butt"/>
<line x1="646.19" y1="700.67" x2="643.93" y2="703.43" stroke="#3a46e0" stroke-width="1.3" stroke-linecap="butt"/>
<line x1="643.93" y1="703.43" x2="641.67" y2="706.19" stroke="#6d4346" stroke-width="1.3" stroke-linecap="butt"/>
<line x1="646.19" y1="700.67" x2="652.63" y2="701.34" stroke="#3a46e0" stroke-width="1.3" stroke-linecap="butt"/>
<line x1="652.63" y1="701.34" x2="659.07" y2="702.01" stroke="#e38a57" stroke-width="1.3" stroke-linecap="butt"/>
<line x1="646.19" y1="700.67" x2="645.19" y2="708.20" stroke="#3a46e0" stroke-width="1.3" stroke-linecap="butt"/>
<line x1="645.19" y1="708.20" x2="644.18" y2="715.72" stroke="#e38a57" stroke-width="1.3" stroke-linecap="butt"/>
<circle cx="640.84" cy="686.62" r="3.19" fill="url(#LBr2)" stroke="none" stroke-width="1"/>
<circle cx="641.67" cy="706.19" r="3.19" fill="url(#LBr2)" stroke="none" stroke-width="1"/>
<circle cx="659.07" cy="702.01" r="3.00" fill="url(#LOr)" stroke="none" stroke-width="1"/>
<circle cx="644.18" cy="715.72" r="3.00" fill="url(#LOr)" stroke="none" stroke-width="1"/>
<circle cx="646.19" cy="700.67" r="4.68" fill="url(#LCu)" stroke="none" stroke-width="1"/>
<line x1="994.85" y1="711.21" x2="996.11" y2="704.52" stroke="#3a46e0" stroke-width="1.3" stroke-linecap="butt"/>
<line x1="996.11" y1="704.52" x2="997.36" y2="697.83" stroke="#6d4346" stroke-width="1.3" stroke-linecap="butt"/>
<line x1="994.85" y1="711.21" x2="989.67" y2="713.13" stroke="#3a46e0" stroke-width="1.3" stroke-linecap="butt"/>
<line x1="989.67" y1="713.13" x2="984.48" y2="715.06" stroke="#6d4346" stroke-width="1.3" stroke-linecap="butt"/>
<line x1="994.85" y1="711.21" x2="1000.79" y2="711.63" stroke="#3a46e0" stroke-width="1.3" stroke-linecap="butt"/>
<line x1="1000.79" y1="711.63" x2="1006.73" y2="712.04" stroke="#e38a57" stroke-width="1.3" stroke-linecap="butt"/>
<line x1="994.85" y1="711.21" x2="993.85" y2="719.57" stroke="#3a46e0" stroke-width="1.3" stroke-linecap="butt"/>
<line x1="993.85" y1="719.57" x2="992.84" y2="727.94" stroke="#e38a57" stroke-width="1.3" stroke-linecap="butt"/>
<circle cx="997.36" cy="697.83" r="3.19" fill="url(#LBr2)" stroke="none" stroke-width="1"/>
<circle cx="984.48" cy="715.06" r="3.19" fill="url(#LBr2)" stroke="none" stroke-width="1"/>
<circle cx="1006.73" cy="712.04" r="3.00" fill="url(#LOr)" stroke="none" stroke-width="1"/>
<circle cx="992.84" cy="727.94" r="3.19" fill="url(#LOr)" stroke="none" stroke-width="1"/>
<circle cx="994.85" cy="711.21" r="5.02" fill="url(#LCu)" stroke="none" stroke-width="1"/>
<line x1="925.09" y1="785.50" x2="931.78" y2="786.51" stroke="#b5b5b5" stroke-width="2.5" stroke-linecap="round"/>
<line x1="925.09" y1="785.50" x2="931.78" y2="786.51" stroke="#f7f7f7" stroke-width="1.5" stroke-linecap="round"/>
<line x1="937.64" y1="785.50" x2="931.78" y2="786.51" stroke="#b5b5b5" stroke-width="2.5" stroke-linecap="round"/>
<line x1="937.64" y1="785.50" x2="931.78" y2="786.51" stroke="#f7f7f7" stroke-width="1.5" stroke-linecap="round"/>
<line x1="928.77" y1="786.05" x2="931.78" y2="786.51" stroke="#e01414" stroke-width="2.5" stroke-linecap="round"/>
<line x1="934.42" y1="786.05" x2="931.78" y2="786.51" stroke="#e01414" stroke-width="2.5" stroke-linecap="round"/>
<circle cx="937.14" cy="771.45" r="5.86" fill="url(#LLi)" stroke="none" stroke-width="1"/>
<polyline points="238.70,892.96 246.57,895.28 248.89,903.61 242.87,909.63 233.61,907.78 231.76,898.98 238.70,892.96" fill="none" stroke="#c96a38" stroke-width="2.9" stroke-linejoin="round" stroke-linecap="round"/>
<polyline points="238.70,892.96 240.09,885.09 233.15,882.31" fill="none" stroke="#c96a38" stroke-width="2.9" stroke-linejoin="round" stroke-linecap="round"/>
<polyline points="231.76,898.98 223.89,896.20 220.65,899.91" fill="none" stroke="#c96a38" stroke-width="2.9" stroke-linejoin="round" stroke-linecap="round"/>
<polyline points="233.61,907.78 227.59,914.26 229.91,920.74" fill="none" stroke="#c96a38" stroke-width="2.9" stroke-linejoin="round" stroke-linecap="round"/>
<polyline points="242.87,909.63 245.65,918.43" fill="none" stroke="#c96a38" stroke-width="2.9" stroke-linejoin="round" stroke-linecap="round"/>
<polyline points="248.89,903.61 258.15,905.93 265.09,899.91" fill="none" stroke="#c96a38" stroke-width="2.9" stroke-linejoin="round" stroke-linecap="round"/>
<polyline points="258.15,905.93 260.00,912.41" fill="none" stroke="#c96a38" stroke-width="2.9" stroke-linejoin="round" stroke-linecap="round"/>
<polyline points="238.70,892.96 246.57,895.28 248.89,903.61 242.87,909.63 233.61,907.78 231.76,898.98 238.70,892.96" fill="none" stroke="#e8824c" stroke-width="2.0" stroke-linejoin="round" stroke-linecap="round"/>
<polyline points="238.70,892.96 240.09,885.09 233.15,882.31" fill="none" stroke="#e8824c" stroke-width="2.0" stroke-linejoin="round" stroke-linecap="round"/>
<polyline points="231.76,898.98 223.89,896.20 220.65,899.91" fill="none" stroke="#e8824c" stroke-width="2.0" stroke-linejoin="round" stroke-linecap="round"/>
<polyline points="233.61,907.78 227.59,914.26 229.91,920.74" fill="none" stroke="#e8824c" stroke-width="2.0" stroke-linejoin="round" stroke-linecap="round"/>
<polyline points="242.87,909.63 245.65,918.43" fill="none" stroke="#e8824c" stroke-width="2.0" stroke-linejoin="round" stroke-linecap="round"/>
<polyline points="248.89,903.61 258.15,905.93 265.09,899.91" fill="none" stroke="#e8824c" stroke-width="2.0" stroke-linejoin="round" stroke-linecap="round"/>
<polyline points="258.15,905.93 260.00,912.41" fill="none" stroke="#e8824c" stroke-width="2.0" stroke-linejoin="round" stroke-linecap="round"/>
<line x1="264.17" y1="899.81" x2="266.11" y2="899.26" stroke="#2a1a14" stroke-width="1.8" stroke-linecap="round"/>
<text transform="translate(279.46 910.00) scale(0.955 1)" font-size="15.39" fill="#231f20" stroke="#231f20" stroke-width="0.16" paint-order="stroke"><tspan>Cellulose</tspan></text>
<circle cx="412.90" cy="902.90" r="8.80" fill="url(#LCu)" stroke="none" stroke-width="1"/>
<text transform="translate(429.76 910.00) scale(0.955 1)" font-size="15.39" fill="#231f20" stroke="#231f20" stroke-width="0.16" paint-order="stroke"><tspan>Cu</tspan></text>
<circle cx="561.10" cy="902.70" r="8.80" fill="url(#LOr)" stroke="none" stroke-width="1"/>
<circle cx="592.50" cy="902.70" r="8.80" fill="url(#LBr)" stroke="none" stroke-width="1"/>
<text transform="translate(608.84 908.10) scale(0.955 1)" font-size="15.39" fill="#231f20" stroke="#231f20" stroke-width="0.16" paint-order="stroke"><tspan>O</tspan></text>
<circle cx="731.90" cy="902.70" r="8.80" fill="url(#LLi)" stroke="none" stroke-width="1"/>
<text transform="translate(750.82 908.00) scale(0.955 1)" font-size="15.39" fill="#231f20" stroke="#231f20" stroke-width="0.16" paint-order="stroke"><tspan>Li</tspan></text>
<line x1="855.30" y1="893.00" x2="870.60" y2="907.80" stroke="#8e8e8e" stroke-width="7.4" stroke-linecap="round"/>
<line x1="888.10" y1="894.80" x2="870.60" y2="907.80" stroke="#8e8e8e" stroke-width="7.4" stroke-linecap="round"/>
<line x1="855.05" y1="892.55" x2="870.35" y2="907.35" stroke="#cfcfcf" stroke-width="6.068" stroke-linecap="round"/>
<line x1="887.85" y1="894.35" x2="870.35" y2="907.35" stroke="#cfcfcf" stroke-width="6.068" stroke-linecap="round"/>
<line x1="854.80" y1="892.10" x2="870.10" y2="906.90" stroke="#fbfbfb" stroke-width="3.4040000000000004" stroke-linecap="round"/>
<line x1="887.60" y1="893.90" x2="870.10" y2="906.90" stroke="#fbfbfb" stroke-width="3.4040000000000004" stroke-linecap="round"/>
<line x1="863.56" y1="900.99" x2="870.60" y2="907.80" stroke="#a00808" stroke-width="7.4" stroke-linecap="butt"/>
<line x1="878.65" y1="901.82" x2="870.60" y2="907.80" stroke="#a00808" stroke-width="7.4" stroke-linecap="butt"/>
<circle cx="870.60" cy="907.80" r="3.70" fill="#a00808" stroke="none" stroke-width="1"/>
<line x1="863.31" y1="900.54" x2="870.35" y2="907.35" stroke="#e01010" stroke-width="6.068" stroke-linecap="butt"/>
<line x1="878.40" y1="901.37" x2="870.35" y2="907.35" stroke="#e01010" stroke-width="6.068" stroke-linecap="butt"/>
<circle cx="870.35" cy="907.35" r="3.03" fill="#e01010" stroke="none" stroke-width="1"/>
<line x1="863.06" y1="900.09" x2="870.10" y2="906.90" stroke="#ff3535" stroke-width="3.4040000000000004" stroke-linecap="butt"/>
<line x1="878.15" y1="900.92" x2="870.10" y2="906.90" stroke="#ff3535" stroke-width="3.4040000000000004" stroke-linecap="butt"/>
<circle cx="870.10" cy="906.90" r="1.70" fill="#ff3535" stroke="none" stroke-width="1"/>
<text transform="translate(903.92 908.20) scale(0.955 1)" font-size="15.39" fill="#231f20" stroke="#231f20" stroke-width="0.16" paint-order="stroke"><tspan>H</tspan><tspan dy="4.62" font-size="11.54">2</tspan><tspan dy="-4.62">O</tspan></text>
</svg>
</body></html>
